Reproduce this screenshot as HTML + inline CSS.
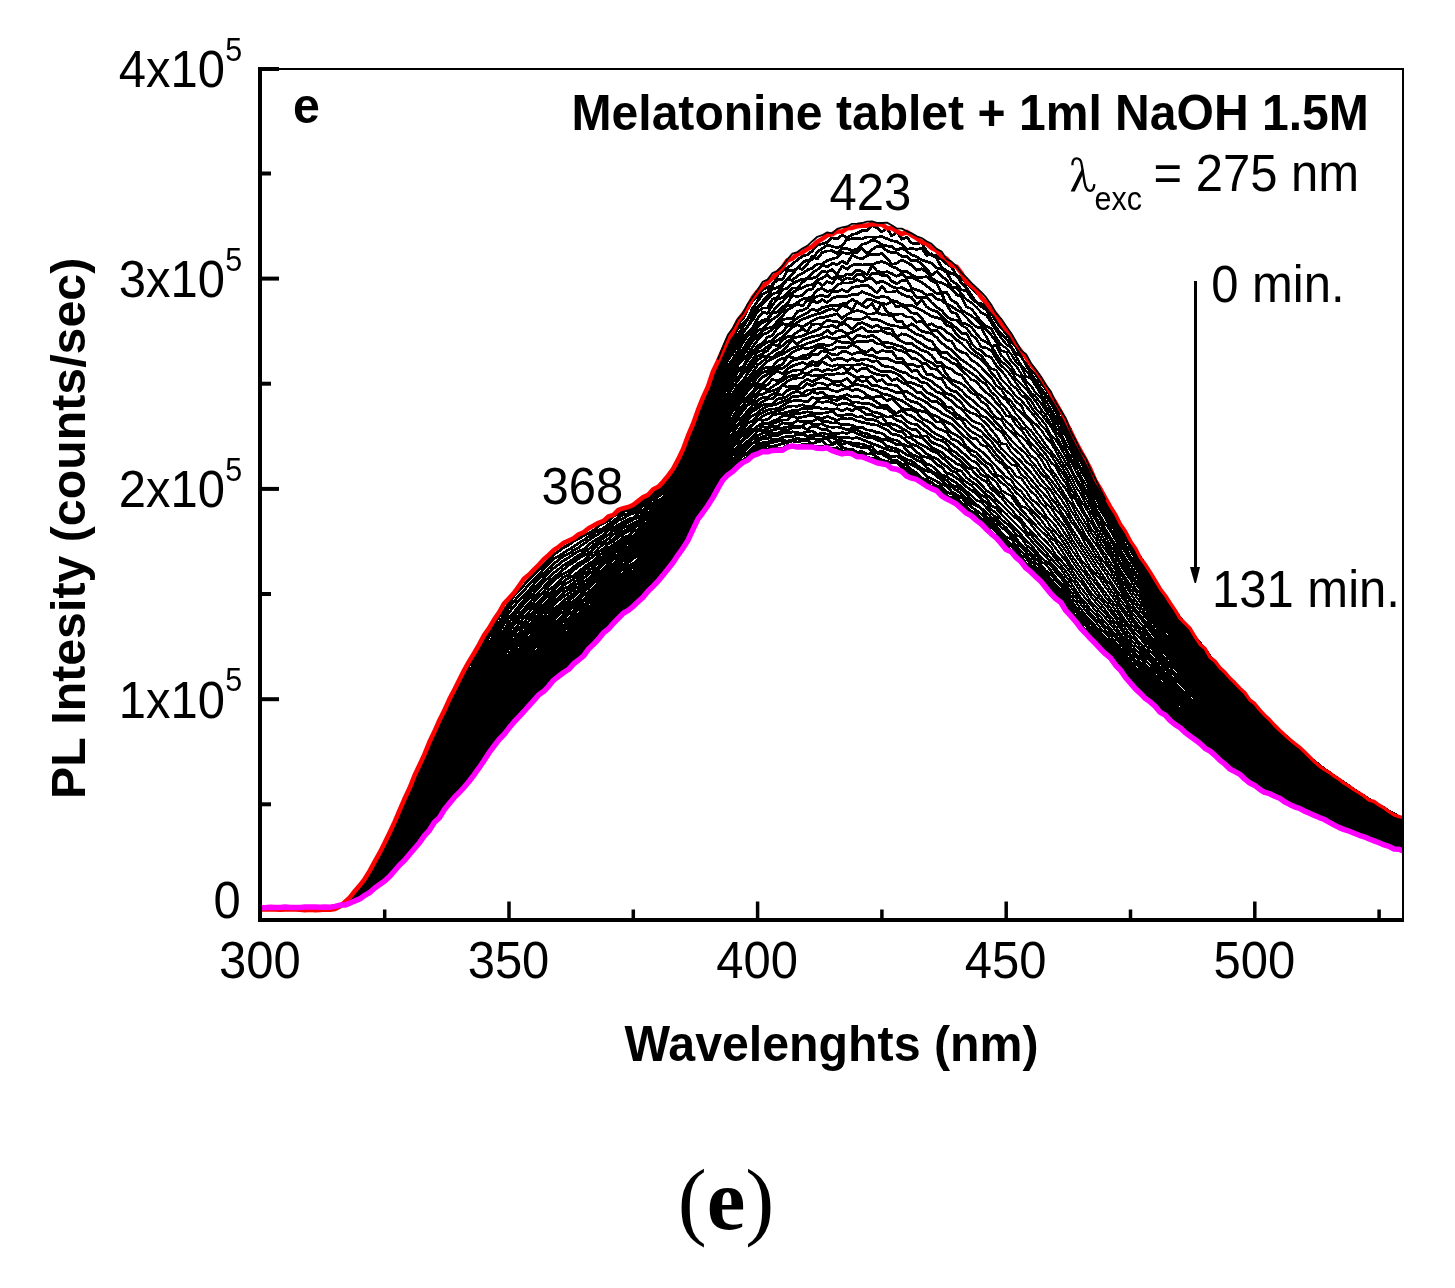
<!DOCTYPE html>
<html><head><meta charset="utf-8"><style>
html,body{margin:0;padding:0;background:#fff;}
body{width:1455px;height:1288px;overflow:hidden;font-family:"Liberation Sans",sans-serif;}
svg{display:block;will-change:transform;}
</style></head><body><svg width="1455" height="1288" viewBox="0 0 1455 1288"><rect width="1455" height="1288" fill="#fff"/><clipPath id="c"><rect x="262" y="70" width="1140" height="848"/></clipPath><g clip-path="url(#c)" fill="none" stroke-linejoin="round"><g stroke="#000" shape-rendering="crispEdges" stroke-linecap="round"><path stroke-width="2.2" d="M1070.8 429.5L1075.8 440.6L1080.8 450.1L1085.8 459.1L1090.7 471.1L1095.7 480.1L1100.7 489.3L1105.6 497.7L1110.6 507.4L1115.6 515.7L1120.6 524.9L1125.5 533.1L1130.5 541.0L1135.5 550.0L1140.4 556.6M1070.8 434.2L1075.8 443.1L1080.8 453.3L1085.8 463.8L1090.7 471.4L1095.7 481.8L1100.7 491.6L1105.6 500.6L1110.6 509.0L1115.6 518.8L1120.6 527.1L1125.5 535.0L1130.5 543.1L1135.5 551.6L1140.4 558.9M1070.8 436.5L1075.8 447.1L1080.8 457.7L1085.8 465.7L1090.7 475.6L1095.7 485.3L1100.7 495.1L1105.6 502.9L1110.6 512.7L1115.6 520.0L1120.6 529.3L1125.5 537.9L1130.5 546.4L1135.5 554.0L1140.4 560.2M1070.8 441.1L1075.8 449.3L1080.8 460.2L1085.8 468.6L1090.7 478.7L1095.7 490.1L1100.7 497.7L1105.6 505.5L1110.6 514.6L1115.6 523.6L1120.6 532.9L1125.5 540.5L1130.5 547.7L1135.5 555.9L1140.4 563.5M1070.8 441.9L1075.8 453.5L1080.8 462.5L1085.8 472.8L1090.7 482.5L1095.7 491.0L1100.7 500.0L1105.6 509.6L1110.6 518.0L1115.6 526.0L1120.6 536.4L1125.5 545.0L1130.5 550.7L1135.5 559.1L1140.4 567.7M1070.8 447.3L1075.8 457.7L1080.8 468.3L1085.8 476.8L1090.7 486.2L1095.7 494.3L1100.7 505.0L1105.6 513.8L1110.6 521.2L1115.6 529.6L1120.6 537.5L1125.5 547.4L1130.5 556.2L1135.5 562.5L1140.4 570.1M1070.8 451.2L1075.8 462.4L1080.8 471.1L1085.8 478.6L1090.7 490.0L1095.7 498.4L1100.7 507.5L1105.6 517.3L1110.6 524.0L1115.6 532.6L1120.6 542.7L1125.5 550.3L1130.5 558.9L1135.5 565.5L1140.4 572.2M1070.8 457.7L1075.8 466.7L1080.8 476.4L1085.8 484.5L1090.7 493.5L1095.7 503.9L1100.7 511.0L1105.6 518.7L1110.6 529.1L1115.6 536.5L1120.6 545.3L1125.5 553.0L1130.5 560.8L1135.5 568.2L1140.4 575.8M1070.8 461.6L1075.8 471.6L1080.8 479.9L1085.8 489.6L1090.7 497.7L1095.7 508.3L1100.7 516.6L1105.6 524.3L1110.6 531.3L1115.6 540.2L1120.6 549.8L1125.5 558.4L1130.5 565.3L1135.5 573.0L1140.4 579.2M1070.8 467.7L1075.8 477.5L1080.8 485.2L1085.8 493.5L1090.7 502.7L1095.7 512.5L1100.7 519.5L1105.6 529.2L1110.6 537.3L1115.6 544.8L1120.6 553.5L1125.5 561.7L1130.5 569.7L1135.5 575.6L1140.4 583.7M1070.8 470.1L1075.8 480.1L1080.8 489.3L1085.8 498.8L1090.7 507.2L1095.7 516.9L1100.7 524.4L1105.6 532.6L1110.6 540.6L1115.6 549.2L1120.6 556.8L1125.5 565.8L1130.5 573.0L1135.5 580.0L1140.4 586.9M1070.8 476.4L1075.8 486.6L1080.8 493.9L1085.8 503.8L1090.7 512.0L1095.7 520.3L1100.7 529.3L1105.6 536.3L1110.6 546.0L1115.6 552.6L1120.6 562.2L1125.5 568.6L1130.5 577.0L1135.5 583.2L1140.4 590.1M1070.8 482.1L1075.8 492.2L1080.8 500.5L1085.8 507.9L1090.7 516.7L1095.7 526.4L1100.7 533.7L1105.6 541.2L1110.6 549.9L1115.6 557.0L1120.6 565.1L1125.5 573.0L1130.5 579.7L1135.5 588.2L1140.4 594.0M1070.8 487.9L1075.8 497.1L1080.8 504.6L1085.8 514.9L1090.7 521.8L1095.7 530.2L1100.7 538.0L1105.6 545.5L1110.6 553.9L1115.6 561.5L1120.6 570.4L1125.5 577.7L1130.5 585.0L1135.5 591.7L1140.4 597.9M1070.8 493.9L1075.8 500.1L1080.8 509.4L1085.8 517.5L1090.7 528.1L1095.7 534.3L1100.7 542.9L1105.6 550.1L1110.6 557.1L1115.6 565.7L1120.6 574.1L1125.5 581.5L1130.5 589.4L1135.5 595.7L1140.4 602.5M1070.8 497.5L1075.8 507.8L1080.8 515.2L1085.8 523.6L1090.7 532.2L1095.7 539.2L1100.7 548.0L1105.6 555.1L1110.6 562.9L1115.6 569.9L1120.6 578.4L1125.5 585.5L1130.5 593.5L1135.5 600.5L1140.4 607.0M1070.8 503.5L1075.8 513.4L1080.8 521.0L1085.8 528.9L1090.7 537.3L1095.7 544.0L1100.7 551.9L1105.6 559.7L1110.6 567.5L1115.6 574.5L1120.6 582.4L1125.5 590.5L1130.5 598.0L1135.5 604.5L1140.4 611.2M1070.8 509.9L1075.8 518.1L1080.8 526.5L1085.8 535.8L1090.7 542.5L1095.7 550.0L1100.7 558.1L1105.6 563.7L1110.6 571.1L1115.6 579.0L1120.6 586.5L1125.5 594.7L1130.5 601.4L1135.5 609.1L1140.4 615.4M1070.8 516.3L1075.8 524.3L1080.8 531.8L1085.8 539.5L1090.7 546.5L1095.7 555.0L1100.7 562.0L1105.6 569.2L1110.6 576.0L1115.6 583.6L1120.6 591.1L1125.5 598.8L1130.5 606.4L1135.5 612.6L1140.4 618.1M1070.8 521.1L1075.8 527.6L1080.8 535.4L1085.8 544.9L1090.7 552.2L1095.7 559.7L1100.7 566.4L1105.6 573.6L1110.6 581.2L1115.6 589.0L1120.6 595.4L1125.5 602.2L1130.5 610.6L1135.5 616.9L1140.4 623.2M1070.8 527.0L1075.8 534.6L1080.8 542.7L1085.8 549.8L1090.7 556.8L1095.7 564.9L1100.7 572.0L1105.6 579.6L1110.6 584.4L1115.6 592.5L1120.6 600.4L1125.5 606.7L1130.5 614.1L1135.5 621.7L1140.4 627.6M1070.8 531.2L1075.8 539.5L1080.8 547.2L1085.8 554.8L1090.7 561.9L1095.7 569.9L1100.7 576.5L1105.6 582.3L1110.6 590.0L1115.6 596.5L1120.6 605.1L1125.5 611.3L1130.5 618.3L1135.5 625.1L1140.4 631.1M1070.8 537.7L1075.8 545.1L1080.8 552.3L1085.8 559.7L1090.7 569.2L1095.7 574.2L1100.7 580.2L1105.6 587.3L1110.6 594.3L1115.6 601.3L1120.6 608.6L1125.5 615.3L1130.5 622.9L1135.5 629.0L1140.4 634.7M1070.8 542.6L1075.8 550.2L1080.8 559.2L1085.8 565.2L1090.7 571.8L1095.7 579.7L1100.7 586.3L1105.6 593.0L1110.6 599.8L1115.6 605.4L1120.6 613.4L1125.5 620.5L1130.5 626.8L1135.5 633.4L1140.4 638.1M1070.8 548.5L1075.8 555.8L1080.8 562.4L1085.8 570.8L1090.7 577.3L1095.7 583.5L1100.7 590.1L1105.6 597.4L1110.6 603.3L1115.6 610.2L1120.6 617.4L1125.5 624.2L1130.5 630.3L1135.5 637.6L1140.4 643.5M1070.8 554.1L1075.8 561.4L1080.8 568.3L1085.8 574.4L1090.7 581.9L1095.7 588.8L1100.7 596.0L1105.6 601.6L1110.6 607.8L1115.6 615.0L1120.6 621.3L1125.5 628.3L1130.5 635.1L1135.5 640.8L1140.4 647.5M1070.8 558.7L1075.8 566.2L1080.8 573.2L1085.8 579.8L1090.7 586.6L1095.7 593.6L1100.7 599.6L1105.6 605.3L1110.6 611.8L1115.6 618.4L1120.6 625.5L1125.5 632.4L1130.5 639.0L1135.5 645.1L1140.4 651.0M1070.8 564.7L1075.8 571.0L1080.8 577.9L1085.8 585.2L1090.7 592.1L1095.7 598.1L1100.7 603.7L1105.6 610.3L1110.6 616.7L1115.6 622.5L1120.6 629.0L1125.5 636.4L1130.5 643.0L1135.5 649.5L1140.4 654.8M1070.8 568.4L1075.8 576.3L1080.8 581.9L1085.8 588.7L1090.7 596.0L1095.7 602.5L1100.7 608.2L1105.6 613.4L1110.6 620.5L1115.6 626.3L1120.6 633.7L1125.5 640.1L1130.5 646.8L1135.5 653.1L1140.4 658.3M1070.8 573.1L1075.8 580.5L1080.8 587.7L1085.8 593.8L1090.7 601.4L1095.7 606.7L1100.7 612.8L1105.6 618.1L1110.6 624.1L1115.6 630.5L1120.6 637.4L1125.5 643.8L1130.5 650.3L1135.5 656.7L1140.4 662.1M1070.8 578.3L1075.8 584.6L1080.8 592.5L1085.8 598.9L1090.7 604.3L1095.7 610.9L1100.7 617.0L1105.6 622.5L1110.6 628.7L1115.6 634.9L1120.6 640.5L1125.5 647.5L1130.5 654.2L1135.5 660.5L1140.4 666.0M1070.8 582.5L1075.8 590.1L1080.8 597.8L1085.8 603.0L1090.7 609.8L1095.7 614.8L1100.7 620.9L1105.6 626.4L1110.6 632.3L1115.6 637.9L1120.6 644.3L1125.5 651.2L1130.5 657.0L1135.5 663.3L1140.4 669.1M1070.8 587.0L1075.8 594.3L1080.8 600.5L1085.8 606.8L1090.7 614.0L1095.7 619.3L1100.7 623.8L1105.6 630.3L1110.6 635.6L1115.6 642.3L1120.6 648.2L1125.5 654.5L1130.5 661.0L1135.5 667.1L1140.4 672.2M1070.8 591.8L1075.8 597.9L1080.8 604.3L1085.8 611.0L1090.7 616.9L1095.7 621.6L1100.7 628.6L1105.6 633.7L1110.6 639.3L1115.6 645.4L1120.6 651.1L1125.5 657.8L1130.5 664.5L1135.5 670.5L1140.4 675.5M1070.8 595.7L1075.8 602.0L1080.8 608.8L1085.8 615.6L1090.7 620.5L1095.7 626.3L1100.7 632.2L1105.6 637.9L1110.6 642.4L1115.6 648.6L1120.6 654.5L1125.5 660.7L1130.5 667.1L1135.5 673.0L1140.4 677.8M1070.8 599.7L1075.8 606.4L1080.8 612.8L1085.8 618.6L1090.7 623.9L1095.7 629.7L1100.7 635.4L1105.6 640.2L1110.6 645.7L1115.6 651.1L1120.6 658.0L1125.5 663.7L1130.5 669.9L1135.5 675.9L1140.4 680.9M1070.8 603.1L1075.8 610.1L1080.8 615.8L1085.8 621.6L1090.7 627.5L1095.7 633.0L1100.7 638.1L1105.6 643.1L1110.6 648.3L1115.6 654.2L1120.6 660.2L1125.5 666.6L1130.5 672.8L1135.5 678.6L1140.4 683.7M1070.8 606.7L1075.8 611.9L1080.8 618.8L1085.8 624.1L1090.7 630.1L1095.7 635.9L1100.7 641.2L1105.6 646.4L1110.6 651.2L1115.6 657.0L1120.6 663.0L1125.5 669.2L1130.5 675.1L1135.5 681.4L1140.4 686.1M1070.8 608.3L1075.8 616.0L1080.8 622.1L1085.8 625.9L1090.7 632.3L1095.7 638.2L1100.7 643.3L1105.6 648.4L1110.6 653.8L1115.6 659.5L1120.6 665.5L1125.5 671.8L1130.5 677.4L1135.5 683.5L1140.4 687.7M1070.8 611.1L1075.8 618.1L1080.8 623.9L1085.8 629.9L1090.7 635.2L1095.7 640.1L1100.7 645.3L1105.6 650.9L1110.6 655.5L1115.6 660.9L1120.6 667.4L1125.5 673.5L1130.5 679.3L1135.5 685.2L1140.4 689.8M1070.8 614.2L1075.8 620.9L1080.8 625.7L1085.8 632.2L1090.7 637.5L1095.7 641.7L1100.7 646.7L1105.6 652.0L1110.6 657.5L1115.6 663.1L1120.6 668.8L1125.5 674.9L1130.5 680.9L1135.5 686.8L1140.4 691.8M1070.8 615.2L1075.8 621.1L1080.8 627.0L1085.8 633.2L1090.7 638.5L1095.7 643.8L1100.7 648.2L1105.6 654.3L1110.6 659.1L1115.6 664.5L1120.6 669.9L1125.5 676.6L1130.5 682.1L1135.5 688.4L1140.4 693.1"/><path stroke-width="2.4" d="M1001.2 324.8L1006.2 330.5L1011.2 338.0L1016.1 344.5L1021.1 352.2L1026.1 358.5L1031.1 365.5L1036.0 371.1L1041.0 378.8L1046.0 389.0L1050.9 394.4L1055.9 402.5L1060.9 412.5L1065.9 422.6L1070.8 429.5M1140.4 556.6L1145.4 564.8L1150.4 572.7L1155.4 580.5L1160.3 588.4L1165.3 596.4L1170.3 603.4L1175.2 610.6L1180.2 617.3L1185.2 624.2L1190.2 630.4L1195.1 636.7L1200.1 642.8M1001.2 328.3L1006.2 333.6L1011.2 342.2L1016.1 347.1L1021.1 357.0L1026.1 363.6L1031.1 370.4L1036.0 375.2L1041.0 383.3L1046.0 389.7L1050.9 397.4L1055.9 405.9L1060.9 413.4L1065.9 422.3L1070.8 434.2M1140.4 558.9L1145.4 565.5L1150.4 575.1L1155.4 582.8L1160.3 590.9L1165.3 597.6L1170.3 605.1L1175.2 611.8L1180.2 619.9L1185.2 625.2L1190.2 632.3L1195.1 637.9L1200.1 644.6M1001.2 333.6L1006.2 338.7L1011.2 346.2L1016.1 353.8L1021.1 355.7L1026.1 365.9L1031.1 373.4L1036.0 380.3L1041.0 388.2L1046.0 394.6L1050.9 401.5L1055.9 409.8L1060.9 418.8L1065.9 426.4L1070.8 436.5M1140.4 560.2L1145.4 568.2L1150.4 576.8L1155.4 584.3L1160.3 591.7L1165.3 600.3L1170.3 607.4L1175.2 614.5L1180.2 620.6L1185.2 627.6L1190.2 633.4L1195.1 640.4L1200.1 646.0M1001.2 338.1L1006.2 344.0L1011.2 348.2L1016.1 356.6L1021.1 364.8L1026.1 371.0L1031.1 376.7L1036.0 382.4L1041.0 390.9L1046.0 396.4L1050.9 403.6L1055.9 412.3L1060.9 423.0L1065.9 430.7L1070.8 441.1M1140.4 563.5L1145.4 571.3L1150.4 579.7L1155.4 587.2L1160.3 595.1L1165.3 601.7L1170.3 609.9L1175.2 617.3L1180.2 623.3L1185.2 629.4L1190.2 635.7L1195.1 642.7L1200.1 648.0M1001.2 344.7L1006.2 348.2L1011.2 354.3L1016.1 361.9L1021.1 366.3L1026.1 376.8L1031.1 378.3L1036.0 386.5L1041.0 394.1L1046.0 401.1L1050.9 409.2L1055.9 417.5L1060.9 425.3L1065.9 435.5L1070.8 441.9M1140.4 567.7L1145.4 574.4L1150.4 581.9L1155.4 589.5L1160.3 597.1L1165.3 604.6L1170.3 611.7L1175.2 619.2L1180.2 625.1L1185.2 631.4L1190.2 637.5L1195.1 644.2L1200.1 650.2M1001.2 350.7L1006.2 352.2L1011.2 361.2L1016.1 365.9L1021.1 373.7L1026.1 380.8L1031.1 386.0L1036.0 393.5L1041.0 397.2L1046.0 407.1L1050.9 412.7L1055.9 422.2L1060.9 430.0L1065.9 436.1L1070.8 447.3M1140.4 570.1L1145.4 577.2L1150.4 584.2L1155.4 593.1L1160.3 599.6L1165.3 607.4L1170.3 614.7L1175.2 621.8L1180.2 628.0L1185.2 634.2L1190.2 640.0L1195.1 646.1L1200.1 652.9M1001.2 355.4L1006.2 360.6L1011.2 366.0L1016.1 374.2L1021.1 377.1L1026.1 385.1L1031.1 393.0L1036.0 397.2L1041.0 403.4L1046.0 410.7L1050.9 417.6L1055.9 427.8L1060.9 433.4L1065.9 443.9L1070.8 451.2M1140.4 572.2L1145.4 580.0L1150.4 588.3L1155.4 595.9L1160.3 603.0L1165.3 610.4L1170.3 617.4L1175.2 624.0L1180.2 631.3L1185.2 636.7L1190.2 642.5L1195.1 648.9L1200.1 655.6M1001.2 361.7L1006.2 365.0L1011.2 370.7L1016.1 379.2L1021.1 384.2L1026.1 388.8L1031.1 395.9L1036.0 401.7L1041.0 409.3L1046.0 415.7L1050.9 424.2L1055.9 431.7L1060.9 437.5L1065.9 448.1L1070.8 457.7M1140.4 575.8L1145.4 583.6L1150.4 589.9L1155.4 598.9L1160.3 605.6L1165.3 612.9L1170.3 620.6L1175.2 627.0L1180.2 632.7L1185.2 640.1L1190.2 645.2L1195.1 651.8L1200.1 658.0M1001.2 365.8L1006.2 369.8L1011.2 376.3L1016.1 383.0L1021.1 390.0L1026.1 395.5L1031.1 400.7L1036.0 408.9L1041.0 413.6L1046.0 420.2L1050.9 426.6L1055.9 435.2L1060.9 444.6L1065.9 451.0L1070.8 461.6M1140.4 579.2L1145.4 586.7L1150.4 594.3L1155.4 602.0L1160.3 608.7L1165.3 616.9L1170.3 623.9L1175.2 629.6L1180.2 635.7L1185.2 642.4L1190.2 648.1L1195.1 653.6L1200.1 660.8M1001.2 370.5L1006.2 376.7L1011.2 384.6L1016.1 388.2L1021.1 395.1L1026.1 399.0L1031.1 407.1L1036.0 413.5L1041.0 418.9L1046.0 425.4L1050.9 435.2L1055.9 439.9L1060.9 448.1L1065.9 456.8L1070.8 467.7M1140.4 583.7L1145.4 590.2L1150.4 597.4L1155.4 605.3L1160.3 612.5L1165.3 619.3L1170.3 625.9L1175.2 632.7L1180.2 639.7L1185.2 645.8L1190.2 651.4L1195.1 657.6L1200.1 663.1M1001.2 379.1L1006.2 384.1L1011.2 389.8L1016.1 396.3L1021.1 400.2L1026.1 406.3L1031.1 412.1L1036.0 418.2L1041.0 425.1L1046.0 430.1L1050.9 437.7L1055.9 447.0L1060.9 454.2L1065.9 463.0L1070.8 470.1M1140.4 586.9L1145.4 594.2L1150.4 601.7L1155.4 609.1L1160.3 616.1L1165.3 623.4L1170.3 629.8L1175.2 636.7L1180.2 642.2L1185.2 647.4L1190.2 654.6L1195.1 660.1L1200.1 665.7M1001.2 385.3L1006.2 391.0L1011.2 394.9L1016.1 401.9L1021.1 405.3L1026.1 415.5L1031.1 420.2L1036.0 424.6L1041.0 429.7L1046.0 437.6L1050.9 442.4L1055.9 451.2L1060.9 460.3L1065.9 468.0L1070.8 476.4M1140.4 590.1L1145.4 597.8L1150.4 605.2L1155.4 611.7L1160.3 619.9L1165.3 626.1L1170.3 633.1L1175.2 639.5L1180.2 645.5L1185.2 650.5L1190.2 657.6L1195.1 663.2L1200.1 668.8M1001.2 389.3L1006.2 397.1L1011.2 401.4L1016.1 408.2L1021.1 412.4L1026.1 418.3L1031.1 423.4L1036.0 431.3L1041.0 437.6L1046.0 445.1L1050.9 451.2L1055.9 457.7L1060.9 464.9L1065.9 473.6L1070.8 482.1M1140.4 594.0L1145.4 601.2L1150.4 608.2L1155.4 616.1L1160.3 622.9L1165.3 629.9L1170.3 635.8L1175.2 642.6L1180.2 648.0L1185.2 654.4L1190.2 660.2L1195.1 665.9L1200.1 672.4M1001.2 396.1L1006.2 400.3L1011.2 406.4L1016.1 414.2L1021.1 419.6L1026.1 426.6L1031.1 430.7L1036.0 437.5L1041.0 443.9L1046.0 449.8L1050.9 455.1L1055.9 462.9L1060.9 470.7L1065.9 477.9L1070.8 487.9M1140.4 597.9L1145.4 605.3L1150.4 612.0L1155.4 619.9L1160.3 626.5L1165.3 634.0L1170.3 640.1L1175.2 646.3L1180.2 651.8L1185.2 657.5L1190.2 663.4L1195.1 669.2L1200.1 674.5M1001.2 403.5L1006.2 408.5L1011.2 415.1L1016.1 419.4L1021.1 426.3L1026.1 429.9L1031.1 437.3L1036.0 442.3L1041.0 448.7L1046.0 454.7L1050.9 462.3L1055.9 467.0L1060.9 476.5L1065.9 483.0L1070.8 493.9M1140.4 602.5L1145.4 609.1L1150.4 616.3L1155.4 624.0L1160.3 630.3L1165.3 637.0L1170.3 643.1L1175.2 649.0L1180.2 655.4L1185.2 660.2L1190.2 666.0L1195.1 671.9L1200.1 677.5M1001.2 408.1L1006.2 415.7L1011.2 417.1L1016.1 425.3L1021.1 429.5L1026.1 436.6L1031.1 443.7L1036.0 447.9L1041.0 454.6L1046.0 459.8L1050.9 469.1L1055.9 475.4L1060.9 482.9L1065.9 488.8L1070.8 497.5M1140.4 607.0L1145.4 613.4L1150.4 620.2L1155.4 625.9L1160.3 634.2L1165.3 640.4L1170.3 646.8L1175.2 652.6L1180.2 657.8L1185.2 663.6L1190.2 669.6L1195.1 675.5L1200.1 680.4M1001.2 415.4L1006.2 421.7L1011.2 425.4L1016.1 432.9L1021.1 436.4L1026.1 441.3L1031.1 447.8L1036.0 452.9L1041.0 459.1L1046.0 467.7L1050.9 473.0L1055.9 480.6L1060.9 488.6L1065.9 496.5L1070.8 503.5M1140.4 611.2L1145.4 617.0L1150.4 623.7L1155.4 630.8L1160.3 637.4L1165.3 643.9L1170.3 650.8L1175.2 656.0L1180.2 661.2L1185.2 667.1L1190.2 673.1L1195.1 678.1L1200.1 684.0M1001.2 419.5L1006.2 427.6L1011.2 431.8L1016.1 436.5L1021.1 443.1L1026.1 449.1L1031.1 456.0L1036.0 459.2L1041.0 467.5L1046.0 474.5L1050.9 479.7L1055.9 486.7L1060.9 493.3L1065.9 500.2L1070.8 509.9M1140.4 615.4L1145.4 621.5L1150.4 627.6L1155.4 634.7L1160.3 641.5L1165.3 647.3L1170.3 653.9L1175.2 659.7L1180.2 664.9L1185.2 670.7L1190.2 676.0L1195.1 680.9L1200.1 686.7M1001.2 427.8L1006.2 434.0L1011.2 440.0L1016.1 445.2L1021.1 449.5L1026.1 454.1L1031.1 461.0L1036.0 466.6L1041.0 473.6L1046.0 478.2L1050.9 484.9L1055.9 492.6L1060.9 498.7L1065.9 506.6L1070.8 516.3M1140.4 618.1L1145.4 624.8L1150.4 631.0L1155.4 638.0L1160.3 645.1L1165.3 651.4L1170.3 657.1L1175.2 662.9L1180.2 667.9L1185.2 673.0L1190.2 678.4L1195.1 684.0L1200.1 690.0M1001.2 431.6L1006.2 438.9L1011.2 446.1L1016.1 450.7L1021.1 455.2L1026.1 461.9L1031.1 465.2L1036.0 472.5L1041.0 479.1L1046.0 485.2L1050.9 490.4L1055.9 498.6L1060.9 506.3L1065.9 512.1L1070.8 521.1M1140.4 623.2L1145.4 629.2L1150.4 636.4L1155.4 642.1L1160.3 648.8L1165.3 654.3L1170.3 660.6L1175.2 666.0L1180.2 671.4L1185.2 676.8L1190.2 681.8L1195.1 687.8L1200.1 692.3M1001.2 443.5L1006.2 444.1L1011.2 452.4L1016.1 457.1L1021.1 461.5L1026.1 467.6L1031.1 472.8L1036.0 478.9L1041.0 485.5L1046.0 489.3L1050.9 498.1L1055.9 503.4L1060.9 511.7L1065.9 518.4L1070.8 527.0M1140.4 627.6L1145.4 632.8L1150.4 639.9L1155.4 646.3L1160.3 652.6L1165.3 658.7L1170.3 664.4L1175.2 669.4L1180.2 674.6L1185.2 680.1L1190.2 685.2L1195.1 690.9L1200.1 695.5M1001.2 448.4L1006.2 453.0L1011.2 457.9L1016.1 462.6L1021.1 467.9L1026.1 473.6L1031.1 479.4L1036.0 485.4L1041.0 491.1L1046.0 496.4L1050.9 503.0L1055.9 509.9L1060.9 515.1L1065.9 523.2L1070.8 531.2M1140.4 631.1L1145.4 637.1L1150.4 643.9L1155.4 649.8L1160.3 656.3L1165.3 662.5L1170.3 667.5L1175.2 673.6L1180.2 678.3L1185.2 683.4L1190.2 688.0L1195.1 693.7L1200.1 698.7M1001.2 453.4L1006.2 459.1L1011.2 464.4L1016.1 465.8L1021.1 474.7L1026.1 478.2L1031.1 485.5L1036.0 490.2L1041.0 496.7L1046.0 503.7L1050.9 507.5L1055.9 515.5L1060.9 522.0L1065.9 528.0L1070.8 537.7M1140.4 634.7L1145.4 640.8L1150.4 647.0L1155.4 653.7L1160.3 659.8L1165.3 665.6L1170.3 671.3L1175.2 676.5L1180.2 681.9L1185.2 686.1L1190.2 691.5L1195.1 696.6L1200.1 701.3M1001.2 459.4L1006.2 465.4L1011.2 469.2L1016.1 476.4L1021.1 478.2L1026.1 485.0L1031.1 491.8L1036.0 495.6L1041.0 503.2L1046.0 507.5L1050.9 514.8L1055.9 520.4L1060.9 527.3L1065.9 535.0L1070.8 542.6M1140.4 638.1L1145.4 644.8L1150.4 651.6L1155.4 656.5L1160.3 663.1L1165.3 669.4L1170.3 674.9L1175.2 680.2L1180.2 684.0L1185.2 689.4L1190.2 694.7L1195.1 699.1L1200.1 704.4M1001.2 463.2L1006.2 468.7L1011.2 475.8L1016.1 481.0L1021.1 486.3L1026.1 491.1L1031.1 499.1L1036.0 502.6L1041.0 507.7L1046.0 515.7L1050.9 520.9L1055.9 526.5L1060.9 534.1L1065.9 540.5L1070.8 548.5M1140.4 643.5L1145.4 649.2L1150.4 655.3L1155.4 660.9L1160.3 667.2L1165.3 673.3L1170.3 678.0L1175.2 683.5L1180.2 688.2L1185.2 692.8L1190.2 698.0L1195.1 702.6L1200.1 707.1M1001.2 471.6L1006.2 477.1L1011.2 479.9L1016.1 488.0L1021.1 491.1L1026.1 498.4L1031.1 503.1L1036.0 509.5L1041.0 514.3L1046.0 519.4L1050.9 527.0L1055.9 532.5L1060.9 538.8L1065.9 545.9L1070.8 554.1M1140.4 647.5L1145.4 652.9L1150.4 658.4L1155.4 664.1L1160.3 670.5L1165.3 676.7L1170.3 681.3L1175.2 686.0L1180.2 691.0L1185.2 695.2L1190.2 699.9L1195.1 705.2L1200.1 710.0M1001.2 476.5L1006.2 482.2L1011.2 486.3L1016.1 492.7L1021.1 496.8L1026.1 503.4L1031.1 509.7L1036.0 514.4L1041.0 519.7L1046.0 526.9L1050.9 531.1L1055.9 538.6L1060.9 544.0L1065.9 551.3L1070.8 558.7M1140.4 651.0L1145.4 656.0L1150.4 661.2L1155.4 668.0L1160.3 673.4L1165.3 679.3L1170.3 684.4L1175.2 689.6L1180.2 693.7L1185.2 698.7L1190.2 703.3L1195.1 707.9L1200.1 712.6M1001.2 482.5L1006.2 486.2L1011.2 492.0L1016.1 498.8L1021.1 506.2L1026.1 507.9L1031.1 513.5L1036.0 520.0L1041.0 525.8L1046.0 530.7L1050.9 537.3L1055.9 542.1L1060.9 549.2L1065.9 556.9L1070.8 564.7M1140.4 654.8L1145.4 660.0L1150.4 665.6L1155.4 671.2L1160.3 677.0L1165.3 682.8L1170.3 687.8L1175.2 692.9L1180.2 696.7L1185.2 701.6L1190.2 706.1L1195.1 711.4L1200.1 715.8M1001.2 490.1L1006.2 493.4L1011.2 495.9L1016.1 503.6L1021.1 509.7L1026.1 514.8L1031.1 520.8L1036.0 525.7L1041.0 531.0L1046.0 535.2L1050.9 541.8L1055.9 548.7L1060.9 555.1L1065.9 560.8L1070.8 568.4M1140.4 658.3L1145.4 664.1L1150.4 669.6L1155.4 675.1L1160.3 681.1L1165.3 686.0L1170.3 691.4L1175.2 695.7L1180.2 699.7L1185.2 704.5L1190.2 709.0L1195.1 713.6L1200.1 718.4M1001.2 493.0L1006.2 499.5L1011.2 503.8L1016.1 508.9L1021.1 514.5L1026.1 519.0L1031.1 524.4L1036.0 531.1L1041.0 536.8L1046.0 541.5L1050.9 546.8L1055.9 555.2L1060.9 560.4L1065.9 566.6L1070.8 573.1M1140.4 662.1L1145.4 667.8L1150.4 672.6L1155.4 678.0L1160.3 683.9L1165.3 689.8L1170.3 694.1L1175.2 698.6L1180.2 702.8L1185.2 707.4L1190.2 711.9L1195.1 716.2L1200.1 720.9M1001.2 497.4L1006.2 503.9L1011.2 509.1L1016.1 515.2L1021.1 519.4L1026.1 526.2L1031.1 531.5L1036.0 536.6L1041.0 542.3L1046.0 547.3L1050.9 552.5L1055.9 559.1L1060.9 565.2L1065.9 571.4L1070.8 578.3M1140.4 666.0L1145.4 670.1L1150.4 676.0L1155.4 681.7L1160.3 687.4L1165.3 692.9L1170.3 697.0L1175.2 701.4L1180.2 705.4L1185.2 710.2L1190.2 714.2L1195.1 719.3L1200.1 723.7M1001.2 504.3L1006.2 509.0L1011.2 514.3L1016.1 518.3L1021.1 523.1L1026.1 531.1L1031.1 535.3L1036.0 541.5L1041.0 546.4L1046.0 552.1L1050.9 558.2L1055.9 563.9L1060.9 568.6L1065.9 576.6L1070.8 582.5M1140.4 669.1L1145.4 673.8L1150.4 678.9L1155.4 684.3L1160.3 690.2L1165.3 695.3L1170.3 700.1L1175.2 704.2L1180.2 708.8L1185.2 712.6L1190.2 716.7L1195.1 721.6L1200.1 726.0M1001.2 510.0L1006.2 513.8L1011.2 519.5L1016.1 524.4L1021.1 529.2L1026.1 534.4L1031.1 540.5L1036.0 546.2L1041.0 551.4L1046.0 556.3L1050.9 563.0L1055.9 568.3L1060.9 574.3L1065.9 581.1L1070.8 587.0M1140.4 672.2L1145.4 677.2L1150.4 682.3L1155.4 687.8L1160.3 692.8L1165.3 698.3L1170.3 702.9L1175.2 706.9L1180.2 711.2L1185.2 715.0L1190.2 719.5L1195.1 723.8L1200.1 728.5M1001.2 513.9L1006.2 519.2L1011.2 524.7L1016.1 529.6L1021.1 534.4L1026.1 540.7L1031.1 545.2L1036.0 551.2L1041.0 557.6L1046.0 561.6L1050.9 565.5L1055.9 572.4L1060.9 577.7L1065.9 584.8L1070.8 591.8M1140.4 675.5L1145.4 680.2L1150.4 685.1L1155.4 690.9L1160.3 696.0L1165.3 701.0L1170.3 705.0L1175.2 709.4L1180.2 713.1L1185.2 718.0L1190.2 722.0L1195.1 726.1L1200.1 730.5M1001.2 519.3L1006.2 523.4L1011.2 527.6L1016.1 535.0L1021.1 537.4L1026.1 545.2L1031.1 548.4L1036.0 554.7L1041.0 561.6L1046.0 564.4L1050.9 570.6L1055.9 577.7L1060.9 582.6L1065.9 588.6L1070.8 595.7M1140.4 677.8L1145.4 682.6L1150.4 687.9L1155.4 693.3L1160.3 698.9L1165.3 703.5L1170.3 708.0L1175.2 712.2L1180.2 716.1L1185.2 720.0L1190.2 724.2L1195.1 728.9L1200.1 732.7M1001.2 523.6L1006.2 527.8L1011.2 533.3L1016.1 538.6L1021.1 544.2L1026.1 548.7L1031.1 553.1L1036.0 558.9L1041.0 564.6L1046.0 570.8L1050.9 574.2L1055.9 581.1L1060.9 585.4L1065.9 593.1L1070.8 599.7M1140.4 680.9L1145.4 685.8L1150.4 691.1L1155.4 696.1L1160.3 701.4L1165.3 706.5L1170.3 710.3L1175.2 714.4L1180.2 718.5L1185.2 722.7L1190.2 726.1L1195.1 730.3L1200.1 734.9M1001.2 527.2L1006.2 531.0L1011.2 536.7L1016.1 540.9L1021.1 547.2L1026.1 552.2L1031.1 556.1L1036.0 563.1L1041.0 568.5L1046.0 572.8L1050.9 579.3L1055.9 584.9L1060.9 589.8L1065.9 596.7L1070.8 603.1M1140.4 683.7L1145.4 688.4L1150.4 693.6L1155.4 698.6L1160.3 703.3L1165.3 708.5L1170.3 712.6L1175.2 716.5L1180.2 720.2L1185.2 724.1L1190.2 728.1L1195.1 732.0L1200.1 736.7M1001.2 532.3L1006.2 536.9L1011.2 539.0L1016.1 545.4L1021.1 551.5L1026.1 555.4L1031.1 560.8L1036.0 566.8L1041.0 571.4L1046.0 576.4L1050.9 582.2L1055.9 587.2L1060.9 593.6L1065.9 598.6L1070.8 606.7M1140.4 686.1L1145.4 691.0L1150.4 695.6L1155.4 700.6L1160.3 705.4L1165.3 710.4L1170.3 714.4L1175.2 718.4L1180.2 722.1L1185.2 726.2L1190.2 729.9L1195.1 734.9L1200.1 738.3M1001.2 535.3L1006.2 539.8L1011.2 543.9L1016.1 548.6L1021.1 555.5L1026.1 557.9L1031.1 565.0L1036.0 569.6L1041.0 574.8L1046.0 580.0L1050.9 585.6L1055.9 590.3L1060.9 595.6L1065.9 602.4L1070.8 608.3M1140.4 687.7L1145.4 692.8L1150.4 697.2L1155.4 702.8L1160.3 708.1L1165.3 712.5L1170.3 716.2L1175.2 720.2L1180.2 723.9L1185.2 727.8L1190.2 732.0L1195.1 736.0L1200.1 739.4M1001.2 538.8L1006.2 542.7L1011.2 546.3L1016.1 550.9L1021.1 556.3L1026.1 563.0L1031.1 567.0L1036.0 572.0L1041.0 577.8L1046.0 583.1L1050.9 588.6L1055.9 594.0L1060.9 599.1L1065.9 605.5L1070.8 611.1M1140.4 689.8L1145.4 694.6L1150.4 699.5L1155.4 704.3L1160.3 709.2L1165.3 714.0L1170.3 717.8L1175.2 721.8L1180.2 725.5L1185.2 729.4L1190.2 733.6L1195.1 737.3L1200.1 741.5M1001.2 540.4L1006.2 545.7L1011.2 550.0L1016.1 553.6L1021.1 560.6L1026.1 564.3L1031.1 568.4L1036.0 575.5L1041.0 580.8L1046.0 586.1L1050.9 591.0L1055.9 595.4L1060.9 601.6L1065.9 608.2L1070.8 614.2M1140.4 691.8L1145.4 696.3L1150.4 700.7L1155.4 705.7L1160.3 710.5L1165.3 715.6L1170.3 719.4L1175.2 723.4L1180.2 726.6L1185.2 730.5L1190.2 734.3L1195.1 738.4L1200.1 742.5M1001.2 542.4L1006.2 548.7L1011.2 551.6L1016.1 555.6L1021.1 561.0L1026.1 565.3L1031.1 571.4L1036.0 577.1L1041.0 580.9L1046.0 587.8L1050.9 593.6L1055.9 597.7L1060.9 602.1L1065.9 608.4L1070.8 615.2M1140.4 693.1L1145.4 697.0L1150.4 701.7L1155.4 707.1L1160.3 711.9L1165.3 716.4L1170.3 720.5L1175.2 724.1L1180.2 727.4L1185.2 731.3L1190.2 735.2L1195.1 739.2L1200.1 743.4"/><path stroke-width="2.6" d="M961.5 277.7L966.4 283.8L971.4 287.6L976.4 292.8L981.3 296.6L986.3 306.7L991.3 310.9L996.3 319.5L1001.2 324.8M1200.1 642.8L1205.1 648.9L1210.1 655.9L1215.0 661.8L1220.0 667.3L1225.0 673.2L1229.9 678.7L1234.9 684.1L1239.9 689.4L1244.9 694.1M961.5 283.0L966.4 287.5L971.4 294.8L976.4 302.3L981.3 303.6L986.3 307.5L991.3 313.4L996.3 321.8L1001.2 328.3M1200.1 644.6L1205.1 650.3L1210.1 656.8L1215.0 663.3L1220.0 668.4L1225.0 674.7L1229.9 680.0L1234.9 684.9L1239.9 690.3L1244.9 695.5M961.5 289.6L966.4 291.0L971.4 298.2L976.4 302.4L981.3 306.7L986.3 309.9L991.3 319.4L996.3 327.9L1001.2 333.6M1200.1 646.0L1205.1 652.4L1210.1 658.8L1215.0 664.4L1220.0 670.7L1225.0 676.2L1229.9 681.2L1234.9 686.9L1239.9 692.0L1244.9 697.5M961.5 293.9L966.4 299.5L971.4 302.6L976.4 307.2L981.3 312.6L986.3 315.3L991.3 322.7L996.3 330.8L1001.2 338.1M1200.1 648.0L1205.1 654.6L1210.1 660.8L1215.0 666.8L1220.0 672.2L1225.0 678.0L1229.9 683.3L1234.9 688.8L1239.9 693.9L1244.9 698.7M961.5 296.6L966.4 306.7L971.4 308.9L976.4 315.3L981.3 322.0L986.3 326.1L991.3 328.5L996.3 338.0L1001.2 344.7M1200.1 650.2L1205.1 656.7L1210.1 663.1L1215.0 668.8L1220.0 674.6L1225.0 680.1L1229.9 685.4L1234.9 690.7L1239.9 695.8L1244.9 701.2M961.5 309.7L966.4 313.1L971.4 315.8L976.4 319.9L981.3 324.8L986.3 330.1L991.3 335.1L996.3 342.1L1001.2 350.7M1200.1 652.9L1205.1 658.8L1210.1 664.6L1215.0 670.4L1220.0 676.5L1225.0 681.5L1229.9 687.1L1234.9 692.3L1239.9 698.0L1244.9 703.1M961.5 312.3L966.4 317.4L971.4 322.9L976.4 327.0L981.3 327.9L986.3 336.9L991.3 346.2L996.3 345.0L1001.2 355.4M1200.1 655.6L1205.1 661.7L1210.1 667.3L1215.0 672.9L1220.0 678.9L1225.0 683.8L1229.9 689.3L1234.9 695.2L1239.9 700.0L1244.9 705.2M961.5 323.1L966.4 323.9L971.4 327.1L976.4 333.7L981.3 339.5L986.3 342.4L991.3 345.7L996.3 354.2L1001.2 361.7M1200.1 658.0L1205.1 664.5L1210.1 669.7L1215.0 675.9L1220.0 681.0L1225.0 687.1L1229.9 691.8L1234.9 697.1L1239.9 702.9L1244.9 707.4M961.5 325.4L966.4 328.0L971.4 334.8L976.4 338.9L981.3 347.1L986.3 347.9L991.3 350.5L996.3 358.6L1001.2 365.8M1200.1 660.8L1205.1 666.6L1210.1 672.2L1215.0 678.7L1220.0 683.8L1225.0 688.9L1229.9 694.4L1234.9 699.3L1239.9 704.4L1244.9 709.7M961.5 333.2L966.4 333.2L971.4 343.2L976.4 348.5L981.3 350.6L986.3 355.5L991.3 357.7L996.3 365.5L1001.2 370.5M1200.1 663.1L1205.1 669.2L1210.1 675.1L1215.0 680.3L1220.0 685.9L1225.0 691.6L1229.9 696.7L1234.9 701.7L1239.9 707.1L1244.9 711.8M961.5 338.5L966.4 340.2L971.4 348.3L976.4 352.6L981.3 355.6L986.3 362.7L991.3 368.7L996.3 370.2L1001.2 379.1M1200.1 665.7L1205.1 671.9L1210.1 677.4L1215.0 683.9L1220.0 689.0L1225.0 693.7L1229.9 699.5L1234.9 704.3L1239.9 710.0L1244.9 714.0M961.5 343.3L966.4 348.4L971.4 353.3L976.4 356.2L981.3 359.7L986.3 364.6L991.3 372.9L996.3 378.2L1001.2 385.3M1200.1 668.8L1205.1 674.4L1210.1 679.8L1215.0 685.5L1220.0 691.6L1225.0 696.6L1229.9 701.5L1234.9 706.8L1239.9 712.3L1244.9 716.6M961.5 352.1L966.4 353.6L971.4 360.1L976.4 363.0L981.3 367.3L986.3 373.1L991.3 377.6L996.3 385.7L1001.2 389.3M1200.1 672.4L1205.1 677.7L1210.1 683.3L1215.0 688.7L1220.0 694.0L1225.0 699.6L1229.9 704.7L1234.9 709.1L1239.9 714.6L1244.9 719.3M961.5 359.6L966.4 362.9L971.4 366.7L976.4 370.3L981.3 375.5L986.3 380.7L991.3 385.1L996.3 391.4L1001.2 396.1M1200.1 674.5L1205.1 680.6L1210.1 686.7L1215.0 691.3L1220.0 696.7L1225.0 701.8L1229.9 706.6L1234.9 712.4L1239.9 716.9L1244.9 721.7M961.5 366.6L966.4 369.6L971.4 373.3L976.4 376.9L981.3 381.4L986.3 384.5L991.3 392.3L996.3 396.2L1001.2 403.5M1200.1 677.5L1205.1 683.9L1210.1 688.0L1215.0 694.2L1220.0 699.7L1225.0 704.3L1229.9 709.5L1234.9 714.7L1239.9 719.8L1244.9 723.8M961.5 370.3L966.4 374.4L971.4 379.6L976.4 381.6L981.3 387.8L986.3 392.5L991.3 396.3L996.3 402.8L1001.2 408.1M1200.1 680.4L1205.1 685.9L1210.1 692.0L1215.0 696.7L1220.0 702.8L1225.0 707.3L1229.9 712.1L1234.9 717.5L1239.9 722.4L1244.9 726.2M961.5 375.1L966.4 382.0L971.4 387.9L976.4 393.1L981.3 395.8L986.3 399.7L991.3 404.3L996.3 409.2L1001.2 415.4M1200.1 684.0L1205.1 689.0L1210.1 694.3L1215.0 699.5L1220.0 704.9L1225.0 710.5L1229.9 714.7L1234.9 720.3L1239.9 724.3L1244.9 729.0M961.5 383.7L966.4 387.3L971.4 393.0L976.4 395.3L981.3 401.6L986.3 404.5L991.3 411.9L996.3 418.1L1001.2 419.5M1200.1 686.7L1205.1 691.8L1210.1 697.4L1215.0 702.3L1220.0 708.0L1225.0 712.8L1229.9 717.9L1234.9 722.4L1239.9 726.7L1244.9 732.0M961.5 390.3L966.4 396.0L971.4 399.3L976.4 403.8L981.3 408.1L986.3 411.5L991.3 416.7L996.3 423.1L1001.2 427.8M1200.1 690.0L1205.1 694.6L1210.1 700.5L1215.0 705.7L1220.0 710.4L1225.0 715.4L1229.9 720.1L1234.9 725.0L1239.9 729.8L1244.9 734.1M961.5 397.1L966.4 401.8L971.4 406.7L976.4 409.6L981.3 415.7L986.3 417.7L991.3 422.6L996.3 428.5L1001.2 431.6M1200.1 692.3L1205.1 697.7L1210.1 703.1L1215.0 707.8L1220.0 713.3L1225.0 718.3L1229.9 722.8L1234.9 728.1L1239.9 732.2L1244.9 736.6M961.5 403.0L966.4 410.2L971.4 413.1L976.4 414.6L981.3 419.4L986.3 423.5L991.3 429.8L996.3 435.6L1001.2 443.5M1200.1 695.5L1205.1 700.1L1210.1 705.8L1215.0 711.0L1220.0 716.0L1225.0 720.8L1229.9 725.3L1234.9 730.6L1239.9 734.5L1244.9 739.2M961.5 408.7L966.4 414.6L971.4 420.2L976.4 422.6L981.3 424.2L986.3 430.9L991.3 437.3L996.3 441.4L1001.2 448.4M1200.1 698.7L1205.1 703.6L1210.1 709.3L1215.0 713.8L1220.0 718.6L1225.0 723.5L1229.9 728.4L1234.9 733.1L1239.9 737.4L1244.9 741.8M961.5 417.5L966.4 420.3L971.4 425.5L976.4 428.3L981.3 431.4L986.3 436.6L991.3 441.3L996.3 448.5L1001.2 453.4M1200.1 701.3L1205.1 706.6L1210.1 711.5L1215.0 716.3L1220.0 721.5L1225.0 726.4L1229.9 731.0L1234.9 735.3L1239.9 739.8L1244.9 744.5M961.5 419.5L966.4 427.3L971.4 431.5L976.4 434.4L981.3 437.0L986.3 443.1L991.3 447.9L996.3 454.7L1001.2 459.4M1200.1 704.4L1205.1 709.9L1210.1 714.6L1215.0 719.3L1220.0 723.4L1225.0 728.7L1229.9 733.4L1234.9 737.8L1239.9 742.2L1244.9 747.1M961.5 427.5L966.4 432.5L971.4 438.1L976.4 438.7L981.3 444.9L986.3 446.7L991.3 453.4L996.3 459.6L1001.2 463.2M1200.1 707.1L1205.1 712.5L1210.1 717.1L1215.0 721.9L1220.0 726.7L1225.0 731.6L1229.9 736.0L1234.9 740.2L1239.9 744.7L1244.9 748.9M961.5 434.2L966.4 438.2L971.4 442.8L976.4 447.6L981.3 451.3L986.3 455.6L991.3 461.3L996.3 466.4L1001.2 471.6M1200.1 710.0L1205.1 714.9L1210.1 719.6L1215.0 724.6L1220.0 729.2L1225.0 733.7L1229.9 738.3L1234.9 743.0L1239.9 747.3L1244.9 751.3M961.5 438.7L966.4 446.5L971.4 450.3L976.4 452.4L981.3 458.2L986.3 462.6L991.3 465.3L996.3 474.9L1001.2 476.5M1200.1 712.6L1205.1 717.8L1210.1 722.5L1215.0 727.3L1220.0 732.2L1225.0 736.4L1229.9 740.9L1234.9 745.2L1239.9 749.4L1244.9 753.4M961.5 444.5L966.4 448.5L971.4 454.6L976.4 457.4L981.3 463.1L986.3 466.5L991.3 473.3L996.3 477.4L1001.2 482.5M1200.1 715.8L1205.1 720.3L1210.1 725.2L1215.0 729.6L1220.0 734.2L1225.0 739.1L1229.9 743.4L1234.9 747.9L1239.9 751.9L1244.9 755.9M961.5 452.0L966.4 455.7L971.4 460.5L976.4 462.6L981.3 468.9L986.3 474.4L991.3 478.0L996.3 482.1L1001.2 490.1M1200.1 718.4L1205.1 723.2L1210.1 727.5L1215.0 732.1L1220.0 736.4L1225.0 741.2L1229.9 745.8L1234.9 750.1L1239.9 754.1L1244.9 757.8M961.5 457.4L966.4 461.6L971.4 467.2L976.4 468.3L981.3 474.8L986.3 477.2L991.3 484.1L996.3 490.3L1001.2 493.0M1200.1 720.9L1205.1 725.7L1210.1 730.2L1215.0 734.7L1220.0 739.3L1225.0 743.5L1229.9 747.8L1234.9 752.3L1239.9 755.9L1244.9 760.1M961.5 461.5L966.4 467.3L971.4 469.4L976.4 475.0L981.3 479.0L986.3 481.6L991.3 489.0L996.3 493.1L1001.2 497.4M1200.1 723.7L1205.1 728.1L1210.1 732.0L1215.0 736.8L1220.0 741.6L1225.0 745.5L1229.9 750.0L1234.9 754.3L1239.9 758.5L1244.9 762.2M961.5 465.7L966.4 470.8L971.4 476.8L976.4 479.9L981.3 484.5L986.3 490.5L991.3 493.6L996.3 499.7L1001.2 504.3M1200.1 726.0L1205.1 730.4L1210.1 734.4L1215.0 739.4L1220.0 743.6L1225.0 748.0L1229.9 751.9L1234.9 756.5L1239.9 760.3L1244.9 764.4M961.5 471.2L966.4 477.8L971.4 481.5L976.4 484.9L981.3 489.8L986.3 494.5L991.3 498.5L996.3 504.4L1001.2 510.0M1200.1 728.5L1205.1 732.6L1210.1 737.0L1215.0 741.4L1220.0 745.5L1225.0 750.2L1229.9 754.2L1234.9 758.4L1239.9 762.3L1244.9 766.3M961.5 478.4L966.4 482.3L971.4 485.1L976.4 491.2L981.3 495.1L986.3 497.4L991.3 505.6L996.3 508.4L1001.2 513.9M1200.1 730.5L1205.1 735.4L1210.1 739.4L1215.0 743.2L1220.0 747.8L1225.0 751.9L1229.9 756.0L1234.9 760.4L1239.9 764.7L1244.9 768.3M961.5 481.6L966.4 486.8L971.4 490.3L976.4 494.0L981.3 498.9L986.3 502.6L991.3 509.7L996.3 513.1L1001.2 519.3M1200.1 732.7L1205.1 736.9L1210.1 740.9L1215.0 745.6L1220.0 749.8L1225.0 754.4L1229.9 758.1L1234.9 762.4L1239.9 766.2L1244.9 770.0M961.5 487.0L966.4 491.3L971.4 495.4L976.4 500.4L981.3 501.9L986.3 507.5L991.3 513.5L996.3 517.8L1001.2 523.6M1200.1 734.9L1205.1 738.9L1210.1 742.9L1215.0 747.4L1220.0 751.5L1225.0 755.4L1229.9 760.0L1234.9 764.0L1239.9 767.9L1244.9 771.6M961.5 489.6L966.4 494.3L971.4 500.2L976.4 504.5L981.3 508.2L986.3 512.6L991.3 517.2L996.3 521.3L1001.2 527.2M1200.1 736.7L1205.1 741.0L1210.1 744.7L1215.0 749.2L1220.0 753.3L1225.0 757.6L1229.9 761.5L1234.9 765.6L1239.9 769.3L1244.9 772.6M961.5 493.8L966.4 498.7L971.4 503.7L976.4 505.5L981.3 508.8L986.3 516.3L991.3 520.9L996.3 525.9L1001.2 532.3M1200.1 738.3L1205.1 742.7L1210.1 746.7L1215.0 750.2L1220.0 754.9L1225.0 759.3L1229.9 762.7L1234.9 767.2L1239.9 770.7L1244.9 774.3M961.5 497.5L966.4 503.0L971.4 506.9L976.4 510.6L981.3 514.1L986.3 518.7L991.3 523.6L996.3 530.3L1001.2 535.3M1200.1 739.4L1205.1 744.2L1210.1 747.9L1215.0 752.0L1220.0 756.6L1225.0 760.4L1229.9 764.3L1234.9 768.2L1239.9 772.1L1244.9 775.9M961.5 502.9L966.4 506.3L971.4 511.5L976.4 513.0L981.3 518.5L986.3 522.0L991.3 527.3L996.3 531.5L1001.2 538.8M1200.1 741.5L1205.1 745.1L1210.1 749.5L1215.0 753.6L1220.0 757.9L1225.0 761.8L1229.9 765.8L1234.9 769.9L1239.9 773.2L1244.9 776.9M961.5 505.4L966.4 510.0L971.4 514.0L976.4 515.4L981.3 521.3L986.3 523.5L991.3 531.9L996.3 535.8L1001.2 540.4M1200.1 742.5L1205.1 746.4L1210.1 750.3L1215.0 754.3L1220.0 758.7L1225.0 762.7L1229.9 766.8L1234.9 770.8L1239.9 774.2L1244.9 777.5M961.5 505.7L966.4 509.9L971.4 515.6L976.4 520.4L981.3 524.2L986.3 527.6L991.3 533.0L996.3 538.1L1001.2 542.4M1200.1 743.4L1205.1 747.1L1210.1 751.3L1215.0 755.3L1220.0 759.6L1225.0 763.6L1229.9 767.7L1234.9 771.5L1239.9 775.1L1244.9 778.5"/><path stroke-width="2.8" d="M260.4 909.4L265.4 909.5L270.3 909.4L275.3 909.3L280.3 909.4L285.3 909.3L290.2 909.6L295.2 909.9L300.2 909.5L305.1 909.4L310.1 909.7L315.1 909.7L320.1 909.7L325.0 909.4L330.0 909.6L335.0 909.1L340.0 906.3L344.9 902.1L349.9 896.6L354.9 891.4L359.8 885.6L364.8 879.0L369.8 871.0L374.8 863.1L379.7 854.1L384.7 844.5L389.7 833.6L394.6 823.4L399.6 812.7L404.6 801.3L409.6 789.7L414.5 779.3L419.5 768.2L424.5 757.0L429.4 746.6L434.4 735.5L439.4 725.0L444.4 714.7L449.3 703.9L454.3 693.8L459.3 683.9L464.3 674.8L469.2 665.9L474.2 658.0L479.2 650.1L484.1 640.5L489.1 633.0L494.1 624.7L499.1 616.8L504.0 610.5L509.0 603.1L514.0 596.0L518.9 590.6L523.9 585.2L528.9 579.6L533.9 574.9L538.8 569.4L543.8 564.5L548.8 560.0L553.7 554.7L558.7 551.2L563.7 547.5L568.7 544.9L573.6 541.3L578.6 538.6L583.6 535.8L588.6 533.4L593.5 530.5L598.5 525.9L603.5 523.1L608.4 520.9L613.4 516.2L618.4 514.1L623.4 511.6L628.3 510.3L633.3 507.8L638.3 504.5L643.2 500.8L648.2 496.9L653.2 494.2L658.2 488.9L663.1 484.8L668.1 478.7L673.1 469.8L678.0 461.2L683.0 450.6L688.0 439.8L693.0 426.4L697.9 414.6L702.9 401.8L707.9 389.1L712.9 377.6L717.8 364.5L722.8 355.2L727.8 343.6L732.7 335.5L737.7 324.4L742.7 319.3L747.7 308.9L752.6 300.9L757.6 296.6L762.6 290.0L767.5 287.0L772.5 286.0L777.5 275.4L782.5 270.9L787.4 267.8L792.4 264.5L797.4 259.7L802.3 256.3L807.3 254.8L812.3 251.1L817.3 244.5L822.2 243.9L827.2 242.2L832.2 237.9L837.2 239.1L842.1 235.1L847.1 237.8L852.1 234.7L857.0 233.3L862.0 230.8L867.0 230.9L872.0 225.8L876.9 227.6L881.9 232.0L886.9 227.8L891.8 236.0L896.8 231.9L901.8 239.2L906.8 237.4L911.7 243.1L916.7 243.8L921.7 242.6L926.6 251.6L931.6 255.3L936.6 255.7L941.6 259.3L946.5 263.9L951.5 266.7L956.5 275.6L961.5 277.7M1244.9 694.1L1249.8 699.9L1254.8 704.3L1259.8 710.2L1264.7 715.4L1269.7 720.7L1274.7 726.0L1279.7 731.0L1284.6 734.9L1289.6 738.9L1294.6 743.7L1299.5 747.5L1304.5 752.5L1309.5 757.5L1314.5 761.2L1319.4 764.8L1324.4 768.9L1329.4 772.4L1334.4 775.8L1339.3 779.4L1344.3 782.6L1349.3 785.9L1354.2 789.6L1359.2 792.8L1364.2 795.7L1369.2 799.2L1374.1 802.1L1379.1 805.2L1384.1 807.8L1389.0 810.9L1394.0 813.7L1399.0 816.5L1404.0 818.9M260.4 909.2L265.4 909.4L270.3 909.5L275.3 909.9L280.3 909.1L285.3 909.6L290.2 909.4L295.2 909.5L300.2 909.1L305.1 909.4L310.1 909.7L315.1 909.5L320.1 909.6L325.0 909.5L330.0 909.7L335.0 908.9L340.0 906.1L344.9 902.2L349.9 896.9L354.9 891.4L359.8 886.5L364.8 880.1L369.8 872.2L374.8 863.8L379.7 855.1L384.7 846.3L389.7 836.0L394.6 825.6L399.6 814.9L404.6 803.8L409.6 793.0L414.5 782.5L419.5 771.7L424.5 760.3L429.4 750.0L434.4 739.2L439.4 729.3L444.4 718.2L449.3 708.3L454.3 698.3L459.3 688.1L464.3 680.2L469.2 671.8L474.2 662.9L479.2 655.0L484.1 646.4L489.1 636.9L494.1 630.0L499.1 622.2L504.0 614.8L509.0 607.4L514.0 601.5L518.9 595.5L523.9 590.4L528.9 584.7L533.9 579.4L538.8 575.0L543.8 568.6L548.8 563.7L553.7 558.6L558.7 556.4L563.7 552.7L568.7 549.7L573.6 546.6L578.6 543.2L583.6 540.2L588.6 536.7L593.5 533.6L598.5 530.5L603.5 528.2L608.4 524.4L613.4 520.9L618.4 517.5L623.4 514.6L628.3 513.8L633.3 510.9L638.3 507.9L643.2 503.9L648.2 499.4L653.2 496.0L658.2 492.8L663.1 487.5L668.1 481.1L673.1 472.6L678.0 464.4L683.0 453.2L688.0 442.7L693.0 429.2L697.9 417.6L702.9 403.6L707.9 393.3L712.9 382.3L717.8 368.2L722.8 356.8L727.8 347.8L732.7 338.6L737.7 329.0L742.7 323.7L747.7 319.2L752.6 308.2L757.6 301.3L762.6 294.3L767.5 291.9L772.5 284.3L777.5 279.8L782.5 279.6L787.4 270.8L792.4 270.9L797.4 268.5L802.3 262.7L807.3 260.0L812.3 259.7L817.3 252.0L822.2 248.6L827.2 245.1L832.2 246.3L837.2 247.8L842.1 245.3L847.1 239.7L852.1 238.6L857.0 238.3L862.0 239.0L867.0 236.9L872.0 237.1L876.9 237.1L881.9 236.7L886.9 238.6L891.8 240.7L896.8 241.6L901.8 244.6L906.8 249.3L911.7 248.5L916.7 249.5L921.7 248.1L926.6 255.5L931.6 253.9L936.6 258.5L941.6 267.1L946.5 271.0L951.5 273.6L956.5 275.3L961.5 283.0M1244.9 695.5L1249.8 700.8L1254.8 705.9L1259.8 711.0L1264.7 716.4L1269.7 721.4L1274.7 726.3L1279.7 731.7L1284.6 736.6L1289.6 740.1L1294.6 744.6L1299.5 748.7L1304.5 753.3L1309.5 758.6L1314.5 762.5L1319.4 766.7L1324.4 769.6L1329.4 773.4L1334.4 776.7L1339.3 780.1L1344.3 783.9L1349.3 787.1L1354.2 790.7L1359.2 793.8L1364.2 796.7L1369.2 799.9L1374.1 802.9L1379.1 806.1L1384.1 808.6L1389.0 811.8L1394.0 814.3L1399.0 817.6L1404.0 819.3M260.4 908.8L265.4 909.3L270.3 909.6L275.3 909.0L280.3 909.1L285.3 909.2L290.2 909.1L295.2 909.5L300.2 909.2L305.1 909.2L310.1 909.5L315.1 909.2L320.1 909.5L325.0 909.2L330.0 909.1L335.0 908.3L340.0 907.0L344.9 902.4L349.9 897.6L354.9 892.5L359.8 887.2L364.8 880.5L369.8 873.5L374.8 864.9L379.7 856.3L384.7 847.3L389.7 837.4L394.6 827.7L399.6 817.3L404.6 806.0L409.6 795.1L414.5 785.1L419.5 775.1L424.5 763.2L429.4 753.5L434.4 742.8L439.4 733.1L444.4 722.3L449.3 712.5L454.3 702.3L459.3 692.8L464.3 684.8L469.2 676.4L474.2 667.8L479.2 659.4L484.1 650.6L489.1 642.8L494.1 634.9L499.1 627.3L504.0 619.8L509.0 612.4L514.0 606.5L518.9 600.5L523.9 595.3L528.9 590.3L533.9 584.1L538.8 578.5L543.8 573.5L548.8 568.2L553.7 563.7L558.7 559.9L563.7 556.0L568.7 553.8L573.6 550.4L578.6 547.5L583.6 544.0L588.6 540.4L593.5 537.0L598.5 534.1L603.5 530.6L608.4 527.8L613.4 524.4L618.4 520.4L623.4 518.4L628.3 515.1L633.3 513.3L638.3 510.8L643.2 505.8L648.2 503.2L653.2 499.1L658.2 494.9L663.1 490.3L668.1 483.8L673.1 474.9L678.0 467.0L683.0 457.1L688.0 446.0L693.0 432.0L697.9 420.2L702.9 408.0L707.9 396.0L712.9 383.6L717.8 373.0L722.8 359.2L727.8 352.1L732.7 343.0L737.7 335.0L742.7 327.8L747.7 319.2L752.6 312.6L757.6 307.1L762.6 301.4L767.5 296.4L772.5 288.7L777.5 287.7L782.5 284.3L787.4 279.6L792.4 274.4L797.4 267.6L802.3 269.4L807.3 264.1L812.3 256.0L817.3 259.0L822.2 252.6L827.2 251.1L832.2 250.8L837.2 253.4L842.1 248.5L847.1 248.6L852.1 250.6L857.0 249.2L862.0 244.4L867.0 243.2L872.0 240.2L876.9 241.2L881.9 244.6L886.9 245.9L891.8 246.7L896.8 250.2L901.8 248.0L906.8 251.3L911.7 254.9L916.7 256.7L921.7 260.0L926.6 261.5L931.6 263.3L936.6 268.1L941.6 269.2L946.5 272.1L951.5 280.7L956.5 284.0L961.5 289.6M1244.9 697.5L1249.8 702.2L1254.8 707.4L1259.8 713.1L1264.7 718.6L1269.7 723.7L1274.7 728.1L1279.7 733.2L1284.6 738.1L1289.6 741.8L1294.6 745.6L1299.5 750.2L1304.5 754.9L1309.5 759.3L1314.5 763.4L1319.4 767.1L1324.4 771.1L1329.4 774.2L1334.4 777.8L1339.3 781.4L1344.3 784.9L1349.3 788.1L1354.2 791.6L1359.2 794.6L1364.2 797.8L1369.2 800.6L1374.1 804.1L1379.1 806.7L1384.1 809.5L1389.0 812.6L1394.0 815.4L1399.0 818.4L1404.0 819.9M260.4 909.0L265.4 909.1L270.3 909.8L275.3 909.5L280.3 909.2L285.3 909.4L290.2 909.7L295.2 909.2L300.2 909.2L305.1 909.6L310.1 909.4L315.1 909.5L320.1 909.2L325.0 909.8L330.0 909.6L335.0 908.8L340.0 906.7L344.9 902.1L349.9 898.0L354.9 892.9L359.8 887.8L364.8 881.3L369.8 873.8L374.8 865.8L379.7 858.0L384.7 848.8L389.7 839.3L394.6 829.3L399.6 819.2L404.6 808.0L409.6 798.4L414.5 788.1L419.5 778.0L424.5 767.6L429.4 756.8L434.4 746.2L439.4 736.4L444.4 726.2L449.3 716.6L454.3 707.1L459.3 697.0L464.3 689.1L469.2 680.5L474.2 672.9L479.2 664.6L484.1 656.2L489.1 647.9L494.1 639.7L499.1 632.1L504.0 624.1L509.0 617.7L514.0 612.2L518.9 606.2L523.9 600.1L528.9 594.5L533.9 588.6L538.8 584.2L543.8 578.1L548.8 572.9L553.7 568.3L558.7 564.4L563.7 560.6L568.7 557.7L573.6 554.0L578.6 551.2L583.6 549.4L588.6 544.7L593.5 541.3L598.5 538.3L603.5 534.9L608.4 530.4L613.4 527.7L618.4 525.1L623.4 521.8L628.3 519.3L633.3 517.8L638.3 513.6L643.2 510.3L648.2 505.8L653.2 502.9L658.2 496.5L663.1 492.9L668.1 486.4L673.1 479.0L678.0 470.6L683.0 461.7L688.0 447.6L693.0 437.0L697.9 422.9L702.9 410.5L707.9 400.3L712.9 386.6L717.8 373.5L722.8 364.6L727.8 353.2L732.7 345.6L737.7 339.2L742.7 331.8L747.7 327.0L752.6 317.1L757.6 308.0L762.6 303.9L767.5 299.0L772.5 294.0L777.5 292.4L782.5 285.9L787.4 279.0L792.4 280.4L797.4 275.8L802.3 273.6L807.3 270.0L812.3 268.1L817.3 263.9L822.2 264.0L827.2 260.6L832.2 259.0L837.2 257.5L842.1 252.3L847.1 253.8L852.1 252.4L857.0 252.3L862.0 248.0L867.0 253.6L872.0 249.6L876.9 246.5L881.9 246.3L886.9 250.8L891.8 252.6L896.8 252.8L901.8 256.2L906.8 256.3L911.7 260.8L916.7 260.2L921.7 263.9L926.6 268.9L931.6 275.3L936.6 271.5L941.6 276.4L946.5 279.7L951.5 286.9L956.5 287.8L961.5 293.9M1244.9 698.7L1249.8 704.1L1254.8 709.5L1259.8 714.2L1264.7 719.6L1269.7 724.9L1274.7 729.4L1279.7 734.6L1284.6 738.9L1289.6 743.6L1294.6 747.9L1299.5 752.1L1304.5 756.1L1309.5 761.0L1314.5 765.1L1319.4 768.7L1324.4 772.5L1329.4 775.2L1334.4 779.2L1339.3 782.4L1344.3 786.2L1349.3 789.3L1354.2 792.4L1359.2 795.9L1364.2 799.0L1369.2 801.8L1374.1 804.8L1379.1 807.5L1384.1 810.1L1389.0 813.8L1394.0 816.5L1399.0 819.1L1404.0 821.1M260.4 909.4L265.4 909.0L270.3 909.0L275.3 909.1L280.3 909.4L285.3 908.9L290.2 909.4L295.2 909.0L300.2 909.0L305.1 909.5L310.1 909.2L315.1 908.9L320.1 909.2L325.0 909.5L330.0 909.4L335.0 908.4L340.0 906.6L344.9 902.8L349.9 897.9L354.9 893.4L359.8 888.2L364.8 881.7L369.8 874.7L374.8 867.3L379.7 859.1L384.7 850.3L389.7 841.0L394.6 831.6L399.6 821.4L404.6 811.1L409.6 800.9L414.5 790.9L419.5 781.2L424.5 770.1L429.4 760.4L434.4 750.1L439.4 740.8L444.4 730.9L449.3 720.2L454.3 711.0L459.3 702.2L464.3 693.8L469.2 685.9L474.2 677.6L479.2 669.6L484.1 661.3L489.1 652.8L494.1 645.2L499.1 636.3L504.0 629.9L509.0 622.2L514.0 616.6L518.9 610.0L523.9 603.9L528.9 599.0L533.9 593.1L538.8 587.6L543.8 581.8L548.8 577.4L553.7 573.1L558.7 569.2L563.7 565.0L568.7 562.4L573.6 558.7L578.6 555.4L583.6 552.4L588.6 549.3L593.5 545.0L598.5 541.5L603.5 538.0L608.4 534.6L613.4 530.7L618.4 528.5L623.4 524.6L628.3 522.6L633.3 519.4L638.3 517.3L643.2 513.5L648.2 508.8L653.2 506.2L658.2 500.9L663.1 497.4L668.1 490.3L673.1 480.8L678.0 472.7L683.0 463.9L688.0 452.1L693.0 439.4L697.9 426.1L702.9 412.7L707.9 402.9L712.9 388.7L717.8 380.1L722.8 367.9L727.8 358.1L732.7 350.2L737.7 343.1L742.7 333.4L747.7 326.0L752.6 320.0L757.6 311.6L762.6 308.1L767.5 308.0L772.5 299.0L777.5 297.6L782.5 289.5L787.4 288.3L792.4 283.6L797.4 281.1L802.3 279.3L807.3 278.7L812.3 272.7L817.3 269.7L822.2 265.2L827.2 266.8L832.2 263.5L837.2 264.4L842.1 261.3L847.1 263.9L852.1 254.9L857.0 257.5L862.0 259.1L867.0 255.6L872.0 254.0L876.9 255.0L881.9 253.5L886.9 258.1L891.8 264.4L896.8 263.2L901.8 260.0L906.8 262.3L911.7 265.2L916.7 270.2L921.7 268.7L926.6 271.9L931.6 278.2L936.6 281.5L941.6 282.8L946.5 285.4L951.5 288.7L956.5 294.6L961.5 296.6M1244.9 701.2L1249.8 705.7L1254.8 711.5L1259.8 716.3L1264.7 721.2L1269.7 726.3L1274.7 731.1L1279.7 736.2L1284.6 740.5L1289.6 745.1L1294.6 748.6L1299.5 752.4L1304.5 757.3L1309.5 761.6L1314.5 766.4L1319.4 770.2L1324.4 773.5L1329.4 776.4L1334.4 780.0L1339.3 784.1L1344.3 787.1L1349.3 790.3L1354.2 793.9L1359.2 797.5L1364.2 800.2L1369.2 802.8L1374.1 805.8L1379.1 808.8L1384.1 811.4L1389.0 814.2L1394.0 817.3L1399.0 819.7L1404.0 822.0M260.4 909.1L265.4 909.6L270.3 908.9L275.3 909.0L280.3 909.0L285.3 909.2L290.2 909.3L295.2 909.0L300.2 908.9L305.1 908.8L310.1 908.9L315.1 909.3L320.1 909.2L325.0 908.9L330.0 908.9L335.0 908.4L340.0 906.6L344.9 902.6L349.9 898.2L354.9 893.3L359.8 888.4L364.8 882.9L369.8 875.1L374.8 868.2L379.7 860.4L384.7 851.8L389.7 842.5L394.6 833.2L399.6 823.4L404.6 813.2L409.6 802.7L414.5 793.4L419.5 783.4L424.5 773.3L429.4 763.5L434.4 753.8L439.4 744.2L444.4 734.1L449.3 725.0L454.3 715.7L459.3 706.6L464.3 698.4L469.2 690.1L474.2 682.2L479.2 674.5L484.1 665.4L489.1 657.6L494.1 649.4L499.1 641.8L504.0 633.8L509.0 627.0L514.0 620.9L518.9 615.1L523.9 609.3L528.9 603.4L533.9 597.9L538.8 592.2L543.8 587.2L548.8 581.7L553.7 577.5L558.7 573.8L563.7 569.2L568.7 565.2L573.6 562.3L578.6 558.7L583.6 555.4L588.6 553.2L593.5 549.1L598.5 544.4L603.5 542.0L608.4 538.7L613.4 534.3L618.4 530.8L623.4 527.9L628.3 525.7L633.3 523.4L638.3 520.8L643.2 517.0L648.2 512.7L653.2 508.6L658.2 503.9L663.1 497.8L668.1 492.2L673.1 484.3L678.0 475.6L683.0 467.2L688.0 454.7L693.0 441.6L697.9 431.0L702.9 418.5L707.9 406.8L712.9 395.8L717.8 384.6L722.8 372.9L727.8 359.7L732.7 353.5L737.7 346.1L742.7 338.2L747.7 333.2L752.6 327.9L757.6 318.5L762.6 312.3L767.5 313.3L772.5 304.8L777.5 299.1L782.5 297.4L787.4 293.6L792.4 288.0L797.4 287.9L802.3 282.6L807.3 278.9L812.3 278.2L817.3 276.6L822.2 271.7L827.2 272.0L832.2 269.7L837.2 274.4L842.1 266.0L847.1 269.2L852.1 265.2L857.0 264.1L862.0 265.0L867.0 264.6L872.0 264.8L876.9 262.7L881.9 261.6L886.9 263.1L891.8 266.7L896.8 268.4L901.8 271.7L906.8 271.4L911.7 274.7L916.7 277.7L921.7 277.2L926.6 276.8L931.6 280.6L936.6 283.4L941.6 292.9L946.5 292.2L951.5 300.1L956.5 303.1L961.5 309.7M1244.9 703.1L1249.8 708.6L1254.8 712.7L1259.8 718.0L1264.7 723.5L1269.7 728.1L1274.7 733.0L1279.7 738.3L1284.6 742.3L1289.6 746.1L1294.6 750.0L1299.5 754.6L1304.5 759.1L1309.5 763.2L1314.5 767.5L1319.4 771.4L1324.4 774.8L1329.4 777.9L1334.4 781.6L1339.3 785.0L1344.3 787.8L1349.3 791.4L1354.2 794.9L1359.2 797.8L1364.2 800.4L1369.2 803.8L1374.1 806.9L1379.1 810.0L1384.1 812.0L1389.0 816.0L1394.0 817.9L1399.0 821.0L1404.0 823.1M260.4 909.2L265.4 909.0L270.3 908.7L275.3 909.1L280.3 908.8L285.3 908.5L290.2 909.6L295.2 909.2L300.2 909.4L305.1 908.8L310.1 909.4L315.1 909.4L320.1 909.4L325.0 909.0L330.0 908.7L335.0 908.3L340.0 905.9L344.9 902.5L349.9 898.5L354.9 893.8L359.8 889.1L364.8 883.1L369.8 876.8L374.8 869.6L379.7 861.5L384.7 853.5L389.7 844.1L394.6 834.9L399.6 825.6L404.6 815.2L409.6 805.6L414.5 795.8L419.5 786.4L424.5 776.8L429.4 766.5L434.4 757.1L439.4 747.2L444.4 737.6L449.3 728.2L454.3 719.8L459.3 711.2L464.3 702.5L469.2 694.4L474.2 687.0L479.2 678.7L484.1 670.8L489.1 662.3L494.1 654.3L499.1 646.8L504.0 638.9L509.0 631.8L514.0 624.8L518.9 619.1L523.9 612.9L528.9 607.9L533.9 602.1L538.8 597.0L543.8 591.6L548.8 585.4L553.7 581.0L558.7 576.6L563.7 573.7L568.7 570.9L573.6 567.2L578.6 563.2L583.6 560.6L588.6 555.5L593.5 553.5L598.5 548.5L603.5 543.6L608.4 542.9L613.4 538.8L618.4 533.8L623.4 531.4L628.3 528.5L633.3 526.1L638.3 522.1L643.2 518.7L648.2 515.2L653.2 510.6L658.2 507.0L663.1 501.6L668.1 496.7L673.1 486.4L678.0 478.9L683.0 467.8L688.0 456.9L693.0 446.7L697.9 431.8L702.9 421.7L707.9 409.9L712.9 397.1L717.8 386.5L722.8 375.6L727.8 366.0L732.7 359.3L737.7 351.6L742.7 342.9L747.7 335.7L752.6 330.7L757.6 323.5L762.6 320.3L767.5 318.8L772.5 311.7L777.5 306.0L782.5 301.6L787.4 296.3L792.4 292.8L797.4 289.7L802.3 288.1L807.3 285.2L812.3 284.8L817.3 279.9L822.2 278.2L827.2 274.7L832.2 279.1L837.2 275.6L842.1 277.1L847.1 274.0L852.1 274.5L857.0 270.0L862.0 271.2L867.0 274.7L872.0 265.9L876.9 270.9L881.9 272.9L886.9 271.6L891.8 273.7L896.8 276.3L901.8 273.9L906.8 277.9L911.7 277.3L916.7 279.8L921.7 282.2L926.6 286.0L931.6 289.7L936.6 293.5L941.6 293.6L946.5 304.0L951.5 306.3L956.5 309.6L961.5 312.3M1244.9 705.2L1249.8 710.5L1254.8 715.3L1259.8 720.2L1264.7 725.8L1269.7 730.3L1274.7 734.8L1279.7 739.8L1284.6 744.2L1289.6 747.8L1294.6 752.0L1299.5 756.1L1304.5 760.0L1309.5 765.0L1314.5 769.1L1319.4 772.6L1324.4 775.6L1329.4 779.3L1334.4 782.7L1339.3 786.1L1344.3 789.2L1349.3 792.9L1354.2 795.6L1359.2 799.0L1364.2 802.4L1369.2 804.8L1374.1 807.7L1379.1 810.9L1384.1 813.5L1389.0 816.3L1394.0 819.2L1399.0 822.0L1404.0 823.2M260.4 908.7L265.4 908.7L270.3 908.7L275.3 908.7L280.3 908.7L285.3 909.0L290.2 908.7L295.2 909.0L300.2 909.0L305.1 908.8L310.1 909.0L315.1 909.3L320.1 909.0L325.0 908.8L330.0 908.8L335.0 908.0L340.0 906.4L344.9 903.1L349.9 898.6L354.9 894.3L359.8 889.9L364.8 883.7L369.8 877.2L374.8 870.0L379.7 862.5L384.7 854.5L389.7 846.3L394.6 836.7L399.6 827.3L404.6 817.5L409.6 808.0L414.5 798.8L419.5 789.2L424.5 779.9L429.4 769.8L434.4 760.7L439.4 751.0L444.4 741.7L449.3 732.0L454.3 723.3L459.3 714.6L464.3 706.5L469.2 698.4L474.2 691.5L479.2 683.2L484.1 674.9L489.1 666.7L494.1 658.7L499.1 651.3L504.0 643.2L509.0 636.2L514.0 630.1L518.9 623.9L523.9 617.8L528.9 612.2L533.9 606.5L538.8 601.3L543.8 596.2L548.8 589.9L553.7 586.4L558.7 581.6L563.7 577.2L568.7 574.5L573.6 570.0L578.6 566.4L583.6 563.0L588.6 559.8L593.5 556.1L598.5 552.2L603.5 548.6L608.4 543.6L613.4 541.4L618.4 536.8L623.4 534.0L628.3 531.4L633.3 528.4L638.3 525.2L643.2 521.5L648.2 517.7L653.2 513.7L658.2 509.3L663.1 503.6L668.1 497.2L673.1 489.0L678.0 481.8L683.0 470.6L688.0 462.0L693.0 448.1L697.9 435.1L702.9 424.7L707.9 414.4L712.9 402.2L717.8 391.7L722.8 380.0L727.8 372.0L732.7 363.8L737.7 354.6L742.7 349.8L747.7 341.5L752.6 334.6L757.6 326.5L762.6 322.6L767.5 320.2L772.5 312.7L777.5 312.0L782.5 307.3L787.4 303.3L792.4 295.5L797.4 296.6L802.3 295.3L807.3 290.0L812.3 289.0L817.3 281.7L822.2 285.6L827.2 281.6L832.2 283.3L837.2 276.8L842.1 280.8L847.1 277.9L852.1 279.1L857.0 274.8L862.0 274.7L867.0 280.0L872.0 273.2L876.9 273.4L881.9 275.2L886.9 275.1L891.8 281.1L896.8 283.7L901.8 280.4L906.8 280.1L911.7 287.9L916.7 289.9L921.7 291.6L926.6 295.1L931.6 294.3L936.6 298.9L941.6 300.3L946.5 304.2L951.5 312.4L956.5 313.5L961.5 323.1M1244.9 707.4L1249.8 712.3L1254.8 717.9L1259.8 722.3L1264.7 726.9L1269.7 732.2L1274.7 736.4L1279.7 741.7L1284.6 746.1L1289.6 749.6L1294.6 753.5L1299.5 757.8L1304.5 762.1L1309.5 766.3L1314.5 770.8L1319.4 773.6L1324.4 777.3L1329.4 780.6L1334.4 784.0L1339.3 787.5L1344.3 790.5L1349.3 794.1L1354.2 797.1L1359.2 800.1L1364.2 802.9L1369.2 805.7L1374.1 808.9L1379.1 811.5L1384.1 814.6L1389.0 817.6L1394.0 820.3L1399.0 823.0L1404.0 824.6M260.4 908.6L265.4 909.1L270.3 908.9L275.3 909.1L280.3 908.9L285.3 909.1L290.2 909.0L295.2 909.0L300.2 909.0L305.1 908.9L310.1 908.9L315.1 908.9L320.1 909.1L325.0 908.8L330.0 909.1L335.0 908.1L340.0 906.5L344.9 903.0L349.9 898.9L354.9 895.1L359.8 890.1L364.8 884.1L369.8 877.8L374.8 871.1L379.7 864.2L384.7 855.9L389.7 847.6L394.6 838.3L399.6 829.4L404.6 820.0L409.6 810.8L414.5 801.1L419.5 792.0L424.5 782.4L429.4 772.6L434.4 763.6L439.4 754.3L444.4 744.5L449.3 736.2L454.3 727.3L459.3 718.5L464.3 710.4L469.2 703.7L474.2 695.6L479.2 688.0L484.1 679.9L489.1 671.0L494.1 663.6L499.1 655.6L504.0 648.1L509.0 641.0L514.0 634.4L518.9 628.7L523.9 622.4L528.9 616.7L533.9 611.1L538.8 605.7L543.8 599.5L548.8 594.3L553.7 589.7L558.7 585.0L563.7 581.4L568.7 577.8L573.6 575.7L578.6 571.8L583.6 567.7L588.6 563.7L593.5 561.1L598.5 556.1L603.5 551.9L608.4 548.2L613.4 544.6L618.4 541.6L623.4 537.5L628.3 535.9L633.3 531.5L638.3 529.3L643.2 524.4L648.2 521.7L653.2 515.9L658.2 511.6L663.1 507.5L668.1 501.2L673.1 491.6L678.0 484.0L683.0 474.0L688.0 464.0L693.0 451.4L697.9 438.7L702.9 427.0L707.9 416.3L712.9 404.5L717.8 394.6L722.8 385.3L727.8 371.7L732.7 365.8L737.7 358.1L742.7 352.5L747.7 344.0L752.6 338.5L757.6 330.7L762.6 328.6L767.5 323.6L772.5 319.3L777.5 316.2L782.5 311.2L787.4 305.0L792.4 305.6L797.4 302.4L802.3 299.0L807.3 298.5L812.3 296.5L817.3 289.7L822.2 288.4L827.2 291.6L832.2 290.2L837.2 284.9L842.1 283.0L847.1 283.1L852.1 282.5L857.0 279.6L862.0 282.2L867.0 279.0L872.0 278.8L876.9 283.2L881.9 280.9L886.9 283.5L891.8 286.4L896.8 288.3L901.8 287.7L906.8 290.2L911.7 290.6L916.7 297.7L921.7 297.9L926.6 297.4L931.6 302.6L936.6 307.1L941.6 310.3L946.5 316.5L951.5 319.5L956.5 320.2L961.5 325.4M1244.9 709.7L1249.8 714.3L1254.8 719.3L1259.8 724.8L1264.7 729.5L1269.7 734.2L1274.7 738.8L1279.7 743.4L1284.6 748.0L1289.6 751.5L1294.6 755.9L1299.5 759.2L1304.5 763.7L1309.5 767.8L1314.5 772.1L1319.4 775.7L1324.4 779.2L1329.4 781.9L1334.4 785.4L1339.3 788.7L1344.3 791.9L1349.3 794.9L1354.2 798.4L1359.2 801.0L1364.2 804.3L1369.2 807.1L1374.1 809.8L1379.1 812.5L1384.1 815.3L1389.0 818.8L1394.0 820.8L1399.0 823.9L1404.0 825.7M260.4 908.7L265.4 908.5L270.3 909.0L275.3 909.1L280.3 908.6L285.3 908.7L290.2 909.0L295.2 908.8L300.2 909.2L305.1 908.7L310.1 908.9L315.1 908.5L320.1 909.2L325.0 908.6L330.0 908.2L335.0 908.0L340.0 906.3L344.9 903.5L349.9 899.1L354.9 895.0L359.8 890.7L364.8 885.3L369.8 878.7L374.8 872.3L379.7 865.0L384.7 857.1L389.7 848.9L394.6 840.2L399.6 831.0L404.6 822.2L409.6 812.4L414.5 803.9L419.5 794.7L424.5 785.1L429.4 775.7L434.4 766.7L439.4 757.7L444.4 748.7L449.3 739.7L454.3 731.2L459.3 722.4L464.3 714.9L469.2 707.0L474.2 700.0L479.2 692.0L484.1 683.6L489.1 675.9L494.1 667.9L499.1 659.1L504.0 652.6L509.0 644.9L514.0 639.2L518.9 633.5L523.9 626.4L528.9 621.1L533.9 615.3L538.8 609.9L543.8 604.3L548.8 599.2L553.7 593.4L558.7 590.0L563.7 585.0L568.7 582.1L573.6 579.1L578.6 575.3L583.6 570.7L588.6 567.0L593.5 563.2L598.5 559.4L603.5 555.9L608.4 550.6L613.4 547.8L618.4 544.3L623.4 540.9L628.3 538.0L633.3 535.8L638.3 532.1L643.2 528.3L648.2 523.7L653.2 519.9L658.2 513.1L663.1 510.4L668.1 502.8L673.1 494.8L678.0 486.3L683.0 476.5L688.0 466.5L693.0 453.9L697.9 442.5L702.9 429.4L707.9 421.4L712.9 409.0L717.8 397.3L722.8 386.2L727.8 376.8L732.7 368.3L737.7 361.8L742.7 355.8L747.7 349.2L752.6 340.8L757.6 336.2L762.6 330.4L767.5 328.2L772.5 327.2L777.5 321.3L782.5 315.9L787.4 309.8L792.4 307.1L797.4 304.0L802.3 305.8L807.3 300.6L812.3 299.7L817.3 296.1L822.2 295.6L827.2 296.9L832.2 291.8L837.2 291.5L842.1 289.7L847.1 292.1L852.1 287.5L857.0 286.6L862.0 285.6L867.0 285.1L872.0 288.5L876.9 292.8L881.9 286.7L886.9 292.0L891.8 292.1L896.8 291.0L901.8 294.3L906.8 296.3L911.7 297.4L916.7 304.6L921.7 299.7L926.6 306.8L931.6 309.8L936.6 311.4L941.6 316.3L946.5 321.4L951.5 323.9L956.5 328.3L961.5 333.2M1244.9 711.8L1249.8 717.1L1254.8 721.6L1259.8 726.4L1264.7 731.4L1269.7 736.0L1274.7 740.5L1279.7 745.1L1284.6 749.7L1289.6 753.5L1294.6 757.5L1299.5 760.7L1304.5 765.3L1309.5 769.6L1314.5 773.7L1319.4 777.0L1324.4 780.2L1329.4 783.7L1334.4 786.9L1339.3 789.9L1344.3 793.7L1349.3 796.7L1354.2 799.5L1359.2 802.8L1364.2 805.3L1369.2 808.5L1374.1 811.0L1379.1 813.7L1384.1 816.6L1389.0 819.3L1394.0 822.1L1399.0 824.6L1404.0 826.5M260.4 908.6L265.4 908.0L270.3 908.7L275.3 908.3L280.3 908.8L285.3 908.9L290.2 908.8L295.2 908.6L300.2 908.7L305.1 908.7L310.1 908.6L315.1 908.6L320.1 908.5L325.0 908.9L330.0 908.5L335.0 908.2L340.0 906.2L344.9 903.2L349.9 899.4L354.9 895.4L359.8 891.2L364.8 885.6L369.8 879.3L374.8 872.9L379.7 866.3L384.7 858.4L389.7 850.3L394.6 842.1L399.6 833.3L404.6 824.1L409.6 814.8L414.5 806.6L419.5 797.2L424.5 788.0L429.4 778.7L434.4 769.5L439.4 760.5L444.4 752.0L449.3 743.2L454.3 734.5L459.3 726.0L464.3 718.4L469.2 711.4L474.2 703.5L479.2 696.4L484.1 688.3L489.1 680.7L494.1 672.2L499.1 664.1L504.0 656.5L509.0 648.4L514.0 642.8L518.9 636.7L523.9 631.2L528.9 625.5L533.9 619.9L538.8 614.0L543.8 608.4L548.8 603.3L553.7 597.3L558.7 593.0L563.7 588.7L568.7 586.6L573.6 582.9L578.6 579.1L583.6 574.3L588.6 571.1L593.5 566.9L598.5 562.9L603.5 558.6L608.4 554.8L613.4 550.5L618.4 547.5L623.4 543.8L628.3 540.5L633.3 537.8L638.3 534.4L643.2 531.1L648.2 526.0L653.2 521.7L658.2 516.7L663.1 511.2L668.1 506.2L673.1 497.0L678.0 490.2L683.0 481.0L688.0 468.3L693.0 456.6L697.9 444.6L702.9 433.2L707.9 422.1L712.9 412.9L717.8 400.8L722.8 391.0L727.8 380.9L732.7 373.9L737.7 365.4L742.7 359.8L747.7 354.3L752.6 347.1L757.6 340.2L762.6 334.5L767.5 332.7L772.5 329.3L777.5 324.6L782.5 319.9L787.4 318.4L792.4 318.8L797.4 311.5L802.3 310.2L807.3 307.9L812.3 300.3L817.3 303.0L822.2 299.7L827.2 302.5L832.2 298.4L837.2 296.5L842.1 296.7L847.1 296.6L852.1 294.4L857.0 294.8L862.0 291.8L867.0 293.7L872.0 295.4L876.9 298.0L881.9 296.5L886.9 297.1L891.8 300.4L896.8 301.6L901.8 304.6L906.8 305.3L911.7 305.1L916.7 308.0L921.7 310.3L926.6 313.3L931.6 316.2L936.6 317.7L941.6 319.0L946.5 325.3L951.5 326.8L956.5 334.2L961.5 338.5M1244.9 714.0L1249.8 718.5L1254.8 723.9L1259.8 728.6L1264.7 733.4L1269.7 737.6L1274.7 742.8L1279.7 747.6L1284.6 750.9L1289.6 755.5L1294.6 758.8L1299.5 763.4L1304.5 767.2L1309.5 771.3L1314.5 775.5L1319.4 778.7L1324.4 781.6L1329.4 785.1L1334.4 788.1L1339.3 791.1L1344.3 795.2L1349.3 797.7L1354.2 800.7L1359.2 803.9L1364.2 806.3L1369.2 809.1L1374.1 812.1L1379.1 814.8L1384.1 817.7L1389.0 820.7L1394.0 823.0L1399.0 825.6L1404.0 827.6M260.4 908.4L265.4 908.7L270.3 908.5L275.3 908.8L280.3 908.7L285.3 908.6L290.2 908.4L295.2 908.6L300.2 908.5L305.1 908.8L310.1 908.6L315.1 908.5L320.1 908.8L325.0 908.7L330.0 908.3L335.0 908.1L340.0 906.2L344.9 903.2L349.9 899.6L354.9 895.5L359.8 891.4L364.8 886.1L369.8 880.5L374.8 874.2L379.7 867.0L384.7 860.0L389.7 851.7L394.6 843.5L399.6 835.1L404.6 826.0L409.6 817.6L414.5 808.5L419.5 799.4L424.5 790.9L429.4 781.5L434.4 772.7L439.4 763.3L444.4 755.4L449.3 746.8L454.3 738.3L459.3 730.3L464.3 723.0L469.2 715.4L474.2 708.2L479.2 700.0L484.1 692.0L489.1 684.3L494.1 676.2L499.1 668.1L504.0 661.1L509.0 653.8L514.0 646.9L518.9 641.1L523.9 634.8L528.9 628.7L533.9 623.3L538.8 618.7L543.8 611.5L548.8 606.8L553.7 602.0L558.7 597.4L563.7 592.6L568.7 589.4L573.6 586.1L578.6 582.8L583.6 578.2L588.6 574.0L593.5 571.0L598.5 566.8L603.5 562.1L608.4 557.4L613.4 554.1L618.4 550.2L623.4 547.1L628.3 543.0L633.3 540.8L638.3 537.4L643.2 532.8L648.2 529.0L653.2 524.3L658.2 519.4L663.1 515.0L668.1 507.3L673.1 500.3L678.0 492.7L683.0 483.7L688.0 473.3L693.0 459.3L697.9 446.8L702.9 437.4L707.9 427.0L712.9 417.7L717.8 405.2L722.8 393.1L727.8 386.1L732.7 376.3L737.7 368.4L742.7 367.2L747.7 358.0L752.6 352.2L757.6 345.9L762.6 343.2L767.5 337.3L772.5 335.2L777.5 328.0L782.5 323.7L787.4 324.8L792.4 322.0L797.4 317.9L802.3 315.2L807.3 312.8L812.3 309.0L817.3 311.0L822.2 307.7L827.2 306.4L832.2 305.2L837.2 305.7L842.1 303.9L847.1 303.6L852.1 299.2L857.0 302.0L862.0 304.8L867.0 299.3L872.0 299.9L876.9 302.1L881.9 303.4L886.9 304.2L891.8 301.4L896.8 307.1L901.8 305.6L906.8 308.3L911.7 313.0L916.7 313.6L921.7 318.1L926.6 325.2L931.6 323.9L936.6 327.0L941.6 327.8L946.5 332.0L951.5 335.0L956.5 339.8L961.5 343.3M1244.9 716.6L1249.8 721.3L1254.8 726.6L1259.8 731.1L1264.7 735.7L1269.7 740.1L1274.7 744.3L1279.7 748.8L1284.6 753.1L1289.6 757.0L1294.6 760.8L1299.5 764.7L1304.5 768.8L1309.5 773.0L1314.5 776.6L1319.4 779.6L1324.4 783.1L1329.4 786.2L1334.4 789.5L1339.3 792.8L1344.3 795.8L1349.3 798.9L1354.2 802.1L1359.2 805.1L1364.2 807.7L1369.2 810.7L1374.1 813.3L1379.1 815.8L1384.1 818.8L1389.0 821.9L1394.0 823.9L1399.0 826.7L1404.0 828.7M260.4 908.9L265.4 908.4L270.3 909.0L275.3 908.6L280.3 908.5L285.3 908.5L290.2 908.7L295.2 908.6L300.2 908.5L305.1 908.8L310.1 908.4L315.1 908.3L320.1 908.7L325.0 908.6L330.0 908.6L335.0 907.6L340.0 906.4L344.9 903.4L349.9 900.1L354.9 895.7L359.8 891.9L364.8 886.7L369.8 880.6L374.8 874.6L379.7 868.2L384.7 860.7L389.7 853.0L394.6 845.2L399.6 836.8L404.6 828.1L409.6 819.1L414.5 810.7L419.5 802.3L424.5 793.1L429.4 784.2L434.4 775.9L439.4 767.4L444.4 758.1L449.3 749.3L454.3 741.2L459.3 733.4L464.3 726.3L469.2 719.4L474.2 711.8L479.2 704.0L484.1 696.1L489.1 687.7L494.1 680.1L499.1 672.4L504.0 666.0L509.0 658.2L514.0 651.0L518.9 644.6L523.9 638.9L528.9 632.8L533.9 627.4L538.8 621.6L543.8 616.4L548.8 610.4L553.7 605.3L558.7 600.3L563.7 596.4L568.7 593.3L573.6 589.7L578.6 586.5L583.6 581.8L588.6 578.5L593.5 574.0L598.5 569.6L603.5 564.2L608.4 560.3L613.4 557.4L618.4 553.9L623.4 549.8L628.3 547.0L633.3 543.4L638.3 540.1L643.2 535.8L648.2 532.2L653.2 527.1L658.2 522.1L663.1 517.1L668.1 511.1L673.1 503.2L678.0 494.5L683.0 487.4L688.0 475.5L693.0 463.2L697.9 452.4L702.9 441.2L707.9 429.7L712.9 419.4L717.8 406.8L722.8 396.9L727.8 386.0L732.7 382.5L737.7 371.7L742.7 368.6L747.7 360.4L752.6 353.9L757.6 349.0L762.6 345.2L767.5 342.2L772.5 340.5L777.5 334.8L782.5 332.1L787.4 326.2L792.4 325.6L797.4 322.3L802.3 319.1L807.3 317.5L812.3 315.5L817.3 313.9L822.2 312.7L827.2 310.1L832.2 308.8L837.2 310.8L842.1 305.6L847.1 306.8L852.1 310.3L857.0 301.8L862.0 305.4L867.0 307.8L872.0 303.3L876.9 311.7L881.9 302.9L886.9 312.1L891.8 313.9L896.8 314.3L901.8 313.9L906.8 317.0L911.7 316.9L916.7 322.2L921.7 321.2L926.6 325.6L931.6 331.0L936.6 330.5L941.6 335.3L946.5 340.0L951.5 341.2L956.5 349.1L961.5 352.1M1244.9 719.3L1249.8 724.1L1254.8 728.7L1259.8 732.9L1264.7 737.6L1269.7 742.8L1274.7 746.8L1279.7 750.7L1284.6 755.2L1289.6 758.8L1294.6 762.1L1299.5 765.8L1304.5 770.1L1309.5 774.7L1314.5 778.4L1319.4 781.6L1324.4 784.8L1329.4 788.0L1334.4 790.6L1339.3 794.2L1344.3 797.3L1349.3 800.2L1354.2 803.3L1359.2 806.2L1364.2 809.0L1369.2 811.4L1374.1 814.3L1379.1 817.6L1384.1 819.6L1389.0 822.2L1394.0 825.1L1399.0 827.6L1404.0 829.4M260.4 908.3L265.4 908.7L270.3 908.4L275.3 908.3L280.3 908.4L285.3 908.5L290.2 908.6L295.2 908.6L300.2 908.5L305.1 908.6L310.1 908.5L315.1 908.6L320.1 908.2L325.0 908.1L330.0 908.4L335.0 907.4L340.0 906.1L344.9 903.4L349.9 899.9L354.9 896.2L359.8 892.6L364.8 886.8L369.8 881.8L374.8 876.0L379.7 869.0L384.7 862.0L389.7 854.6L394.6 846.9L399.6 838.1L404.6 829.8L409.6 821.3L414.5 813.1L419.5 804.5L424.5 795.9L429.4 787.0L434.4 778.6L439.4 769.9L444.4 761.4L449.3 753.1L454.3 744.9L459.3 736.9L464.3 730.4L469.2 722.9L474.2 715.2L479.2 708.3L484.1 699.7L489.1 692.0L494.1 684.1L499.1 676.6L504.0 669.1L509.0 661.7L514.0 655.2L518.9 649.7L523.9 642.2L528.9 637.4L533.9 631.8L538.8 625.4L543.8 619.4L548.8 615.3L553.7 609.3L558.7 605.6L563.7 600.9L568.7 597.0L573.6 593.6L578.6 589.9L583.6 586.1L588.6 581.7L593.5 577.3L598.5 572.9L603.5 569.0L608.4 564.4L613.4 559.5L618.4 555.8L623.4 552.8L628.3 549.1L633.3 546.2L638.3 542.5L643.2 538.8L648.2 534.5L653.2 530.1L658.2 524.8L663.1 521.0L668.1 513.3L673.1 507.6L678.0 498.4L683.0 489.3L688.0 477.7L693.0 463.8L697.9 453.9L702.9 443.5L707.9 434.8L712.9 420.8L717.8 413.3L722.8 400.8L727.8 393.1L732.7 381.6L737.7 378.1L742.7 371.1L747.7 366.5L752.6 359.5L757.6 351.8L762.6 350.4L767.5 346.7L772.5 343.2L777.5 340.4L782.5 337.1L787.4 331.9L792.4 327.0L797.4 324.7L802.3 327.2L807.3 324.0L812.3 321.0L817.3 318.1L822.2 317.5L827.2 316.6L832.2 315.2L837.2 313.8L842.1 318.4L847.1 314.2L852.1 312.1L857.0 310.5L862.0 311.4L867.0 313.9L872.0 314.1L876.9 312.6L881.9 314.3L886.9 315.1L891.8 315.2L896.8 321.4L901.8 321.5L906.8 327.4L911.7 323.7L916.7 327.1L921.7 331.4L926.6 332.3L931.6 333.5L936.6 337.5L941.6 342.8L946.5 346.9L951.5 349.8L956.5 355.4L961.5 359.6M1244.9 721.7L1249.8 726.7L1254.8 731.5L1259.8 735.3L1264.7 740.3L1269.7 744.7L1274.7 748.9L1279.7 753.2L1284.6 757.1L1289.6 761.2L1294.6 764.5L1299.5 768.3L1304.5 772.5L1309.5 776.5L1314.5 780.1L1319.4 783.3L1324.4 786.6L1329.4 789.4L1334.4 792.5L1339.3 795.5L1344.3 798.7L1349.3 801.5L1354.2 804.7L1359.2 807.5L1364.2 809.8L1369.2 812.9L1374.1 815.7L1379.1 818.3L1384.1 820.7L1389.0 823.9L1394.0 825.9L1399.0 828.2L1404.0 830.0M260.4 908.5L265.4 908.6L270.3 908.7L275.3 908.5L280.3 908.2L285.3 908.3L290.2 908.3L295.2 908.4L300.2 908.1L305.1 908.4L310.1 908.5L315.1 908.3L320.1 908.5L325.0 908.2L330.0 907.9L335.0 907.5L340.0 906.3L344.9 903.7L349.9 900.1L354.9 896.8L359.8 892.6L364.8 888.1L369.8 882.3L374.8 876.3L379.7 870.1L384.7 863.0L389.7 855.6L394.6 847.8L399.6 840.0L404.6 831.6L409.6 823.3L414.5 815.0L419.5 807.1L424.5 798.2L429.4 789.6L434.4 781.6L439.4 773.2L444.4 764.6L449.3 755.9L454.3 748.1L459.3 740.8L464.3 733.5L469.2 727.0L474.2 718.9L479.2 711.9L484.1 703.5L489.1 696.1L494.1 687.9L499.1 680.7L504.0 672.8L509.0 665.3L514.0 658.7L518.9 652.6L523.9 646.5L528.9 641.6L533.9 636.0L538.8 629.7L543.8 623.3L548.8 618.1L553.7 612.9L558.7 609.0L563.7 604.4L568.7 600.8L573.6 596.8L578.6 592.2L583.6 588.7L588.6 584.3L593.5 580.8L598.5 576.1L603.5 571.1L608.4 566.9L613.4 563.8L618.4 558.6L623.4 555.0L628.3 552.1L633.3 548.8L638.3 545.5L643.2 541.9L648.2 537.9L653.2 531.1L658.2 527.3L663.1 522.3L668.1 515.8L673.1 508.0L678.0 500.1L683.0 492.3L688.0 480.5L693.0 468.7L697.9 457.0L702.9 446.5L707.9 436.0L712.9 426.4L717.8 414.7L722.8 404.7L727.8 395.8L732.7 387.2L737.7 380.7L742.7 374.1L747.7 369.7L752.6 362.5L757.6 356.1L762.6 353.6L767.5 350.7L772.5 344.1L777.5 346.0L782.5 340.1L787.4 336.6L792.4 335.8L797.4 332.1L802.3 328.9L807.3 331.6L812.3 324.2L817.3 324.0L822.2 324.3L827.2 320.1L832.2 321.2L837.2 321.4L842.1 324.5L847.1 318.0L852.1 319.0L857.0 320.0L862.0 318.9L867.0 316.5L872.0 319.6L876.9 319.5L881.9 321.3L886.9 324.1L891.8 325.5L896.8 326.1L901.8 327.8L906.8 327.4L911.7 331.3L916.7 334.3L921.7 335.7L926.6 339.5L931.6 341.1L936.6 348.3L941.6 352.8L946.5 352.3L951.5 357.2L956.5 360.0L961.5 366.6M1244.9 723.8L1249.8 728.3L1254.8 733.5L1259.8 738.2L1264.7 742.2L1269.7 746.1L1274.7 751.2L1279.7 755.0L1284.6 759.3L1289.6 762.7L1294.6 766.2L1299.5 769.9L1304.5 774.3L1309.5 778.2L1314.5 781.1L1319.4 784.5L1324.4 788.1L1329.4 790.7L1334.4 793.6L1339.3 797.1L1344.3 800.2L1349.3 803.1L1354.2 805.8L1359.2 808.7L1364.2 811.3L1369.2 814.1L1374.1 816.5L1379.1 819.3L1384.1 822.0L1389.0 824.9L1394.0 827.2L1399.0 829.4L1404.0 831.3M260.4 908.5L265.4 908.6L270.3 908.5L275.3 908.7L280.3 908.6L285.3 908.4L290.2 908.3L295.2 908.5L300.2 908.4L305.1 908.3L310.1 908.0L315.1 908.0L320.1 908.4L325.0 908.4L330.0 908.3L335.0 907.3L340.0 906.3L344.9 903.5L349.9 900.4L354.9 896.9L359.8 892.9L364.8 888.2L369.8 882.5L374.8 877.0L379.7 870.6L384.7 864.3L389.7 857.0L394.6 849.7L399.6 841.7L404.6 833.3L409.6 825.3L414.5 817.2L419.5 809.1L424.5 800.7L429.4 792.1L434.4 784.0L439.4 775.7L444.4 767.4L449.3 759.5L454.3 751.8L459.3 743.8L464.3 736.9L469.2 729.6L474.2 722.8L479.2 715.3L484.1 706.8L489.1 699.5L494.1 691.9L499.1 684.0L504.0 676.6L509.0 669.3L514.0 663.1L518.9 656.1L523.9 650.6L528.9 645.7L533.9 639.2L538.8 633.5L543.8 627.4L548.8 621.4L553.7 616.8L558.7 612.2L563.7 607.4L568.7 604.3L573.6 601.0L578.6 597.1L583.6 591.7L588.6 587.8L593.5 583.1L598.5 579.8L603.5 574.9L608.4 570.4L613.4 565.5L618.4 561.5L623.4 558.4L628.3 555.1L633.3 551.5L638.3 548.5L643.2 544.7L648.2 539.7L653.2 534.1L658.2 528.6L663.1 524.6L668.1 518.4L673.1 510.5L678.0 502.7L683.0 493.8L688.0 484.0L693.0 471.6L697.9 460.0L702.9 448.6L707.9 438.7L712.9 428.8L717.8 417.0L722.8 406.6L727.8 399.0L732.7 393.4L737.7 385.7L742.7 381.1L747.7 373.2L752.6 367.1L757.6 359.8L762.6 356.7L767.5 356.4L772.5 351.6L777.5 349.0L782.5 345.7L787.4 341.4L792.4 338.6L797.4 337.0L802.3 336.0L807.3 333.8L812.3 332.0L817.3 329.8L822.2 326.9L827.2 327.0L832.2 325.2L837.2 328.1L842.1 322.1L847.1 324.9L852.1 329.2L857.0 324.1L862.0 322.6L867.0 324.7L872.0 327.3L876.9 325.2L881.9 327.9L886.9 328.5L891.8 329.3L896.8 337.4L901.8 333.8L906.8 334.8L911.7 337.2L916.7 341.1L921.7 343.7L926.6 347.3L931.6 349.3L936.6 350.0L941.6 356.7L946.5 359.0L951.5 362.7L956.5 364.6L961.5 370.3M1244.9 726.2L1249.8 731.5L1254.8 735.6L1259.8 740.5L1264.7 744.5L1269.7 748.5L1274.7 753.1L1279.7 757.3L1284.6 761.5L1289.6 765.0L1294.6 768.3L1299.5 771.7L1304.5 775.5L1309.5 779.5L1314.5 783.0L1319.4 786.2L1324.4 788.7L1329.4 792.3L1334.4 795.4L1339.3 799.0L1344.3 801.7L1349.3 804.3L1354.2 807.3L1359.2 809.7L1364.2 812.5L1369.2 814.9L1374.1 818.1L1379.1 820.6L1384.1 822.9L1389.0 825.7L1394.0 828.3L1399.0 830.5L1404.0 832.2M260.4 908.2L265.4 908.2L270.3 908.4L275.3 908.5L280.3 908.2L285.3 908.1L290.2 908.5L295.2 908.1L300.2 908.5L305.1 908.3L310.1 908.4L315.1 908.5L320.1 908.3L325.0 908.3L330.0 907.9L335.0 907.3L340.0 906.2L344.9 903.9L349.9 900.8L354.9 897.5L359.8 893.5L364.8 888.8L369.8 883.7L374.8 878.0L379.7 871.8L384.7 865.1L389.7 858.4L394.6 850.7L399.6 843.3L404.6 834.9L409.6 827.4L414.5 819.1L419.5 811.4L424.5 802.7L429.4 794.7L434.4 786.8L439.4 778.3L444.4 770.3L449.3 762.2L454.3 754.0L459.3 747.2L464.3 740.4L469.2 733.3L474.2 726.5L479.2 718.7L484.1 710.6L489.1 703.0L494.1 695.1L499.1 688.5L504.0 680.0L509.0 673.5L514.0 666.9L518.9 659.6L523.9 653.8L528.9 648.9L533.9 642.7L538.8 637.1L543.8 631.5L548.8 625.3L553.7 620.0L558.7 614.5L563.7 611.5L568.7 607.2L573.6 604.0L578.6 600.1L583.6 595.2L588.6 592.3L593.5 587.6L598.5 582.8L603.5 577.1L608.4 572.9L613.4 568.6L618.4 564.7L623.4 560.6L628.3 558.0L633.3 554.7L638.3 551.3L643.2 546.7L648.2 542.9L653.2 537.4L658.2 530.8L663.1 526.8L668.1 520.7L673.1 513.7L678.0 505.3L683.0 496.7L688.0 485.7L693.0 474.9L697.9 462.4L702.9 451.9L707.9 441.8L712.9 432.4L717.8 420.8L722.8 409.5L727.8 403.5L732.7 394.8L737.7 389.5L742.7 383.5L747.7 378.8L752.6 372.8L757.6 365.0L762.6 361.4L767.5 356.7L772.5 358.0L777.5 353.1L782.5 351.3L787.4 345.7L792.4 340.4L797.4 344.2L802.3 340.0L807.3 338.3L812.3 336.4L817.3 335.8L822.2 334.4L827.2 330.2L832.2 334.2L837.2 331.0L842.1 330.6L847.1 334.0L852.1 332.2L857.0 329.9L862.0 327.3L867.0 331.0L872.0 332.0L876.9 331.5L881.9 330.7L886.9 333.2L891.8 334.1L896.8 338.5L901.8 341.5L906.8 344.0L911.7 343.3L916.7 347.3L921.7 350.5L926.6 351.7L931.6 355.4L936.6 362.3L941.6 362.7L946.5 367.5L951.5 369.0L956.5 373.5L961.5 375.1M1244.9 729.0L1249.8 733.8L1254.8 738.2L1259.8 742.5L1264.7 746.4L1269.7 751.1L1274.7 754.9L1279.7 759.7L1284.6 762.9L1289.6 766.5L1294.6 769.7L1299.5 773.5L1304.5 777.1L1309.5 781.5L1314.5 784.7L1319.4 788.0L1324.4 790.6L1329.4 793.6L1334.4 797.1L1339.3 799.7L1344.3 802.6L1349.3 805.8L1354.2 808.2L1359.2 811.1L1364.2 814.0L1369.2 816.2L1374.1 819.2L1379.1 821.4L1384.1 824.5L1389.0 827.0L1394.0 829.0L1399.0 831.3L1404.0 832.9M260.4 908.3L265.4 908.5L270.3 908.0L275.3 908.4L280.3 908.0L285.3 908.1L290.2 907.9L295.2 908.6L300.2 908.2L305.1 908.2L310.1 908.1L315.1 908.3L320.1 907.8L325.0 908.1L330.0 908.3L335.0 907.3L340.0 906.0L344.9 903.8L349.9 900.5L354.9 897.4L359.8 894.0L364.8 889.3L369.8 884.2L374.8 878.6L379.7 872.8L384.7 866.3L389.7 859.7L394.6 852.4L399.6 844.6L404.6 836.4L409.6 829.1L414.5 821.4L419.5 813.2L424.5 804.9L429.4 796.9L434.4 789.3L439.4 780.9L444.4 773.0L449.3 765.2L454.3 757.8L459.3 750.3L464.3 743.5L469.2 736.7L474.2 730.1L479.2 722.5L484.1 714.3L489.1 706.1L494.1 698.6L499.1 691.6L504.0 683.8L509.0 677.2L514.0 670.3L518.9 664.0L523.9 658.2L528.9 652.4L533.9 646.2L538.8 640.4L543.8 635.5L548.8 628.5L553.7 623.7L558.7 619.5L563.7 614.8L568.7 610.7L573.6 606.7L578.6 603.6L583.6 599.5L588.6 595.3L593.5 590.3L598.5 586.0L603.5 580.2L608.4 576.1L613.4 571.4L618.4 567.8L623.4 564.3L628.3 561.1L633.3 556.8L638.3 554.4L643.2 549.3L648.2 544.2L653.2 539.7L658.2 534.0L663.1 529.6L668.1 523.3L673.1 515.5L678.0 508.3L683.0 499.3L688.0 488.9L693.0 476.0L697.9 465.6L702.9 454.7L707.9 445.1L712.9 435.0L717.8 424.8L722.8 412.9L727.8 404.6L732.7 398.8L737.7 393.3L742.7 387.3L747.7 382.3L752.6 377.1L757.6 370.5L762.6 365.8L767.5 361.4L772.5 358.5L777.5 356.2L782.5 354.2L787.4 351.1L792.4 348.4L797.4 346.3L802.3 345.8L807.3 343.4L812.3 341.9L817.3 340.4L822.2 337.9L827.2 336.5L832.2 338.6L837.2 338.1L842.1 336.7L847.1 335.9L852.1 340.3L857.0 335.0L862.0 336.1L867.0 337.2L872.0 335.1L876.9 338.0L881.9 342.3L886.9 342.4L891.8 343.6L896.8 345.4L901.8 346.5L906.8 350.2L911.7 350.7L916.7 352.7L921.7 356.2L926.6 360.5L931.6 362.7L936.6 366.5L941.6 365.8L946.5 374.4L951.5 379.7L956.5 381.9L961.5 383.7M1244.9 732.0L1249.8 736.0L1254.8 740.8L1259.8 744.9L1264.7 749.2L1269.7 753.6L1274.7 757.3L1279.7 761.4L1284.6 764.6L1289.6 768.6L1294.6 771.8L1299.5 775.3L1304.5 779.1L1309.5 783.0L1314.5 786.7L1319.4 789.0L1324.4 792.3L1329.4 795.0L1334.4 798.5L1339.3 801.2L1344.3 804.4L1349.3 807.0L1354.2 809.9L1359.2 812.6L1364.2 814.9L1369.2 817.6L1374.1 819.8L1379.1 822.7L1384.1 825.4L1389.0 827.7L1394.0 830.3L1399.0 831.9L1404.0 833.7M260.4 908.0L265.4 908.2L270.3 908.2L275.3 908.2L280.3 908.2L285.3 908.3L290.2 908.1L295.2 907.9L300.2 907.9L305.1 908.5L310.1 907.7L315.1 908.1L320.1 908.3L325.0 908.1L330.0 907.8L335.0 907.3L340.0 906.1L344.9 904.0L349.9 900.7L354.9 897.8L359.8 894.2L364.8 889.9L369.8 885.0L374.8 879.4L379.7 873.3L384.7 867.4L389.7 860.9L394.6 853.7L399.6 846.2L404.6 838.9L409.6 830.6L414.5 823.3L419.5 815.3L424.5 807.5L429.4 799.5L434.4 791.9L439.4 783.5L444.4 775.7L449.3 767.6L454.3 760.5L459.3 753.2L464.3 746.7L469.2 739.8L474.2 732.8L479.2 725.8L484.1 717.6L489.1 710.0L494.1 702.4L499.1 694.7L504.0 687.0L509.0 680.7L514.0 673.7L518.9 667.7L523.9 660.8L528.9 655.2L533.9 649.2L538.8 643.7L543.8 638.5L548.8 632.7L553.7 627.4L558.7 622.5L563.7 618.6L568.7 614.3L573.6 610.8L578.6 606.7L583.6 601.4L588.6 597.7L593.5 593.9L598.5 588.3L603.5 583.5L608.4 578.6L613.4 574.4L618.4 571.1L623.4 566.5L628.3 562.7L633.3 558.4L638.3 556.1L643.2 551.1L648.2 546.3L653.2 542.7L658.2 537.6L663.1 530.9L668.1 526.0L673.1 518.3L678.0 510.0L683.0 502.5L688.0 490.4L693.0 478.9L697.9 467.3L702.9 457.4L707.9 449.3L712.9 437.0L717.8 426.7L722.8 417.0L727.8 409.9L732.7 402.3L737.7 397.4L742.7 389.7L747.7 383.4L752.6 378.7L757.6 373.9L762.6 368.7L767.5 367.4L772.5 366.8L777.5 360.5L782.5 358.4L787.4 357.4L792.4 352.1L797.4 350.0L802.3 347.9L807.3 348.6L812.3 347.3L817.3 344.8L822.2 344.1L827.2 345.7L832.2 344.6L837.2 340.5L842.1 342.5L847.1 342.4L852.1 343.2L857.0 341.7L862.0 341.2L867.0 341.8L872.0 340.0L876.9 343.8L881.9 344.2L886.9 347.7L891.8 346.9L896.8 349.8L901.8 350.9L906.8 353.1L911.7 358.4L916.7 359.0L921.7 363.2L926.6 363.7L931.6 368.8L936.6 369.2L941.6 374.6L946.5 378.3L951.5 383.5L956.5 386.6L961.5 390.3M1244.9 734.1L1249.8 738.7L1254.8 743.1L1259.8 747.1L1264.7 751.4L1269.7 755.3L1274.7 759.3L1279.7 762.9L1284.6 766.9L1289.6 770.3L1294.6 773.5L1299.5 777.6L1304.5 780.6L1309.5 784.4L1314.5 788.0L1319.4 790.5L1324.4 793.6L1329.4 796.3L1334.4 799.5L1339.3 802.7L1344.3 805.7L1349.3 808.6L1354.2 811.2L1359.2 813.8L1364.2 816.3L1369.2 818.6L1374.1 821.4L1379.1 823.7L1384.1 826.2L1389.0 829.1L1394.0 831.3L1399.0 833.3L1404.0 835.1M260.4 908.3L265.4 908.0L270.3 908.2L275.3 908.0L280.3 908.2L285.3 908.0L290.2 908.3L295.2 908.2L300.2 907.9L305.1 908.0L310.1 907.8L315.1 908.0L320.1 908.1L325.0 908.0L330.0 907.5L335.0 907.2L340.0 906.0L344.9 903.9L349.9 901.2L354.9 897.7L359.8 894.6L364.8 890.1L369.8 885.3L374.8 880.2L379.7 874.5L384.7 868.2L389.7 861.8L394.6 854.6L399.6 847.3L404.6 840.2L409.6 832.5L414.5 824.7L419.5 817.2L424.5 809.6L429.4 802.0L434.4 794.1L439.4 786.3L444.4 778.0L449.3 770.6L454.3 763.3L459.3 756.3L464.3 749.7L469.2 743.0L474.2 736.5L479.2 729.1L484.1 720.8L489.1 712.8L494.1 706.1L499.1 698.0L504.0 691.2L509.0 684.3L514.0 676.7L518.9 670.8L523.9 664.8L528.9 659.3L533.9 653.5L538.8 648.1L543.8 641.7L548.8 635.8L553.7 631.2L558.7 625.7L563.7 621.4L568.7 618.6L573.6 613.5L578.6 609.6L583.6 605.4L588.6 600.5L593.5 595.5L598.5 591.9L603.5 586.1L608.4 581.4L613.4 577.2L618.4 572.8L623.4 568.8L628.3 565.9L633.3 563.6L638.3 559.2L643.2 555.0L648.2 548.9L653.2 544.6L658.2 538.9L663.1 534.7L668.1 527.7L673.1 520.4L678.0 512.9L683.0 504.1L688.0 493.0L693.0 482.8L697.9 470.1L702.9 460.2L707.9 451.2L712.9 440.7L717.8 431.2L722.8 422.2L727.8 413.2L732.7 406.3L737.7 400.0L742.7 395.2L747.7 386.5L752.6 383.6L757.6 376.6L762.6 372.3L767.5 371.1L772.5 367.9L777.5 366.4L782.5 364.3L787.4 356.5L792.4 357.6L797.4 358.9L802.3 355.7L807.3 355.1L812.3 351.6L817.3 347.8L822.2 347.4L827.2 349.9L832.2 350.1L837.2 347.0L842.1 347.5L847.1 348.1L852.1 344.5L857.0 347.1L862.0 350.8L867.0 352.1L872.0 348.8L876.9 352.9L881.9 350.4L886.9 351.6L891.8 351.0L896.8 358.3L901.8 358.1L906.8 364.9L911.7 364.1L916.7 366.4L921.7 365.9L926.6 374.2L931.6 374.5L936.6 378.1L941.6 378.5L946.5 386.8L951.5 390.5L956.5 391.9L961.5 397.1M1244.9 736.6L1249.8 740.7L1254.8 744.8L1259.8 749.2L1264.7 753.4L1269.7 757.4L1274.7 761.5L1279.7 764.6L1284.6 768.5L1289.6 771.8L1294.6 775.8L1299.5 778.8L1304.5 782.4L1309.5 786.0L1314.5 789.8L1319.4 792.4L1324.4 795.3L1329.4 797.7L1334.4 801.3L1339.3 804.2L1344.3 807.1L1349.3 809.9L1354.2 812.2L1359.2 814.8L1364.2 817.5L1369.2 819.9L1374.1 822.3L1379.1 824.8L1384.1 827.2L1389.0 829.9L1394.0 832.3L1399.0 834.2L1404.0 836.2M260.4 907.9L265.4 908.1L270.3 908.4L275.3 908.0L280.3 907.8L285.3 908.3L290.2 908.1L295.2 907.8L300.2 908.1L305.1 907.8L310.1 907.8L315.1 907.9L320.1 907.9L325.0 907.7L330.0 907.7L335.0 907.0L340.0 905.9L344.9 903.9L349.9 901.3L354.9 898.1L359.8 894.6L364.8 890.4L369.8 885.8L374.8 881.0L379.7 875.3L384.7 869.1L389.7 863.0L394.6 855.9L399.6 849.1L404.6 841.5L409.6 834.3L414.5 826.9L419.5 819.3L424.5 811.7L429.4 803.7L434.4 796.2L439.4 788.7L444.4 781.6L449.3 773.4L454.3 765.9L459.3 758.8L464.3 752.7L469.2 745.7L474.2 738.9L479.2 731.9L484.1 723.7L489.1 716.7L494.1 709.0L499.1 701.2L504.0 693.9L509.0 686.6L514.0 679.9L518.9 674.2L523.9 668.4L528.9 662.6L533.9 656.8L538.8 650.5L543.8 644.9L548.8 638.6L553.7 634.0L558.7 629.7L563.7 625.3L568.7 620.7L573.6 616.9L578.6 613.5L583.6 609.3L588.6 603.4L593.5 599.2L598.5 594.5L603.5 589.9L608.4 584.1L613.4 580.4L618.4 575.8L623.4 573.1L628.3 568.6L633.3 564.9L638.3 561.2L643.2 557.6L648.2 552.5L653.2 546.5L658.2 542.0L663.1 535.8L668.1 529.7L673.1 522.1L678.0 514.6L683.0 506.6L688.0 496.0L693.0 485.4L697.9 474.4L702.9 463.8L707.9 453.5L712.9 445.1L717.8 432.2L722.8 422.5L727.8 417.1L732.7 410.3L737.7 404.6L742.7 397.6L747.7 391.0L752.6 386.4L757.6 382.5L762.6 377.0L767.5 374.4L772.5 370.8L777.5 368.4L782.5 368.4L787.4 365.1L792.4 360.6L797.4 359.1L802.3 358.4L807.3 358.6L812.3 354.6L817.3 354.9L822.2 350.9L827.2 352.0L832.2 354.5L837.2 355.1L842.1 351.5L847.1 351.9L852.1 354.4L857.0 352.7L862.0 352.9L867.0 355.1L872.0 355.2L876.9 357.7L881.9 358.6L886.9 358.1L891.8 360.7L896.8 362.7L901.8 362.7L906.8 365.7L911.7 371.4L916.7 369.9L921.7 376.7L926.6 378.7L931.6 381.2L936.6 385.5L941.6 388.9L946.5 393.6L951.5 394.8L956.5 398.8L961.5 403.0M1244.9 739.2L1249.8 743.3L1254.8 747.3L1259.8 752.0L1264.7 755.2L1269.7 759.5L1274.7 763.5L1279.7 767.1L1284.6 770.9L1289.6 774.0L1294.6 777.2L1299.5 781.1L1304.5 784.2L1309.5 787.8L1314.5 790.9L1319.4 793.9L1324.4 796.9L1329.4 799.6L1334.4 802.5L1339.3 805.3L1344.3 808.5L1349.3 810.7L1354.2 813.4L1359.2 816.0L1364.2 818.4L1369.2 821.0L1374.1 823.3L1379.1 825.8L1384.1 828.7L1389.0 831.0L1394.0 833.3L1399.0 835.2L1404.0 836.9M260.4 908.2L265.4 908.3L270.3 908.5L275.3 908.0L280.3 908.1L285.3 908.0L290.2 907.4L295.2 907.8L300.2 908.0L305.1 908.0L310.1 907.8L315.1 908.1L320.1 908.1L325.0 907.8L330.0 907.9L335.0 907.4L340.0 906.0L344.9 903.8L349.9 901.5L354.9 898.4L359.8 895.1L364.8 891.1L369.8 886.3L374.8 881.6L379.7 876.1L384.7 870.3L389.7 864.0L394.6 857.1L399.6 850.2L404.6 843.2L409.6 835.7L414.5 829.0L419.5 821.1L424.5 813.5L429.4 806.2L434.4 798.5L439.4 790.8L444.4 783.2L449.3 775.8L454.3 768.7L459.3 761.9L464.3 755.3L469.2 749.0L474.2 742.2L479.2 734.9L484.1 726.2L489.1 719.1L494.1 711.6L499.1 704.4L504.0 697.3L509.0 690.5L514.0 683.7L518.9 677.2L523.9 671.4L528.9 666.3L533.9 659.7L538.8 654.1L543.8 648.5L548.8 642.5L553.7 636.5L558.7 632.5L563.7 627.9L568.7 624.0L573.6 620.6L578.6 616.3L583.6 611.5L588.6 607.4L593.5 602.5L598.5 597.3L603.5 592.3L608.4 587.3L613.4 582.6L618.4 578.4L623.4 574.6L628.3 570.6L633.3 567.0L638.3 564.5L643.2 559.5L648.2 554.6L653.2 549.4L658.2 544.2L663.1 538.9L668.1 532.5L673.1 524.7L678.0 518.3L683.0 509.1L688.0 499.8L693.0 486.3L697.9 475.8L702.9 467.6L707.9 457.3L712.9 446.9L717.8 437.7L722.8 426.6L727.8 419.7L732.7 410.7L737.7 406.6L742.7 400.8L747.7 396.9L752.6 391.9L757.6 384.7L762.6 384.1L767.5 378.7L772.5 374.2L777.5 371.1L782.5 373.8L787.4 368.9L792.4 366.0L797.4 364.3L802.3 362.4L807.3 364.7L812.3 361.3L817.3 363.1L822.2 359.2L827.2 355.6L832.2 360.5L837.2 358.5L842.1 358.5L847.1 361.2L852.1 358.2L857.0 360.9L862.0 359.5L867.0 358.9L872.0 361.7L876.9 360.8L881.9 365.4L886.9 366.7L891.8 367.1L896.8 370.0L901.8 372.0L906.8 373.1L911.7 377.5L916.7 378.4L921.7 382.5L926.6 383.2L931.6 388.0L936.6 391.7L941.6 393.5L946.5 397.6L951.5 401.0L956.5 406.5L961.5 408.7M1244.9 741.8L1249.8 746.1L1254.8 749.6L1259.8 753.9L1264.7 757.8L1269.7 761.8L1274.7 765.8L1279.7 769.3L1284.6 772.4L1289.6 775.8L1294.6 779.3L1299.5 782.4L1304.5 785.9L1309.5 789.5L1314.5 792.4L1319.4 795.7L1324.4 798.3L1329.4 801.1L1334.4 803.7L1339.3 806.7L1344.3 809.6L1349.3 812.3L1354.2 814.8L1359.2 817.2L1364.2 820.0L1369.2 822.3L1374.1 824.4L1379.1 826.9L1384.1 829.7L1389.0 831.8L1394.0 834.3L1399.0 836.4L1404.0 837.6M260.4 908.0L265.4 908.1L270.3 907.9L275.3 907.9L280.3 907.9L285.3 908.1L290.2 907.9L295.2 907.9L300.2 907.8L305.1 907.7L310.1 908.1L315.1 907.5L320.1 907.7L325.0 907.9L330.0 907.4L335.0 907.1L340.0 906.1L344.9 903.9L349.9 901.5L354.9 898.4L359.8 895.6L364.8 891.5L369.8 886.9L374.8 882.3L379.7 876.8L384.7 871.2L389.7 865.0L394.6 858.2L399.6 851.6L404.6 844.6L409.6 837.1L414.5 830.4L419.5 823.0L424.5 815.6L429.4 807.9L434.4 800.5L439.4 793.1L444.4 785.5L449.3 778.2L454.3 770.6L459.3 764.6L464.3 757.8L469.2 751.2L474.2 744.6L479.2 737.4L484.1 730.0L489.1 722.0L494.1 714.9L499.1 707.3L504.0 700.9L509.0 693.4L514.0 687.1L518.9 680.1L523.9 674.8L528.9 668.6L533.9 663.3L538.8 657.3L543.8 650.6L548.8 645.1L553.7 640.0L558.7 634.9L563.7 630.8L568.7 626.8L573.6 622.7L578.6 619.1L583.6 614.8L588.6 609.4L593.5 605.0L598.5 600.1L603.5 594.8L608.4 589.6L613.4 585.8L618.4 581.6L623.4 577.5L628.3 573.4L633.3 570.9L638.3 567.1L643.2 561.8L648.2 556.9L653.2 552.4L658.2 546.1L663.1 541.3L668.1 534.7L673.1 527.1L678.0 520.0L683.0 511.0L688.0 501.3L693.0 488.9L697.9 480.9L702.9 470.8L707.9 461.3L712.9 450.7L717.8 441.3L722.8 432.0L727.8 423.9L732.7 417.3L737.7 409.6L742.7 405.6L747.7 399.3L752.6 393.3L757.6 388.2L762.6 386.6L767.5 384.9L772.5 379.3L777.5 381.0L782.5 378.0L787.4 373.0L792.4 370.8L797.4 370.0L802.3 370.2L807.3 366.9L812.3 364.7L817.3 365.8L822.2 361.4L827.2 364.6L832.2 366.2L837.2 364.8L842.1 365.5L847.1 364.9L852.1 365.3L857.0 364.8L862.0 363.8L867.0 365.5L872.0 366.5L876.9 369.7L881.9 371.9L886.9 371.8L891.8 371.8L896.8 373.8L901.8 376.9L906.8 381.8L911.7 382.7L916.7 384.8L921.7 386.6L926.6 392.2L931.6 394.5L936.6 397.3L941.6 401.0L946.5 406.8L951.5 407.8L956.5 414.0L961.5 417.5M1244.9 744.5L1249.8 747.9L1254.8 752.3L1259.8 756.4L1264.7 760.2L1269.7 764.0L1274.7 767.6L1279.7 771.2L1284.6 774.8L1289.6 777.7L1294.6 781.0L1299.5 784.2L1304.5 787.6L1309.5 791.1L1314.5 794.0L1319.4 797.2L1324.4 800.0L1329.4 802.7L1334.4 805.5L1339.3 808.0L1344.3 811.3L1349.3 813.4L1354.2 816.0L1359.2 818.7L1364.2 820.6L1369.2 823.4L1374.1 825.7L1379.1 828.0L1384.1 830.3L1389.0 832.9L1394.0 834.9L1399.0 837.2L1404.0 838.8M260.4 907.8L265.4 907.9L270.3 907.9L275.3 907.8L280.3 907.8L285.3 907.9L290.2 907.9L295.2 907.6L300.2 907.8L305.1 907.9L310.1 907.6L315.1 907.6L320.1 908.0L325.0 907.9L330.0 907.3L335.0 906.8L340.0 905.9L344.9 903.9L349.9 901.6L354.9 898.7L359.8 895.9L364.8 891.5L369.8 887.0L374.8 882.5L379.7 877.6L384.7 871.8L389.7 865.6L394.6 859.6L399.6 852.9L404.6 845.8L409.6 838.8L414.5 831.9L419.5 824.9L424.5 817.4L429.4 810.0L434.4 802.5L439.4 795.1L444.4 787.6L449.3 780.5L454.3 773.3L459.3 766.7L464.3 760.8L469.2 754.4L474.2 747.6L479.2 739.9L484.1 732.7L489.1 724.9L494.1 717.5L499.1 710.2L504.0 703.6L509.0 696.5L514.0 689.3L518.9 683.0L523.9 677.6L528.9 671.8L533.9 666.6L538.8 659.7L543.8 653.6L548.8 648.5L553.7 643.5L558.7 638.6L563.7 634.4L568.7 630.9L573.6 626.1L578.6 621.8L583.6 616.8L588.6 612.9L593.5 608.4L598.5 602.7L603.5 598.1L608.4 592.5L613.4 588.7L618.4 583.9L623.4 579.2L628.3 575.7L633.3 571.7L638.3 567.9L643.2 564.5L648.2 559.7L653.2 555.0L658.2 548.7L663.1 543.2L668.1 536.4L673.1 530.3L678.0 522.6L683.0 513.9L688.0 504.5L693.0 493.1L697.9 480.5L702.9 472.9L707.9 463.2L712.9 453.1L717.8 443.1L722.8 435.5L727.8 427.6L732.7 421.6L737.7 412.8L742.7 408.0L747.7 404.6L752.6 397.0L757.6 392.6L762.6 387.7L767.5 389.9L772.5 386.6L777.5 383.5L782.5 380.6L787.4 377.3L792.4 375.4L797.4 375.5L802.3 372.4L807.3 374.0L812.3 370.4L817.3 368.9L822.2 371.6L827.2 369.3L832.2 370.4L837.2 368.9L842.1 366.0L847.1 370.3L852.1 367.4L857.0 371.7L862.0 368.3L867.0 368.5L872.0 372.8L876.9 374.2L881.9 375.3L886.9 375.0L891.8 380.3L896.8 378.7L901.8 382.4L906.8 384.5L911.7 387.7L916.7 392.3L921.7 392.9L926.6 397.8L931.6 401.3L936.6 401.1L941.6 405.4L946.5 410.1L951.5 413.4L956.5 418.2L961.5 419.5M1244.9 747.1L1249.8 750.5L1254.8 754.3L1259.8 758.5L1264.7 762.2L1269.7 765.9L1274.7 769.5L1279.7 773.2L1284.6 776.4L1289.6 779.3L1294.6 782.7L1299.5 786.0L1304.5 789.2L1309.5 792.9L1314.5 795.9L1319.4 798.3L1324.4 801.1L1329.4 804.1L1334.4 806.9L1339.3 809.5L1344.3 812.4L1349.3 814.7L1354.2 816.9L1359.2 819.6L1364.2 822.0L1369.2 824.4L1374.1 826.7L1379.1 829.1L1384.1 831.4L1389.0 833.9L1394.0 836.1L1399.0 837.9L1404.0 839.6M260.4 907.7L265.4 907.9L270.3 908.2L275.3 908.2L280.3 907.9L285.3 907.9L290.2 907.7L295.2 907.9L300.2 907.9L305.1 907.6L310.1 907.8L315.1 907.8L320.1 907.8L325.0 907.5L330.0 907.6L335.0 906.7L340.0 906.1L344.9 904.1L349.9 901.6L354.9 899.2L359.8 896.2L364.8 892.1L369.8 888.2L374.8 883.1L379.7 878.2L384.7 872.8L389.7 866.4L394.6 860.7L399.6 853.9L404.6 847.1L409.6 840.1L414.5 833.4L419.5 826.1L424.5 819.0L429.4 811.7L434.4 804.3L439.4 797.5L444.4 789.7L449.3 782.5L454.3 775.6L459.3 769.2L464.3 763.2L469.2 757.0L474.2 749.9L479.2 742.7L484.1 735.2L489.1 727.9L494.1 720.6L499.1 713.1L504.0 705.5L509.0 699.7L514.0 692.6L518.9 686.3L523.9 680.6L528.9 674.7L533.9 668.7L538.8 663.0L543.8 657.1L548.8 651.3L553.7 645.9L558.7 641.4L563.7 637.3L568.7 632.9L573.6 629.1L578.6 624.1L583.6 620.3L588.6 615.6L593.5 610.3L598.5 604.8L603.5 600.4L608.4 594.8L613.4 590.7L618.4 586.0L623.4 582.4L628.3 578.2L633.3 574.1L638.3 571.0L643.2 566.5L648.2 561.9L653.2 556.1L658.2 550.8L663.1 545.9L668.1 539.7L673.1 532.4L678.0 525.3L683.0 516.9L688.0 507.0L693.0 495.8L697.9 484.7L702.9 475.1L707.9 466.1L712.9 458.3L717.8 446.4L722.8 436.8L727.8 429.0L732.7 423.0L737.7 417.7L742.7 411.0L747.7 404.9L752.6 402.4L757.6 395.3L762.6 394.2L767.5 391.7L772.5 390.8L777.5 389.2L782.5 385.1L787.4 381.5L792.4 378.8L797.4 378.0L802.3 378.0L807.3 374.0L812.3 376.1L817.3 375.1L822.2 375.5L827.2 374.0L832.2 374.8L837.2 373.6L842.1 374.1L847.1 372.0L852.1 375.1L857.0 377.9L862.0 376.5L867.0 377.6L872.0 376.5L876.9 381.5L881.9 379.7L886.9 384.0L891.8 384.9L896.8 385.3L901.8 390.6L906.8 391.6L911.7 394.5L916.7 397.7L921.7 399.9L926.6 402.5L931.6 407.0L936.6 409.1L941.6 413.2L946.5 415.8L951.5 418.2L956.5 423.0L961.5 427.5M1244.9 748.9L1249.8 752.7L1254.8 756.7L1259.8 760.6L1264.7 764.3L1269.7 768.1L1274.7 771.7L1279.7 775.3L1284.6 778.5L1289.6 781.5L1294.6 784.7L1299.5 787.9L1304.5 790.8L1309.5 794.4L1314.5 797.3L1319.4 799.9L1324.4 802.4L1329.4 805.0L1334.4 807.9L1339.3 810.6L1344.3 813.6L1349.3 816.0L1354.2 818.4L1359.2 820.7L1364.2 823.2L1369.2 825.3L1374.1 827.7L1379.1 829.8L1384.1 832.1L1389.0 834.4L1394.0 837.1L1399.0 838.5L1404.0 840.4M260.4 908.2L265.4 907.9L270.3 908.1L275.3 908.2L280.3 908.0L285.3 908.2L290.2 907.9L295.2 907.7L300.2 907.8L305.1 907.7L310.1 907.5L315.1 907.5L320.1 908.0L325.0 907.5L330.0 907.4L335.0 906.8L340.0 905.8L344.9 904.1L349.9 901.8L354.9 899.0L359.8 896.1L364.8 892.5L369.8 888.3L374.8 884.1L379.7 878.9L384.7 873.6L389.7 867.7L394.6 861.5L399.6 854.9L404.6 848.4L409.6 841.3L414.5 834.8L419.5 828.1L424.5 820.9L429.4 813.8L434.4 806.3L439.4 798.9L444.4 791.8L449.3 784.7L454.3 778.1L459.3 771.8L464.3 765.2L469.2 759.2L474.2 752.4L479.2 745.2L484.1 737.5L489.1 730.3L494.1 723.1L499.1 715.9L504.0 708.4L509.0 701.8L514.0 694.7L518.9 689.3L523.9 683.0L528.9 677.6L533.9 671.8L538.8 665.8L543.8 659.7L548.8 653.8L553.7 649.9L558.7 644.5L563.7 640.1L568.7 636.7L573.6 631.9L578.6 627.9L583.6 623.1L588.6 618.8L593.5 613.7L598.5 608.3L603.5 602.7L608.4 597.7L613.4 593.5L618.4 587.8L623.4 584.5L628.3 580.6L633.3 577.0L638.3 572.5L643.2 569.3L648.2 563.5L653.2 558.4L658.2 552.9L663.1 546.8L668.1 541.0L673.1 533.2L678.0 526.4L683.0 518.8L688.0 508.9L693.0 497.7L697.9 486.9L702.9 479.3L707.9 469.1L712.9 458.2L717.8 448.9L722.8 439.4L727.8 432.3L732.7 425.7L737.7 420.0L742.7 417.4L747.7 410.8L752.6 405.4L757.6 400.7L762.6 397.5L767.5 397.2L772.5 394.0L777.5 392.6L782.5 384.8L787.4 387.0L792.4 386.3L797.4 386.4L802.3 382.6L807.3 379.2L812.3 381.6L817.3 379.1L822.2 376.9L827.2 378.6L832.2 381.3L837.2 381.7L842.1 381.1L847.1 378.4L852.1 384.0L857.0 379.1L862.0 381.6L867.0 380.4L872.0 385.7L876.9 385.6L881.9 388.0L886.9 388.7L891.8 390.5L896.8 392.9L901.8 392.1L906.8 399.0L911.7 401.6L916.7 402.5L921.7 406.0L926.6 409.6L931.6 414.6L936.6 416.3L941.6 419.2L946.5 422.1L951.5 424.3L956.5 429.2L961.5 434.2M1244.9 751.3L1249.8 755.3L1254.8 758.4L1259.8 762.6L1264.7 766.5L1269.7 770.1L1274.7 773.2L1279.7 777.1L1284.6 780.1L1289.6 783.0L1294.6 786.2L1299.5 789.2L1304.5 792.4L1309.5 795.9L1314.5 798.7L1319.4 801.1L1324.4 803.8L1329.4 806.5L1334.4 809.1L1339.3 812.3L1344.3 814.6L1349.3 817.5L1354.2 819.7L1359.2 821.7L1364.2 824.1L1369.2 826.6L1374.1 828.7L1379.1 830.9L1384.1 833.4L1389.0 836.0L1394.0 837.5L1399.0 839.8L1404.0 841.1M260.4 907.9L265.4 907.8L270.3 907.8L275.3 908.0L280.3 907.9L285.3 907.7L290.2 908.0L295.2 907.6L300.2 907.8L305.1 907.7L310.1 907.8L315.1 907.7L320.1 907.8L325.0 907.6L330.0 907.5L335.0 906.9L340.0 906.1L344.9 904.1L349.9 902.2L354.9 899.5L359.8 896.6L364.8 892.9L369.8 888.8L374.8 884.1L379.7 879.2L384.7 874.2L389.7 868.3L394.6 862.7L399.6 856.1L404.6 849.6L409.6 843.0L414.5 836.3L419.5 829.3L424.5 822.4L429.4 815.3L434.4 808.3L439.4 801.2L444.4 794.1L449.3 786.9L454.3 779.9L459.3 773.3L464.3 767.8L469.2 761.7L474.2 754.7L479.2 747.8L484.1 740.4L489.1 732.8L494.1 725.8L499.1 718.5L504.0 710.9L509.0 704.3L514.0 697.7L518.9 691.9L523.9 685.8L528.9 680.3L533.9 674.4L538.8 668.7L543.8 662.8L548.8 657.6L553.7 652.4L558.7 647.2L563.7 642.9L568.7 638.8L573.6 634.8L578.6 631.0L583.6 624.9L588.6 621.0L593.5 616.2L598.5 611.2L603.5 604.9L608.4 600.2L613.4 595.8L618.4 590.9L623.4 586.1L628.3 582.9L633.3 578.9L638.3 575.9L643.2 570.8L648.2 566.9L653.2 560.8L658.2 554.9L663.1 549.4L668.1 542.8L673.1 536.5L678.0 530.0L683.0 521.1L688.0 511.8L693.0 499.5L697.9 489.7L702.9 482.0L707.9 470.4L712.9 463.1L717.8 453.3L722.8 441.4L727.8 434.3L732.7 428.6L737.7 425.2L742.7 418.7L747.7 414.1L752.6 410.2L757.6 404.9L762.6 401.8L767.5 399.1L772.5 398.8L777.5 394.4L782.5 395.2L787.4 390.5L792.4 388.2L797.4 389.0L802.3 387.8L807.3 383.5L812.3 385.8L817.3 382.9L822.2 383.2L827.2 385.7L832.2 383.5L837.2 385.6L842.1 384.6L847.1 388.1L852.1 385.4L857.0 384.5L862.0 385.5L867.0 386.8L872.0 389.4L876.9 390.6L881.9 393.8L886.9 394.5L891.8 396.5L896.8 398.9L901.8 400.6L906.8 403.8L911.7 407.2L916.7 410.0L921.7 411.1L926.6 412.6L931.6 417.2L936.6 422.0L941.6 421.8L946.5 428.0L951.5 432.7L956.5 435.1L961.5 438.7M1244.9 753.4L1249.8 757.3L1254.8 761.6L1259.8 764.6L1264.7 768.7L1269.7 772.2L1274.7 775.4L1279.7 778.5L1284.6 781.8L1289.6 784.8L1294.6 787.7L1299.5 790.9L1304.5 794.0L1309.5 797.2L1314.5 800.3L1319.4 802.6L1324.4 805.3L1329.4 807.7L1334.4 810.6L1339.3 813.4L1344.3 816.1L1349.3 818.2L1354.2 820.5L1359.2 822.8L1364.2 825.2L1369.2 827.6L1374.1 829.9L1379.1 832.0L1384.1 834.4L1389.0 836.3L1394.0 838.3L1399.0 840.4L1404.0 841.8M260.4 907.7L265.4 907.6L270.3 907.9L275.3 907.7L280.3 907.5L285.3 908.1L290.2 907.7L295.2 907.6L300.2 907.8L305.1 907.5L310.1 907.8L315.1 907.4L320.1 907.4L325.0 907.5L330.0 907.2L335.0 907.0L340.0 905.5L344.9 904.2L349.9 902.1L354.9 899.7L359.8 897.0L364.8 893.3L369.8 889.5L374.8 884.8L379.7 880.0L384.7 874.9L389.7 869.3L394.6 863.4L399.6 857.1L404.6 850.6L409.6 844.0L414.5 837.4L419.5 830.6L424.5 824.0L429.4 816.6L434.4 810.1L439.4 803.0L444.4 795.9L449.3 788.6L454.3 781.8L459.3 775.9L464.3 769.8L469.2 763.8L474.2 756.8L479.2 750.1L484.1 742.2L489.1 735.1L494.1 727.5L499.1 720.6L504.0 713.9L509.0 706.8L514.0 700.2L518.9 694.4L523.9 688.6L528.9 683.4L533.9 676.6L538.8 671.5L543.8 665.6L548.8 659.4L553.7 654.4L558.7 650.2L563.7 645.1L568.7 641.2L573.6 637.6L578.6 633.0L583.6 628.6L588.6 623.3L593.5 618.7L598.5 613.6L603.5 607.8L608.4 601.6L613.4 598.0L618.4 593.4L623.4 588.8L628.3 585.9L633.3 580.9L638.3 578.6L643.2 573.1L648.2 568.9L653.2 562.7L658.2 556.7L663.1 551.7L668.1 545.5L673.1 538.6L678.0 531.8L683.0 522.9L688.0 513.7L693.0 502.8L697.9 491.6L702.9 482.2L707.9 473.3L712.9 465.3L717.8 455.8L722.8 445.2L727.8 437.3L732.7 433.7L737.7 425.8L742.7 422.5L747.7 416.7L752.6 410.9L757.6 408.4L762.6 404.9L767.5 404.8L772.5 404.0L777.5 399.0L782.5 398.4L787.4 396.3L792.4 392.7L797.4 391.2L802.3 393.6L807.3 390.1L812.3 389.9L817.3 388.9L822.2 388.8L827.2 388.3L832.2 390.6L837.2 391.6L842.1 389.5L847.1 388.1L852.1 390.5L857.0 389.1L862.0 391.3L867.0 395.1L872.0 397.9L876.9 396.5L881.9 396.1L886.9 400.8L891.8 398.5L896.8 402.9L901.8 408.4L906.8 409.9L911.7 409.7L916.7 412.2L921.7 418.7L926.6 420.6L931.6 423.2L936.6 427.9L941.6 430.0L946.5 431.9L951.5 438.8L956.5 440.7L961.5 444.5M1244.9 755.9L1249.8 759.7L1254.8 763.2L1259.8 767.2L1264.7 770.6L1269.7 774.1L1274.7 777.2L1279.7 780.3L1284.6 783.4L1289.6 786.7L1294.6 789.7L1299.5 792.5L1304.5 795.7L1309.5 799.0L1314.5 801.5L1319.4 804.1L1324.4 806.4L1329.4 809.3L1334.4 811.9L1339.3 814.5L1344.3 817.0L1349.3 819.5L1354.2 821.9L1359.2 823.9L1364.2 826.1L1369.2 828.6L1374.1 830.5L1379.1 833.0L1384.1 835.4L1389.0 837.4L1394.0 839.4L1399.0 841.4L1404.0 842.7M260.4 907.8L265.4 907.8L270.3 907.8L275.3 907.6L280.3 907.6L285.3 907.8L290.2 907.8L295.2 907.8L300.2 907.5L305.1 907.7L310.1 907.7L315.1 907.5L320.1 907.6L325.0 907.6L330.0 907.5L335.0 906.6L340.0 905.8L344.9 904.3L349.9 902.2L354.9 899.9L359.8 897.2L364.8 893.4L369.8 889.5L374.8 885.3L379.7 880.4L384.7 875.5L389.7 870.0L394.6 864.3L399.6 858.2L404.6 852.0L409.6 845.3L414.5 838.7L419.5 832.4L424.5 825.3L429.4 818.3L434.4 811.2L439.4 804.6L444.4 797.5L449.3 790.6L454.3 783.8L459.3 777.6L464.3 771.6L469.2 765.6L474.2 759.1L479.2 752.0L484.1 744.9L489.1 737.1L494.1 730.0L499.1 722.9L504.0 716.5L509.0 709.0L514.0 702.9L518.9 697.1L523.9 691.0L528.9 685.7L533.9 679.2L538.8 673.8L543.8 667.5L548.8 662.5L553.7 657.4L558.7 652.2L563.7 648.4L568.7 644.1L573.6 639.8L578.6 635.5L583.6 630.4L588.6 626.0L593.5 621.8L598.5 615.4L603.5 610.2L608.4 604.5L613.4 600.4L618.4 595.8L623.4 591.3L628.3 586.8L633.3 583.6L638.3 580.4L643.2 575.4L648.2 570.6L653.2 564.6L658.2 558.5L663.1 553.8L668.1 547.5L673.1 540.1L678.0 533.2L683.0 525.7L688.0 515.4L693.0 504.8L697.9 494.1L702.9 483.7L707.9 476.6L712.9 467.0L717.8 457.3L722.8 449.1L727.8 441.1L732.7 436.2L737.7 431.6L742.7 425.8L747.7 419.4L752.6 415.6L757.6 413.0L762.6 408.6L767.5 406.1L772.5 405.1L777.5 403.9L782.5 401.5L787.4 400.0L792.4 396.6L797.4 396.3L802.3 395.5L807.3 395.1L812.3 391.7L817.3 393.7L822.2 391.9L827.2 396.0L832.2 396.6L837.2 397.2L842.1 396.2L847.1 394.5L852.1 397.0L857.0 396.2L862.0 398.4L867.0 397.4L872.0 399.1L876.9 402.1L881.9 405.7L886.9 405.2L891.8 410.5L896.8 413.3L901.8 410.0L906.8 414.5L911.7 416.0L916.7 420.0L921.7 422.5L926.6 426.4L931.6 431.0L936.6 434.3L941.6 436.8L946.5 440.0L951.5 443.6L956.5 447.3L961.5 452.0M1244.9 757.8L1249.8 761.6L1254.8 765.5L1259.8 768.8L1264.7 772.4L1269.7 776.1L1274.7 778.9L1279.7 782.5L1284.6 785.0L1289.6 788.3L1294.6 790.9L1299.5 794.1L1304.5 797.0L1309.5 800.2L1314.5 803.0L1319.4 805.4L1324.4 808.0L1329.4 810.6L1334.4 813.0L1339.3 815.9L1344.3 818.4L1349.3 820.7L1354.2 823.2L1359.2 824.7L1364.2 827.1L1369.2 829.2L1374.1 831.7L1379.1 833.9L1384.1 836.8L1389.0 838.4L1394.0 840.7L1399.0 842.4L1404.0 843.5M260.4 907.9L265.4 908.0L270.3 907.8L275.3 907.8L280.3 907.8L285.3 907.5L290.2 907.5L295.2 907.7L300.2 907.7L305.1 907.4L310.1 907.5L315.1 907.5L320.1 907.4L325.0 907.5L330.0 907.3L335.0 906.7L340.0 905.5L344.9 904.2L349.9 902.3L354.9 899.7L359.8 897.3L364.8 893.8L369.8 889.8L374.8 885.8L379.7 881.0L384.7 875.9L389.7 870.7L394.6 865.1L399.6 859.4L404.6 852.5L409.6 846.4L414.5 839.9L419.5 833.6L424.5 826.7L429.4 819.4L434.4 813.1L439.4 805.8L444.4 799.1L449.3 792.0L454.3 785.4L459.3 779.4L464.3 773.8L469.2 767.9L474.2 760.9L479.2 754.1L484.1 746.5L489.1 739.4L494.1 732.3L499.1 725.4L504.0 718.2L509.0 711.5L514.0 705.1L518.9 699.0L523.9 693.2L528.9 688.4L533.9 682.1L538.8 676.6L543.8 670.6L548.8 665.4L553.7 659.3L558.7 655.7L563.7 650.5L568.7 646.1L573.6 642.5L578.6 638.9L583.6 633.6L588.6 628.1L593.5 623.3L598.5 618.5L603.5 611.8L608.4 606.9L613.4 602.2L618.4 598.7L623.4 593.4L628.3 590.2L633.3 585.6L638.3 581.7L643.2 578.0L648.2 572.6L653.2 566.1L658.2 561.6L663.1 555.9L668.1 549.0L673.1 542.5L678.0 535.6L683.0 527.4L688.0 517.6L693.0 506.5L697.9 496.4L702.9 486.9L707.9 479.2L712.9 469.0L717.8 460.7L722.8 451.5L727.8 443.5L732.7 439.5L737.7 435.5L742.7 430.2L747.7 423.0L752.6 421.2L757.6 415.7L762.6 412.5L767.5 410.0L772.5 409.0L777.5 408.8L782.5 405.8L787.4 402.7L792.4 401.0L797.4 400.4L802.3 400.9L807.3 401.9L812.3 397.6L817.3 398.6L822.2 397.9L827.2 397.7L832.2 399.8L837.2 400.4L842.1 398.0L847.1 398.7L852.1 402.3L857.0 402.0L862.0 403.4L867.0 403.2L872.0 404.7L876.9 407.4L881.9 407.8L886.9 409.0L891.8 412.7L896.8 416.1L901.8 415.8L906.8 421.4L911.7 423.8L916.7 424.6L921.7 428.8L926.6 432.0L931.6 436.1L936.6 439.5L941.6 440.4L946.5 443.9L951.5 450.2L956.5 452.8L961.5 457.4M1244.9 760.1L1249.8 763.6L1254.8 767.5L1259.8 770.9L1264.7 774.3L1269.7 777.9L1274.7 780.7L1279.7 783.9L1284.6 786.9L1289.6 789.7L1294.6 792.9L1299.5 795.5L1304.5 798.6L1309.5 801.4L1314.5 804.3L1319.4 806.7L1324.4 809.1L1329.4 811.5L1334.4 814.3L1339.3 817.2L1344.3 819.5L1349.3 821.8L1354.2 823.9L1359.2 826.4L1364.2 828.5L1369.2 830.5L1374.1 832.8L1379.1 834.8L1384.1 837.1L1389.0 839.3L1394.0 841.2L1399.0 842.8L1404.0 844.2M260.4 907.8L265.4 907.8L270.3 907.4L275.3 907.7L280.3 907.8L285.3 907.5L290.2 907.6L295.2 907.4L300.2 907.7L305.1 907.4L310.1 907.3L315.1 907.4L320.1 907.7L325.0 907.3L330.0 907.0L335.0 906.7L340.0 905.8L344.9 904.6L349.9 902.2L354.9 899.9L359.8 897.5L364.8 894.2L369.8 890.3L374.8 886.3L379.7 881.4L384.7 876.5L389.7 871.4L394.6 866.0L399.6 859.9L404.6 853.7L409.6 847.3L414.5 841.2L419.5 834.8L424.5 828.4L429.4 821.1L434.4 814.6L439.4 807.3L444.4 800.5L449.3 793.7L454.3 787.1L459.3 781.0L464.3 775.3L469.2 769.5L474.2 762.8L479.2 755.9L484.1 748.5L489.1 741.3L494.1 734.6L499.1 727.4L504.0 720.5L509.0 713.7L514.0 707.2L518.9 701.4L523.9 695.5L528.9 690.5L533.9 685.0L538.8 679.0L543.8 672.7L548.8 666.9L553.7 662.2L558.7 657.5L563.7 653.3L568.7 648.9L573.6 644.8L578.6 641.1L583.6 635.6L588.6 631.3L593.5 626.1L598.5 619.8L603.5 614.7L608.4 609.0L613.4 604.1L618.4 599.3L623.4 595.1L628.3 591.9L633.3 587.8L638.3 584.2L643.2 579.2L648.2 574.2L653.2 568.7L658.2 562.6L663.1 556.8L668.1 551.4L673.1 544.5L678.0 537.0L683.0 529.7L688.0 520.4L693.0 510.1L697.9 498.3L702.9 490.6L707.9 483.2L712.9 472.8L717.8 464.5L722.8 452.3L727.8 448.5L732.7 441.7L737.7 435.1L742.7 432.9L747.7 428.7L752.6 424.5L757.6 420.3L762.6 416.1L767.5 413.6L772.5 412.3L777.5 411.0L782.5 409.6L787.4 406.7L792.4 406.0L797.4 406.2L802.3 404.8L807.3 406.7L812.3 406.2L817.3 401.6L822.2 402.3L827.2 401.7L832.2 402.4L837.2 405.2L842.1 403.5L847.1 403.7L852.1 405.2L857.0 407.6L862.0 407.3L867.0 408.5L872.0 411.7L876.9 412.6L881.9 414.4L886.9 417.1L891.8 416.6L896.8 420.5L901.8 421.8L906.8 426.7L911.7 429.3L916.7 429.8L921.7 436.0L926.6 436.0L931.6 442.2L936.6 444.3L941.6 446.4L946.5 449.6L951.5 454.0L956.5 458.0L961.5 461.5M1244.9 762.2L1249.8 766.0L1254.8 769.5L1259.8 773.0L1264.7 776.4L1269.7 779.7L1274.7 782.6L1279.7 785.8L1284.6 788.3L1289.6 791.6L1294.6 794.2L1299.5 797.3L1304.5 800.0L1309.5 803.1L1314.5 805.9L1319.4 808.0L1324.4 810.4L1329.4 812.8L1334.4 815.5L1339.3 817.9L1344.3 820.6L1349.3 822.8L1354.2 824.8L1359.2 827.0L1364.2 828.9L1369.2 831.6L1374.1 833.6L1379.1 836.0L1384.1 837.8L1389.0 839.9L1394.0 842.0L1399.0 843.5L1404.0 845.1M260.4 907.7L265.4 907.7L270.3 907.7L275.3 907.7L280.3 907.9L285.3 907.7L290.2 907.4L295.2 907.7L300.2 907.3L305.1 907.5L310.1 907.3L315.1 907.3L320.1 907.6L325.0 907.3L330.0 907.1L335.0 906.5L340.0 905.7L344.9 904.6L349.9 902.3L354.9 900.0L359.8 897.8L364.8 894.2L369.8 890.5L374.8 886.7L379.7 882.1L384.7 877.1L389.7 872.0L394.6 866.5L399.6 860.6L404.6 854.7L409.6 848.6L414.5 842.3L419.5 835.7L424.5 829.1L429.4 822.5L434.4 815.4L439.4 808.8L444.4 802.0L449.3 795.1L454.3 788.6L459.3 782.8L464.3 776.8L469.2 771.0L474.2 764.4L479.2 757.5L484.1 750.0L489.1 743.3L494.1 736.1L499.1 729.2L504.0 722.4L509.0 715.6L514.0 709.0L518.9 703.6L523.9 697.9L528.9 692.3L533.9 687.0L538.8 680.7L543.8 675.3L548.8 669.7L553.7 664.4L558.7 660.0L563.7 654.9L568.7 651.5L573.6 646.9L578.6 643.0L583.6 638.5L588.6 633.3L593.5 627.8L598.5 622.4L603.5 616.6L608.4 610.9L613.4 606.1L618.4 602.1L623.4 597.9L628.3 593.1L633.3 589.9L638.3 586.2L643.2 581.6L648.2 575.9L653.2 571.2L658.2 564.6L663.1 559.6L668.1 553.8L673.1 545.3L678.0 539.5L683.0 531.9L688.0 522.2L693.0 510.7L697.9 500.8L702.9 491.6L707.9 484.2L712.9 475.7L717.8 465.5L722.8 456.3L727.8 449.7L732.7 444.5L737.7 439.8L742.7 435.1L747.7 430.9L752.6 425.2L757.6 419.6L762.6 420.3L767.5 419.5L772.5 414.9L777.5 414.0L782.5 413.3L787.4 412.3L792.4 410.6L797.4 410.7L802.3 408.5L807.3 408.5L812.3 408.2L817.3 406.9L822.2 409.0L827.2 408.7L832.2 409.8L837.2 408.6L842.1 410.8L847.1 408.4L852.1 410.8L857.0 407.9L862.0 411.3L867.0 414.9L872.0 414.8L876.9 417.3L881.9 416.7L886.9 423.0L891.8 423.9L896.8 425.3L901.8 428.3L906.8 430.9L911.7 435.2L916.7 436.6L921.7 437.6L926.6 442.4L931.6 447.5L936.6 450.0L941.6 452.2L946.5 456.8L951.5 459.7L956.5 463.9L961.5 465.7M1244.9 764.4L1249.8 767.8L1254.8 771.2L1259.8 774.9L1264.7 778.0L1269.7 781.4L1274.7 784.1L1279.7 787.2L1284.6 790.0L1289.6 792.9L1294.6 795.6L1299.5 798.4L1304.5 801.4L1309.5 804.2L1314.5 807.0L1319.4 809.2L1324.4 811.2L1329.4 813.9L1334.4 816.7L1339.3 819.3L1344.3 821.8L1349.3 824.0L1354.2 825.9L1359.2 827.8L1364.2 830.2L1369.2 832.4L1374.1 834.5L1379.1 836.6L1384.1 838.8L1389.0 840.9L1394.0 842.8L1399.0 844.5L1404.0 845.8M260.4 907.6L265.4 907.6L270.3 907.7L275.3 907.6L280.3 907.3L285.3 907.6L290.2 907.2L295.2 907.7L300.2 907.6L305.1 907.5L310.1 907.3L315.1 907.2L320.1 907.3L325.0 907.3L330.0 907.0L335.0 906.6L340.0 905.8L344.9 904.5L349.9 902.4L354.9 900.1L359.8 897.9L364.8 894.5L369.8 890.9L374.8 887.1L379.7 882.7L384.7 877.7L389.7 872.8L394.6 867.5L399.6 861.4L404.6 855.5L409.6 849.5L414.5 843.1L419.5 836.7L424.5 830.2L429.4 823.6L434.4 816.8L439.4 810.2L444.4 803.3L449.3 796.9L454.3 790.4L459.3 784.1L464.3 778.8L469.2 772.7L474.2 766.4L479.2 759.2L484.1 751.9L489.1 744.9L494.1 737.8L499.1 731.1L504.0 724.4L509.0 717.6L514.0 711.2L518.9 705.0L523.9 700.0L528.9 694.1L533.9 689.0L538.8 683.1L543.8 677.4L548.8 671.7L553.7 667.7L558.7 661.9L563.7 657.6L568.7 653.3L573.6 649.9L578.6 644.9L583.6 640.6L588.6 635.0L593.5 630.3L598.5 624.4L603.5 619.1L608.4 613.2L613.4 608.2L618.4 604.2L623.4 599.3L628.3 595.4L633.3 592.2L638.3 587.2L643.2 583.8L648.2 578.0L653.2 572.2L658.2 567.0L663.1 561.4L668.1 554.7L673.1 548.1L678.0 541.7L683.0 534.1L688.0 524.1L693.0 512.8L697.9 502.7L702.9 494.4L707.9 487.0L712.9 478.2L717.8 468.8L722.8 460.8L727.8 452.6L732.7 447.1L737.7 442.5L742.7 440.0L747.7 432.2L752.6 430.1L757.6 426.3L762.6 423.2L767.5 424.0L772.5 421.4L777.5 419.4L782.5 415.9L787.4 415.7L792.4 413.5L797.4 413.3L802.3 413.0L807.3 411.8L812.3 412.8L817.3 413.8L822.2 413.2L827.2 412.7L832.2 410.8L837.2 415.2L842.1 415.6L847.1 414.4L852.1 414.6L857.0 417.1L862.0 416.6L867.0 420.0L872.0 419.1L876.9 421.0L881.9 424.1L886.9 424.3L891.8 428.3L896.8 431.1L901.8 431.3L906.8 436.9L911.7 438.0L916.7 442.3L921.7 445.0L926.6 447.4L931.6 450.7L936.6 452.6L941.6 457.2L946.5 460.5L951.5 466.5L956.5 469.4L961.5 471.2M1244.9 766.3L1249.8 770.0L1254.8 773.6L1259.8 776.7L1264.7 779.9L1269.7 782.9L1274.7 786.0L1279.7 789.0L1284.6 791.6L1289.6 794.3L1294.6 797.2L1299.5 799.9L1304.5 802.7L1309.5 805.4L1314.5 807.8L1319.4 810.4L1324.4 812.9L1329.4 815.1L1334.4 817.3L1339.3 820.3L1344.3 822.5L1349.3 825.2L1354.2 826.9L1359.2 828.7L1364.2 831.1L1369.2 833.0L1374.1 835.4L1379.1 837.4L1384.1 839.4L1389.0 841.8L1394.0 843.3L1399.0 845.4L1404.0 846.5M260.4 907.6L265.4 907.5L270.3 907.8L275.3 907.8L280.3 907.4L285.3 907.8L290.2 907.5L295.2 907.5L300.2 907.4L305.1 907.4L310.1 907.6L315.1 907.4L320.1 907.1L325.0 907.5L330.0 907.2L335.0 906.4L340.0 905.6L344.9 904.4L349.9 902.7L354.9 900.5L359.8 898.1L364.8 894.8L369.8 891.0L374.8 887.4L379.7 882.9L384.7 878.4L389.7 873.1L394.6 868.0L399.6 862.1L404.6 856.1L409.6 850.4L414.5 844.0L419.5 837.7L424.5 831.3L429.4 824.8L434.4 817.8L439.4 811.5L444.4 804.7L449.3 797.9L454.3 791.7L459.3 785.9L464.3 780.1L469.2 774.2L474.2 767.9L479.2 760.9L484.1 753.2L489.1 746.4L494.1 739.5L499.1 732.7L504.0 725.7L509.0 719.6L514.0 713.0L518.9 707.1L523.9 702.1L528.9 696.2L533.9 690.8L538.8 685.1L543.8 679.2L548.8 673.9L553.7 669.2L558.7 664.2L563.7 660.1L568.7 655.4L573.6 651.6L578.6 646.8L583.6 642.3L588.6 637.2L593.5 632.7L598.5 626.8L603.5 621.0L608.4 615.9L613.4 611.0L618.4 606.2L623.4 601.4L628.3 597.1L633.3 593.7L638.3 589.7L643.2 585.1L648.2 579.9L653.2 573.8L658.2 569.3L663.1 562.4L668.1 556.4L673.1 550.2L678.0 542.4L683.0 536.1L688.0 526.5L693.0 515.1L697.9 504.8L702.9 496.7L707.9 487.7L712.9 481.2L717.8 471.1L722.8 461.8L727.8 454.9L732.7 450.7L737.7 447.0L742.7 440.3L747.7 436.7L752.6 431.5L757.6 429.8L762.6 426.7L767.5 427.4L772.5 423.6L777.5 421.8L782.5 419.9L787.4 419.9L792.4 416.0L797.4 418.1L802.3 417.1L807.3 415.9L812.3 415.2L817.3 417.4L822.2 418.6L827.2 416.4L832.2 418.3L837.2 420.5L842.1 418.1L847.1 419.0L852.1 418.4L857.0 420.9L862.0 422.3L867.0 423.3L872.0 424.5L876.9 425.1L881.9 427.3L886.9 429.8L891.8 434.0L896.8 434.8L901.8 436.9L906.8 441.5L911.7 444.3L916.7 445.8L921.7 449.0L926.6 453.8L931.6 456.7L936.6 458.6L941.6 463.2L946.5 466.3L951.5 470.8L956.5 472.4L961.5 478.4M1244.9 768.3L1249.8 771.7L1254.8 775.0L1259.8 778.4L1264.7 781.8L1269.7 784.4L1274.7 787.1L1279.7 790.6L1284.6 793.1L1289.6 796.0L1294.6 798.5L1299.5 801.4L1304.5 803.9L1309.5 806.8L1314.5 809.6L1319.4 811.8L1324.4 813.7L1329.4 816.3L1334.4 818.6L1339.3 821.1L1344.3 823.8L1349.3 826.1L1354.2 827.9L1359.2 829.6L1364.2 832.0L1369.2 834.1L1374.1 836.0L1379.1 837.9L1384.1 840.5L1389.0 842.5L1394.0 844.3L1399.0 845.6L1404.0 846.9M260.4 907.8L265.4 907.8L270.3 907.7L275.3 907.6L280.3 907.6L285.3 907.5L290.2 907.5L295.2 907.3L300.2 907.5L305.1 907.3L310.1 907.5L315.1 907.4L320.1 907.2L325.0 907.5L330.0 906.9L335.0 906.5L340.0 905.8L344.9 904.7L349.9 902.4L354.9 900.7L359.8 898.4L364.8 895.2L369.8 891.1L374.8 887.5L379.7 883.3L384.7 878.5L389.7 873.9L394.6 868.3L399.6 862.9L404.6 857.0L409.6 850.8L414.5 844.7L419.5 838.6L424.5 832.3L429.4 825.8L434.4 819.0L439.4 812.5L444.4 805.5L449.3 798.6L454.3 792.7L459.3 787.0L464.3 781.3L469.2 775.3L474.2 769.0L479.2 762.3L484.1 754.8L489.1 747.7L494.1 740.9L499.1 734.7L504.0 727.6L509.0 721.2L514.0 714.9L518.9 709.1L523.9 703.2L528.9 698.4L533.9 692.8L538.8 687.0L543.8 681.5L548.8 675.7L553.7 670.9L558.7 666.0L563.7 662.0L568.7 657.4L573.6 653.7L578.6 648.8L583.6 644.3L588.6 639.3L593.5 634.1L598.5 628.6L603.5 622.6L608.4 617.1L613.4 611.6L618.4 608.2L623.4 603.2L628.3 599.3L633.3 595.2L638.3 592.0L643.2 586.8L648.2 582.0L653.2 576.6L658.2 571.1L663.1 565.0L668.1 558.6L673.1 551.2L678.0 545.5L683.0 538.1L688.0 528.4L693.0 517.7L697.9 507.4L702.9 498.8L707.9 491.8L712.9 483.5L717.8 472.8L722.8 465.5L727.8 458.4L732.7 453.8L737.7 448.8L742.7 445.3L747.7 441.2L752.6 437.1L757.6 431.1L762.6 430.8L767.5 428.6L772.5 426.1L777.5 426.6L782.5 422.8L787.4 423.8L792.4 423.6L797.4 420.6L802.3 421.9L807.3 421.0L812.3 421.2L817.3 418.7L822.2 421.3L827.2 421.4L832.2 423.0L837.2 422.8L842.1 424.8L847.1 424.2L852.1 425.4L857.0 427.4L862.0 427.3L867.0 429.9L872.0 430.5L876.9 432.6L881.9 433.1L886.9 436.9L891.8 439.6L896.8 440.2L901.8 443.8L906.8 446.1L911.7 447.2L916.7 451.9L921.7 456.2L926.6 457.3L931.6 459.0L936.6 464.6L941.6 467.0L946.5 473.2L951.5 474.4L956.5 478.0L961.5 481.6M1244.9 770.0L1249.8 773.2L1254.8 777.0L1259.8 780.0L1264.7 783.2L1269.7 786.1L1274.7 788.9L1279.7 791.6L1284.6 794.0L1289.6 797.2L1294.6 799.8L1299.5 802.3L1304.5 805.2L1309.5 808.3L1314.5 810.5L1319.4 812.6L1324.4 815.1L1329.4 817.0L1334.4 819.7L1339.3 822.2L1344.3 824.7L1349.3 826.9L1354.2 828.8L1359.2 830.5L1364.2 832.7L1369.2 834.8L1374.1 836.8L1379.1 839.0L1384.1 841.0L1389.0 843.0L1394.0 844.9L1399.0 846.4L1404.0 847.8M260.4 907.6L265.4 907.5L270.3 907.5L275.3 907.5L280.3 907.5L285.3 907.5L290.2 907.4L295.2 907.3L300.2 907.6L305.1 907.5L310.1 907.4L315.1 907.4L320.1 907.3L325.0 907.2L330.0 907.1L335.0 906.8L340.0 905.8L344.9 904.7L349.9 902.7L354.9 900.8L359.8 898.6L364.8 895.3L369.8 891.8L374.8 888.0L379.7 883.7L384.7 879.2L389.7 874.2L394.6 869.0L399.6 863.2L404.6 857.9L409.6 851.7L414.5 845.6L419.5 839.6L424.5 833.1L429.4 826.6L434.4 819.9L439.4 813.4L444.4 806.7L449.3 800.2L454.3 793.8L459.3 787.9L464.3 782.4L469.2 776.7L474.2 770.0L479.2 763.3L484.1 756.2L489.1 749.2L494.1 742.1L499.1 735.8L504.0 728.8L509.0 722.5L514.0 716.1L518.9 710.3L523.9 704.9L528.9 699.6L533.9 694.8L538.8 688.6L543.8 682.9L548.8 677.9L553.7 672.9L558.7 668.3L563.7 663.3L568.7 659.2L573.6 656.5L578.6 651.1L583.6 646.2L588.6 641.3L593.5 636.4L598.5 630.0L603.5 624.6L608.4 619.0L613.4 614.3L618.4 609.6L623.4 605.0L628.3 600.8L633.3 596.4L638.3 593.7L643.2 588.3L648.2 583.3L653.2 578.4L658.2 571.9L663.1 566.4L668.1 559.9L673.1 553.7L678.0 546.7L683.0 539.0L688.0 530.5L693.0 519.0L697.9 508.6L702.9 501.0L707.9 493.6L712.9 484.1L717.8 476.4L722.8 467.8L727.8 462.4L732.7 455.1L737.7 451.9L742.7 445.8L747.7 442.8L752.6 439.4L757.6 436.0L762.6 433.1L767.5 431.8L772.5 430.1L777.5 428.9L782.5 428.2L787.4 427.0L792.4 426.1L797.4 426.0L802.3 426.0L807.3 422.4L812.3 423.8L817.3 424.3L822.2 424.0L827.2 426.7L832.2 427.2L837.2 427.0L842.1 427.9L847.1 429.8L852.1 428.5L857.0 429.8L862.0 432.8L867.0 433.7L872.0 436.5L876.9 437.0L881.9 439.4L886.9 439.9L891.8 441.6L896.8 444.9L901.8 444.3L906.8 450.7L911.7 454.3L916.7 456.3L921.7 459.0L926.6 463.7L931.6 465.7L936.6 470.1L941.6 474.7L946.5 476.4L951.5 479.9L956.5 483.0L961.5 487.0M1244.9 771.6L1249.8 775.0L1254.8 778.3L1259.8 781.4L1264.7 784.4L1269.7 787.5L1274.7 790.4L1279.7 793.1L1284.6 796.0L1289.6 798.3L1294.6 800.7L1299.5 803.8L1304.5 806.5L1309.5 808.8L1314.5 811.3L1319.4 813.7L1324.4 815.9L1329.4 817.9L1334.4 820.6L1339.3 823.1L1344.3 825.4L1349.3 827.5L1354.2 829.5L1359.2 831.4L1364.2 833.4L1369.2 835.2L1374.1 837.8L1379.1 839.5L1384.1 841.7L1389.0 843.6L1394.0 845.6L1399.0 847.0L1404.0 848.4M260.4 907.6L265.4 907.7L270.3 907.5L275.3 907.5L280.3 907.5L285.3 907.7L290.2 907.3L295.2 907.5L300.2 907.3L305.1 907.4L310.1 907.4L315.1 907.3L320.1 907.3L325.0 907.2L330.0 906.9L335.0 906.4L340.0 905.4L344.9 904.5L349.9 902.7L354.9 900.7L359.8 898.6L364.8 895.4L369.8 891.9L374.8 888.2L379.7 883.6L384.7 879.4L389.7 874.6L394.6 869.4L399.6 863.7L404.6 858.2L409.6 852.4L414.5 846.4L419.5 840.2L424.5 834.0L429.4 827.5L434.4 821.1L439.4 814.4L444.4 807.7L449.3 801.1L454.3 794.8L459.3 789.1L464.3 783.4L469.2 777.9L474.2 771.1L479.2 764.1L484.1 757.2L489.1 750.2L494.1 743.5L499.1 736.5L504.0 730.5L509.0 723.8L514.0 717.5L518.9 711.9L523.9 706.6L528.9 701.1L533.9 696.4L538.8 690.1L543.8 684.8L548.8 679.8L553.7 674.3L558.7 669.8L563.7 665.2L568.7 661.6L573.6 657.1L578.6 652.5L583.6 648.4L588.6 643.3L593.5 637.5L598.5 632.4L603.5 626.3L608.4 621.5L613.4 616.3L618.4 611.0L623.4 606.7L628.3 602.5L633.3 598.9L638.3 594.9L643.2 590.7L648.2 585.1L653.2 578.8L658.2 573.3L663.1 568.2L668.1 562.0L673.1 554.9L678.0 548.2L683.0 540.9L688.0 531.5L693.0 520.1L697.9 511.7L702.9 502.8L707.9 495.5L712.9 485.4L717.8 478.3L722.8 470.5L727.8 461.5L732.7 459.4L737.7 454.3L742.7 449.3L747.7 444.7L752.6 443.3L757.6 438.9L762.6 436.9L767.5 434.8L772.5 433.2L777.5 433.6L782.5 430.3L787.4 430.9L792.4 427.2L797.4 427.6L802.3 426.8L807.3 429.6L812.3 426.3L817.3 427.1L822.2 429.5L827.2 429.8L832.2 433.0L837.2 433.5L842.1 432.7L847.1 433.3L852.1 431.1L857.0 433.4L862.0 435.6L867.0 437.3L872.0 437.5L876.9 439.9L881.9 441.9L886.9 446.2L891.8 447.6L896.8 448.9L901.8 451.5L906.8 455.0L911.7 456.8L916.7 460.3L921.7 461.8L926.6 467.6L931.6 471.2L936.6 473.7L941.6 477.1L946.5 480.3L951.5 485.2L956.5 486.9L961.5 489.6M1244.9 772.6L1249.8 776.6L1254.8 779.8L1259.8 782.6L1264.7 786.2L1269.7 788.9L1274.7 791.6L1279.7 794.3L1284.6 796.8L1289.6 799.3L1294.6 802.1L1299.5 804.7L1304.5 807.7L1309.5 810.3L1314.5 812.4L1319.4 814.6L1324.4 816.8L1329.4 819.1L1334.4 821.4L1339.3 823.9L1344.3 826.7L1349.3 828.6L1354.2 830.1L1359.2 831.9L1364.2 834.0L1369.2 836.2L1374.1 838.3L1379.1 840.3L1384.1 842.2L1389.0 844.4L1394.0 846.2L1399.0 847.7L1404.0 848.9M260.4 907.7L265.4 907.6L270.3 907.4L275.3 907.5L280.3 907.3L285.3 907.6L290.2 907.5L295.2 907.3L300.2 907.4L305.1 907.5L310.1 907.0L315.1 907.2L320.1 907.4L325.0 907.0L330.0 907.0L335.0 906.2L340.0 905.6L344.9 904.3L349.9 902.7L354.9 900.8L359.8 898.6L364.8 895.6L369.8 892.0L374.8 888.5L379.7 884.2L384.7 879.7L389.7 874.8L394.6 869.8L399.6 864.7L404.6 858.9L409.6 852.9L414.5 846.9L419.5 840.9L424.5 834.5L429.4 828.3L434.4 821.5L439.4 815.0L444.4 808.7L449.3 801.6L454.3 795.7L459.3 789.6L464.3 784.3L469.2 778.6L474.2 772.0L479.2 765.2L484.1 757.9L489.1 751.2L494.1 744.4L499.1 737.9L504.0 731.2L509.0 725.1L514.0 718.4L518.9 713.2L523.9 707.8L528.9 702.6L533.9 697.5L538.8 691.7L543.8 685.5L548.8 681.0L553.7 675.3L558.7 671.5L563.7 666.9L568.7 662.5L573.6 658.9L578.6 654.4L583.6 650.2L588.6 644.5L593.5 640.0L598.5 634.1L603.5 627.6L608.4 621.9L613.4 617.8L618.4 612.7L623.4 608.4L628.3 604.2L633.3 600.0L638.3 596.3L643.2 591.6L648.2 586.0L653.2 580.7L658.2 575.7L663.1 569.7L668.1 562.9L673.1 556.5L678.0 550.0L683.0 543.2L688.0 533.3L693.0 522.4L697.9 512.8L702.9 505.7L707.9 498.9L712.9 488.7L717.8 478.8L722.8 472.4L727.8 465.4L732.7 460.7L737.7 457.5L742.7 452.6L747.7 447.6L752.6 443.3L757.6 441.5L762.6 438.2L767.5 438.5L772.5 435.9L777.5 435.6L782.5 433.1L787.4 432.9L792.4 431.9L797.4 432.7L802.3 433.4L807.3 431.6L812.3 431.0L817.3 434.4L822.2 433.0L827.2 434.1L832.2 435.1L837.2 437.1L842.1 437.3L847.1 437.4L852.1 438.3L857.0 437.6L862.0 439.4L867.0 441.6L872.0 443.6L876.9 445.3L881.9 447.5L886.9 449.2L891.8 450.8L896.8 451.6L901.8 457.0L906.8 459.6L911.7 460.8L916.7 465.4L921.7 468.3L926.6 471.1L931.6 472.2L936.6 476.1L941.6 480.0L946.5 485.6L951.5 486.3L956.5 490.4L961.5 493.8M1244.9 774.3L1249.8 778.0L1254.8 780.9L1259.8 784.3L1264.7 787.2L1269.7 790.0L1274.7 792.9L1279.7 795.9L1284.6 798.0L1289.6 800.7L1294.6 803.2L1299.5 805.7L1304.5 808.4L1309.5 811.2L1314.5 813.4L1319.4 815.6L1324.4 817.6L1329.4 820.2L1334.4 822.0L1339.3 824.9L1344.3 827.3L1349.3 829.2L1354.2 830.8L1359.2 832.7L1364.2 834.8L1369.2 836.9L1374.1 838.7L1379.1 840.8L1384.1 843.1L1389.0 845.1L1394.0 846.6L1399.0 848.2L1404.0 849.4M260.4 907.9L265.4 907.6L270.3 907.5L275.3 907.6L280.3 907.8L285.3 907.6L290.2 907.2L295.2 907.4L300.2 907.3L305.1 907.3L310.1 907.1L315.1 907.2L320.1 907.1L325.0 907.2L330.0 907.0L335.0 906.2L340.0 905.4L344.9 904.5L349.9 903.0L354.9 901.0L359.8 898.7L364.8 895.2L369.8 892.1L374.8 888.4L379.7 884.3L384.7 879.7L389.7 875.2L394.6 870.0L399.6 865.0L404.6 859.1L409.6 853.3L414.5 847.3L419.5 841.3L424.5 835.1L429.4 828.6L434.4 822.1L439.4 815.8L444.4 809.2L449.3 802.6L454.3 796.5L459.3 790.7L464.3 785.0L469.2 779.1L474.2 772.7L479.2 765.9L484.1 759.0L489.1 752.3L494.1 745.4L499.1 738.8L504.0 732.6L509.0 726.3L514.0 719.7L518.9 714.2L523.9 709.3L528.9 703.9L533.9 698.5L538.8 692.4L543.8 687.7L548.8 682.4L553.7 677.5L558.7 672.7L563.7 668.1L568.7 664.4L573.6 660.3L578.6 656.3L583.6 650.7L588.6 646.6L593.5 640.9L598.5 635.5L603.5 628.9L608.4 623.7L613.4 619.2L618.4 614.2L623.4 609.3L628.3 605.6L633.3 602.0L638.3 597.3L643.2 592.8L648.2 588.0L653.2 581.9L658.2 576.6L663.1 570.0L668.1 563.6L673.1 557.5L678.0 551.9L683.0 543.6L688.0 534.7L693.0 524.3L697.9 514.1L702.9 507.5L707.9 499.3L712.9 491.3L717.8 481.1L722.8 472.7L727.8 465.6L732.7 462.8L737.7 458.7L742.7 455.7L747.7 452.7L752.6 447.6L757.6 444.2L762.6 442.7L767.5 442.7L772.5 439.4L777.5 439.8L782.5 437.6L787.4 436.2L792.4 436.6L797.4 434.6L802.3 434.2L807.3 436.1L812.3 435.5L817.3 435.5L822.2 436.1L827.2 437.8L832.2 437.8L837.2 440.1L842.1 440.5L847.1 442.4L852.1 442.9L857.0 443.7L862.0 444.0L867.0 446.0L872.0 446.8L876.9 452.8L881.9 451.0L886.9 453.9L891.8 457.0L896.8 455.9L901.8 459.1L906.8 462.4L911.7 464.6L916.7 467.3L921.7 471.2L926.6 476.4L931.6 478.9L936.6 481.3L941.6 484.5L946.5 485.9L951.5 491.6L956.5 494.8L961.5 497.5M1244.9 775.9L1249.8 779.4L1254.8 782.4L1259.8 785.4L1264.7 788.7L1269.7 791.2L1274.7 794.1L1279.7 796.5L1284.6 799.0L1289.6 801.5L1294.6 804.2L1299.5 806.6L1304.5 809.2L1309.5 811.8L1314.5 814.1L1319.4 816.4L1324.4 818.4L1329.4 820.5L1334.4 823.0L1339.3 825.5L1344.3 828.1L1349.3 829.8L1354.2 831.6L1359.2 833.4L1364.2 835.5L1369.2 837.4L1374.1 839.5L1379.1 841.5L1384.1 843.6L1389.0 845.6L1394.0 847.3L1399.0 848.5L1404.0 849.8M260.4 907.3L265.4 907.7L270.3 907.7L275.3 907.7L280.3 907.5L285.3 907.6L290.2 907.4L295.2 907.3L300.2 907.1L305.1 907.2L310.1 907.2L315.1 907.3L320.1 907.4L325.0 907.1L330.0 907.0L335.0 906.4L340.0 905.5L344.9 904.4L349.9 902.9L354.9 900.8L359.8 898.7L364.8 895.7L369.8 892.3L374.8 888.6L379.7 884.6L384.7 880.0L389.7 875.6L394.6 870.2L399.6 865.0L404.6 859.4L409.6 853.6L414.5 847.5L419.5 841.8L424.5 835.5L429.4 829.3L434.4 822.7L439.4 816.1L444.4 809.6L449.3 803.3L454.3 797.0L459.3 791.1L464.3 785.8L469.2 780.1L474.2 773.5L479.2 766.6L484.1 759.5L489.1 752.8L494.1 746.1L499.1 739.4L504.0 733.5L509.0 726.7L514.0 720.7L518.9 714.7L523.9 710.0L528.9 704.7L533.9 700.3L538.8 693.7L543.8 688.3L548.8 683.7L553.7 679.0L558.7 673.5L563.7 669.8L568.7 666.0L573.6 661.3L578.6 657.5L583.6 652.3L588.6 647.1L593.5 642.1L598.5 636.3L603.5 630.1L608.4 625.6L613.4 619.9L618.4 615.3L623.4 611.4L628.3 607.0L633.3 603.6L638.3 599.1L643.2 594.8L648.2 589.3L653.2 583.6L658.2 577.6L663.1 571.7L668.1 566.3L673.1 558.9L678.0 552.4L683.0 545.3L688.0 536.4L693.0 525.9L697.9 516.7L702.9 507.7L707.9 501.1L712.9 492.8L717.8 484.0L722.8 476.0L727.8 468.3L732.7 465.3L737.7 461.3L742.7 456.3L747.7 453.8L752.6 451.8L757.6 446.8L762.6 445.6L767.5 443.8L772.5 442.4L777.5 441.2L782.5 440.5L787.4 441.1L792.4 439.8L797.4 438.0L802.3 439.8L807.3 438.6L812.3 438.2L817.3 439.8L822.2 438.8L827.2 439.0L832.2 443.4L837.2 440.8L842.1 444.4L847.1 442.6L852.1 445.2L857.0 446.3L862.0 447.5L867.0 447.1L872.0 451.2L876.9 453.1L881.9 454.0L886.9 457.0L891.8 460.3L896.8 460.5L901.8 464.0L906.8 465.2L911.7 469.9L916.7 473.1L921.7 478.2L926.6 479.6L931.6 482.2L936.6 486.3L941.6 486.9L946.5 492.2L951.5 493.7L956.5 497.1L961.5 502.9M1244.9 776.9L1249.8 780.5L1254.8 783.4L1259.8 786.4L1264.7 789.6L1269.7 792.3L1274.7 794.9L1279.7 797.4L1284.6 799.8L1289.6 802.5L1294.6 805.1L1299.5 807.4L1304.5 810.0L1309.5 812.4L1314.5 815.0L1319.4 817.3L1324.4 818.9L1329.4 821.3L1334.4 823.8L1339.3 826.1L1344.3 828.5L1349.3 830.3L1354.2 832.1L1359.2 834.0L1364.2 836.1L1369.2 838.0L1374.1 840.1L1379.1 842.0L1384.1 843.9L1389.0 846.2L1394.0 847.8L1399.0 849.1L1404.0 850.6M260.4 907.7L265.4 907.6L270.3 907.8L275.3 907.2L280.3 907.3L285.3 907.5L290.2 907.4L295.2 907.2L300.2 907.5L305.1 907.3L310.1 907.1L315.1 907.1L320.1 907.3L325.0 907.4L330.0 906.7L335.0 906.4L340.0 905.6L344.9 904.4L349.9 903.0L354.9 900.8L359.8 898.7L364.8 896.0L369.8 892.4L374.8 888.9L379.7 884.8L384.7 880.3L389.7 875.8L394.6 870.5L399.6 865.1L404.6 859.8L409.6 853.9L414.5 848.0L419.5 842.2L424.5 836.1L429.4 829.4L434.4 822.9L439.4 816.6L444.4 810.1L449.3 803.5L454.3 797.4L459.3 791.8L464.3 786.2L469.2 781.0L474.2 774.2L479.2 767.2L484.1 760.3L489.1 753.9L494.1 747.1L499.1 740.2L504.0 734.0L509.0 727.6L514.0 721.2L518.9 715.9L523.9 710.8L528.9 705.7L533.9 700.3L538.8 695.1L543.8 689.1L548.8 684.6L553.7 679.8L558.7 675.3L563.7 670.2L568.7 667.3L573.6 662.3L578.6 658.2L583.6 653.8L588.6 648.4L593.5 643.2L598.5 636.9L603.5 631.6L608.4 626.1L613.4 621.4L618.4 616.6L623.4 612.3L628.3 608.3L633.3 604.1L638.3 600.1L643.2 596.5L648.2 590.1L653.2 585.1L658.2 578.8L663.1 573.4L668.1 566.5L673.1 560.6L678.0 554.0L683.0 546.6L688.0 537.6L693.0 526.7L697.9 517.6L702.9 509.8L707.9 503.0L712.9 494.5L717.8 485.1L722.8 477.5L727.8 471.6L732.7 466.5L737.7 464.4L742.7 460.1L747.7 456.9L752.6 452.2L757.6 449.4L762.6 448.6L767.5 445.4L772.5 446.3L777.5 445.1L782.5 443.4L787.4 442.8L792.4 440.9L797.4 442.1L802.3 440.6L807.3 440.6L812.3 443.8L817.3 441.9L822.2 440.9L827.2 445.4L832.2 444.6L837.2 442.5L842.1 447.3L847.1 449.1L852.1 449.3L857.0 452.1L862.0 451.6L867.0 454.0L872.0 453.8L876.9 457.0L881.9 460.4L886.9 461.2L891.8 462.9L896.8 462.5L901.8 466.8L906.8 468.5L911.7 473.7L916.7 474.9L921.7 479.2L926.6 480.8L931.6 486.9L936.6 486.8L941.6 491.3L946.5 496.8L951.5 497.5L956.5 499.9L961.5 505.4M1244.9 777.5L1249.8 781.2L1254.8 784.1L1259.8 787.2L1264.7 790.5L1269.7 793.2L1274.7 795.5L1279.7 798.0L1284.6 800.6L1289.6 802.9L1294.6 805.7L1299.5 808.1L1304.5 811.0L1309.5 813.1L1314.5 815.7L1319.4 817.5L1324.4 819.8L1329.4 821.7L1334.4 824.3L1339.3 826.7L1344.3 828.9L1349.3 830.9L1354.2 832.8L1359.2 834.6L1364.2 836.6L1369.2 838.5L1374.1 840.1L1379.1 842.4L1384.1 844.2L1389.0 846.3L1394.0 848.2L1399.0 849.4L1404.0 850.6M260.4 907.6L265.4 907.5L270.3 907.7L275.3 907.5L280.3 907.5L285.3 907.6L290.2 907.3L295.2 907.4L300.2 907.2L305.1 907.3L310.1 907.4L315.1 907.4L320.1 907.2L325.0 907.0L330.0 906.8L335.0 906.2L340.0 905.6L344.9 904.8L349.9 902.7L354.9 900.8L359.8 899.0L364.8 895.7L369.8 892.5L374.8 888.7L379.7 884.9L384.7 880.4L389.7 875.8L394.6 870.9L399.6 865.4L404.6 859.9L409.6 854.4L414.5 848.4L419.5 842.2L424.5 836.1L429.4 829.7L434.4 823.3L439.4 816.8L444.4 810.2L449.3 804.0L454.3 797.6L459.3 792.0L464.3 786.5L469.2 780.9L474.2 774.1L479.2 767.6L484.1 760.5L489.1 753.8L494.1 747.3L499.1 741.0L504.0 734.5L509.0 728.1L514.0 721.8L518.9 716.0L523.9 711.4L528.9 706.2L533.9 701.0L538.8 696.2L543.8 689.7L548.8 685.2L553.7 680.9L558.7 676.3L563.7 672.1L568.7 667.3L573.6 663.4L578.6 659.5L583.6 654.4L588.6 650.0L593.5 644.4L598.5 638.6L603.5 632.8L608.4 626.9L613.4 622.2L618.4 617.4L623.4 613.2L628.3 609.0L633.3 605.3L638.3 600.8L643.2 596.3L648.2 591.6L653.2 585.7L658.2 579.4L663.1 573.7L668.1 567.3L673.1 562.2L678.0 554.2L683.0 548.5L688.0 538.2L693.0 528.4L697.9 518.7L702.9 511.1L707.9 504.5L712.9 496.6L717.8 487.4L722.8 478.8L727.8 474.9L732.7 470.0L737.7 465.4L742.7 461.5L747.7 458.6L752.6 455.1L757.6 453.1L762.6 449.2L767.5 449.2L772.5 447.7L777.5 448.8L782.5 448.3L787.4 445.3L792.4 445.3L797.4 446.1L802.3 444.4L807.3 443.9L812.3 446.4L817.3 446.2L822.2 446.1L827.2 449.0L832.2 448.8L837.2 447.7L842.1 450.9L847.1 451.2L852.1 454.3L857.0 453.4L862.0 454.7L867.0 457.0L872.0 458.5L876.9 458.3L881.9 461.9L886.9 463.3L891.8 467.3L896.8 470.5L901.8 468.9L906.8 471.8L911.7 474.7L916.7 477.8L921.7 480.8L926.6 484.6L931.6 488.8L936.6 489.3L941.6 492.1L946.5 494.8L951.5 500.9L956.5 504.5L961.5 505.7M1244.9 778.5L1249.8 782.0L1254.8 785.0L1259.8 788.1L1264.7 791.1L1269.7 793.7L1274.7 796.3L1279.7 798.5L1284.6 801.4L1289.6 803.6L1294.6 806.3L1299.5 808.7L1304.5 811.3L1309.5 813.6L1314.5 815.9L1319.4 817.8L1324.4 820.0L1329.4 822.1L1334.4 824.7L1339.3 827.3L1344.3 829.2L1349.3 831.2L1354.2 833.1L1359.2 835.0L1364.2 836.8L1369.2 838.8L1374.1 840.8L1379.1 842.8L1384.1 845.0L1389.0 846.8L1394.0 848.2L1399.0 849.8L1404.0 851.0"/></g><path d="M260.4 909.4L265.4 909.5L270.3 909.5L275.3 909.4L280.3 909.7L285.3 909.5L290.2 909.4L295.2 909.5L300.2 909.7L305.1 910.1L310.1 909.8L315.1 910.1L320.1 909.9L325.0 909.4L330.0 909.8L335.0 908.9L340.0 906.4L344.9 901.9L349.9 897.4L354.9 890.9L359.8 885.3L364.8 878.8L369.8 870.6L374.8 861.3L379.7 852.7L384.7 842.8L389.7 832.4L394.6 821.9L399.6 810.2L404.6 798.6L409.6 788.1L414.5 775.5L419.5 765.1L424.5 754.1L429.4 742.1L434.4 731.6L439.4 720.3L444.4 710.4L449.3 699.4L454.3 689.8L459.3 679.8L464.3 669.9L469.2 661.1L474.2 653.0L479.2 644.4L484.1 635.1L489.1 628.2L494.1 619.6L499.1 612.4L504.0 603.6L509.0 598.2L514.0 592.9L518.9 586.0L523.9 578.9L528.9 574.8L533.9 569.7L538.8 564.8L543.8 559.3L548.8 555.0L553.7 550.1L558.7 546.8L563.7 542.9L568.7 540.6L573.6 538.4L578.6 534.4L583.6 532.3L588.6 528.2L593.5 525.6L598.5 522.8L603.5 520.9L608.4 516.4L613.4 514.9L618.4 509.9L623.4 508.3L628.3 507.0L633.3 504.8L638.3 500.9L643.2 497.1L648.2 494.8L653.2 489.3L658.2 486.8L663.1 481.8L668.1 475.6L673.1 468.8L678.0 459.7L683.0 449.3L688.0 435.7L693.0 424.0L697.9 410.2L702.9 397.6L707.9 386.7L712.9 371.8L717.8 361.5L722.8 350.2L727.8 339.2L732.7 332.1L737.7 321.2L742.7 314.7L747.7 307.5L752.6 298.0L757.6 291.5L762.6 286.2L767.5 282.7L772.5 277.9L777.5 272.6L782.5 267.3L787.4 260.4L792.4 258.5L797.4 254.4L802.3 252.4L807.3 249.1L812.3 246.4L817.3 241.7L822.2 239.0L827.2 235.3L832.2 234.3L837.2 231.3L842.1 231.7L847.1 228.3L852.1 227.9L857.0 226.3L862.0 225.6L867.0 225.6L872.0 223.9L876.9 224.5L881.9 224.4L886.9 228.2L891.8 228.0L896.8 231.3L901.8 234.1L906.8 231.8L911.7 235.3L916.7 238.3L921.7 242.0L926.6 243.7L931.6 247.9L936.6 250.6L941.6 255.9L946.5 258.7L951.5 265.1L956.5 266.7L961.5 273.1L966.4 281.8L971.4 285.6L976.4 289.7L981.3 297.5L986.3 302.4L991.3 309.2L996.3 314.8L1001.2 322.6L1006.2 329.5" stroke="#ff0000" stroke-width="4.6"/><path d="M996.3 315.4L1001.2 323.2L1006.2 330.1L1011.2 335.2L1016.1 344.1L1021.1 350.4L1026.1 358.6L1031.1 365.6L1036.0 371.0L1041.0 378.2L1046.0 386.2L1050.9 394.7L1055.9 402.3L1060.9 411.1L1065.9 420.8L1070.8 430.4L1075.8 440.8L1080.8 450.0L1085.8 459.1L1090.7 468.4L1095.7 480.1L1100.7 488.4L1105.6 497.3L1110.6 506.3L1115.6 514.3L1120.6 524.2L1125.5 531.3L1130.5 540.9L1135.5 548.1L1140.4 557.7L1145.4 564.5L1150.4 572.1L1155.4 580.4L1160.3 588.7L1165.3 595.2L1170.3 603.0L1175.2 610.1L1180.2 618.6L1185.2 623.4L1190.2 628.5L1195.1 636.8L1200.1 644.4L1205.1 648.5L1210.1 657.4L1215.0 661.1L1220.0 667.7L1225.0 672.3L1229.9 678.0L1234.9 682.8L1239.9 688.2L1244.9 692.7L1249.8 699.9L1254.8 703.7L1259.8 709.9L1264.7 715.2L1269.7 719.8L1274.7 725.3L1279.7 730.3L1284.6 734.8L1289.6 739.3L1294.6 743.4L1299.5 747.1L1304.5 751.7L1309.5 756.7L1314.5 761.7L1319.4 766.0L1324.4 769.6L1329.4 772.5L1334.4 776.3L1339.3 779.4L1344.3 783.4L1349.3 786.3L1354.2 789.9L1359.2 792.9L1364.2 796.1L1369.2 800.1L1374.1 801.5L1379.1 805.1L1384.1 807.9L1389.0 811.6L1394.0 814.9L1399.0 816.6L1404.0 817.7" stroke="#ff0000" stroke-width="3.4"/><g stroke="#000" stroke-width="1.8"><path d="M717.8 359.7L722.8 347.1L727.8 335.1L732.7 328.2L737.7 319.1L742.7 313.5L747.7 303.9L752.6 297.0L757.6 290.0L762.6 281.9L767.5 279.6L772.5 273.0L777.5 270.7L782.5 266.0L787.4 259.4L792.4 253.6L797.4 252.1L802.3 248.6L807.3 245.8L812.3 241.2L817.3 236.8L822.2 235.2L827.2 232.3L832.2 233.3L837.2 228.8L842.1 227.3L847.1 226.5L852.1 223.8L857.0 223.7L862.0 223.0L867.0 221.7L872.0 221.3L876.9 222.9L881.9 223.0L886.9 222.6L891.8 225.3L896.8 228.4L901.8 228.6L906.8 231.3L911.7 233.4L916.7 236.3L921.7 238.0L926.6 241.2L931.6 243.8L936.6 248.9L941.6 251.6L946.5 259.0L951.5 261.6L956.5 266.4L961.5 273.0L966.4 277.4L971.4 282.8L976.4 287.7L981.3 292.1L986.3 297.7L991.3 304.8L996.3 313.7L1001.2 318.8L1006.2 326.2L1011.2 333.3L1016.1 341.8L1021.1 350.4L1026.1 354.3L1031.1 363.2L1036.0 369.9L1041.0 376.7L1046.0 385.2L1050.9 391.6L1055.9 402.6L1060.9 410.7L1065.9 418.6L1070.8 431.5L1075.8 440.7L1080.8 451.2L1085.8 458.4L1090.7 469.9L1095.7 479.5L1100.7 490.2L1105.6 499.9"/></g><path d="M260.4 907.7L265.4 907.7L270.3 907.2L275.3 907.5L280.3 907.5L285.3 907.0L290.2 907.5L295.2 907.5L300.2 907.4L305.1 907.1L310.1 907.1L315.1 907.1L320.1 907.3L325.0 906.9L330.0 907.2L335.0 906.4L340.0 905.1L344.9 905.1L349.9 903.1L354.9 900.9L359.8 898.9L364.8 895.3L369.8 892.5L374.8 888.0L379.7 884.5L384.7 880.9L389.7 876.4L394.6 870.7L399.6 865.0L404.6 860.3L409.6 854.2L414.5 848.5L419.5 842.7L424.5 835.7L429.4 830.3L434.4 822.3L439.4 817.7L444.4 809.6L449.3 803.6L454.3 797.4L459.3 792.5L464.3 787.1L469.2 781.2L474.2 774.7L479.2 767.7L484.1 760.5L489.1 752.7L494.1 746.0L499.1 739.5L504.0 734.5L509.0 728.1L514.0 722.0L518.9 716.8L523.9 711.5L528.9 705.9L533.9 700.4L538.8 694.7L543.8 691.3L548.8 686.1L553.7 680.1L558.7 676.3L563.7 672.5L568.7 669.3L573.6 663.8L578.6 660.0L583.6 655.8L588.6 648.9L593.5 644.3L598.5 639.0L603.5 632.7L608.4 629.0L613.4 623.3L618.4 618.3L623.4 613.1L628.3 610.3L633.3 606.3L638.3 601.6L643.2 597.1L648.2 591.0L653.2 586.2L658.2 581.0L663.1 575.1L668.1 568.8L673.1 562.6L678.0 555.1L683.0 548.1L688.0 540.2L693.0 529.3L697.9 519.1L702.9 512.5L707.9 505.5L712.9 497.6L717.8 488.7L722.8 480.1L727.8 474.9L732.7 471.5L737.7 466.7L742.7 462.6L747.7 460.1L752.6 455.7L757.6 453.9L762.6 451.6L767.5 451.8L772.5 450.4L777.5 450.3L782.5 450.3L787.4 447.2L792.4 446.0L797.4 447.0L802.3 446.7L807.3 447.1L812.3 446.9L817.3 448.3L822.2 448.6L827.2 447.8L832.2 450.7L837.2 452.3L842.1 453.9L847.1 453.1L852.1 453.8L857.0 456.7L862.0 456.7L867.0 458.8L872.0 460.8L876.9 462.7L881.9 463.8L886.9 464.8L891.8 468.5L896.8 469.3L901.8 471.6L906.8 476.3L911.7 478.2L916.7 479.4L921.7 482.8L926.6 486.0L931.6 488.6L936.6 490.6L941.6 495.8L946.5 498.8L951.5 501.4L956.5 504.2L961.5 508.7L966.4 513.2L971.4 515.9L976.4 520.4L981.3 524.0L986.3 529.2L991.3 533.8L996.3 537.9L1001.2 543.4L1006.2 549.6L1011.2 551.8L1016.1 557.4L1021.1 561.8L1026.1 568.2L1031.1 572.2L1036.0 576.9L1041.0 581.6L1046.0 587.7L1050.9 593.8L1055.9 598.8L1060.9 602.5L1065.9 610.7L1070.8 615.9L1075.8 621.7L1080.8 628.4L1085.8 633.5L1090.7 638.8L1095.7 643.8L1100.7 649.2L1105.6 653.9L1110.6 658.2L1115.6 665.2L1120.6 670.3L1125.5 677.5L1130.5 683.1L1135.5 688.9L1140.4 693.4L1145.4 698.6L1150.4 702.1L1155.4 706.5L1160.3 712.4L1165.3 715.2L1170.3 720.7L1175.2 724.6L1180.2 727.8L1185.2 732.6L1190.2 736.2L1195.1 739.8L1200.1 743.5L1205.1 748.3L1210.1 751.2L1215.0 755.4L1220.0 760.3L1225.0 764.2L1229.9 769.0L1234.9 771.6L1239.9 774.3L1244.9 779.2L1249.8 783.0L1254.8 785.4L1259.8 789.3L1264.7 792.3L1269.7 793.7L1274.7 796.3L1279.7 798.3L1284.6 801.8L1289.6 804.4L1294.6 806.8L1299.5 808.3L1304.5 811.1L1309.5 813.2L1314.5 815.4L1319.4 817.6L1324.4 819.5L1329.4 822.3L1334.4 825.1L1339.3 827.6L1344.3 829.6L1349.3 831.2L1354.2 833.3L1359.2 835.3L1364.2 836.8L1369.2 839.0L1374.1 840.8L1379.1 842.7L1384.1 844.9L1389.0 846.4L1394.0 849.0L1399.0 849.3L1404.0 851.3" stroke="#ff00ff" stroke-width="5.5"/></g><g stroke="#000" fill="none"><path d="M260 67V922" stroke-width="4"/><path d="M258 920H1404" stroke-width="4"/><path d="M260 69H1404" stroke-width="2"/><path d="M1403 68V922" stroke-width="2"/><path d="M260 699.2H279" stroke-width="4"/><path d="M260 488.9H279" stroke-width="4"/><path d="M260 278.6H279" stroke-width="4"/><path d="M260 69H279" stroke-width="4"/><path d="M260 804.3H271" stroke-width="4"/><path d="M260 594.0H271" stroke-width="4"/><path d="M260 383.7H271" stroke-width="4"/><path d="M260 173.5H271" stroke-width="4"/><path d="M509.0 920V901.5" stroke-width="3.5"/><path d="M757.6 920V901.5" stroke-width="3.5"/><path d="M1006.2 920V901.5" stroke-width="3.5"/><path d="M1254.8 920V901.5" stroke-width="3.5"/><path d="M384.7 920V909.5" stroke-width="3.5"/><path d="M633.3 920V909.5" stroke-width="3.5"/><path d="M881.9 920V909.5" stroke-width="3.5"/><path d="M1130.5 920V909.5" stroke-width="3.5"/><path d="M1379.1 920V909.5" stroke-width="3.5"/><path d="M1195.5 281V570" stroke-width="3"/></g><path d="M1190 567H1200L1196 583H1194.6Z" fill="#000"/><text transform="translate(224.9 717.5) scale(1.0 1.065)" font-family="Liberation Sans, sans-serif" font-size="49" font-weight="normal" text-anchor="end">1x10</text><text transform="translate(225.3 691.3) scale(1.0 1.065)" font-family="Liberation Sans, sans-serif" font-size="30.5" font-weight="normal" text-anchor="start">5</text><text transform="translate(224.9 507.2) scale(1.0 1.065)" font-family="Liberation Sans, sans-serif" font-size="49" font-weight="normal" text-anchor="end">2x10</text><text transform="translate(225.3 481.0) scale(1.0 1.065)" font-family="Liberation Sans, sans-serif" font-size="30.5" font-weight="normal" text-anchor="start">5</text><text transform="translate(224.9 297.2) scale(1.0 1.065)" font-family="Liberation Sans, sans-serif" font-size="49" font-weight="normal" text-anchor="end">3x10</text><text transform="translate(225.3 271.0) scale(1.0 1.065)" font-family="Liberation Sans, sans-serif" font-size="30.5" font-weight="normal" text-anchor="start">5</text><text transform="translate(224.9 87.4) scale(1.0 1.065)" font-family="Liberation Sans, sans-serif" font-size="49" font-weight="normal" text-anchor="end">4x10</text><text transform="translate(225.3 61.2) scale(1.0 1.065)" font-family="Liberation Sans, sans-serif" font-size="30.5" font-weight="normal" text-anchor="start">5</text><text transform="translate(240.7 918.3) scale(1.0 1.065)" font-family="Liberation Sans, sans-serif" font-size="49" font-weight="normal" text-anchor="end">0</text><text transform="translate(259.9 977.5) scale(1.0 1.065)" font-family="Liberation Sans, sans-serif" font-size="49" font-weight="normal" text-anchor="middle">300</text><text transform="translate(508.5 977.5) scale(1.0 1.065)" font-family="Liberation Sans, sans-serif" font-size="49" font-weight="normal" text-anchor="middle">350</text><text transform="translate(757.1 977.5) scale(1.0 1.065)" font-family="Liberation Sans, sans-serif" font-size="49" font-weight="normal" text-anchor="middle">400</text><text transform="translate(1005.7 977.5) scale(1.0 1.065)" font-family="Liberation Sans, sans-serif" font-size="49" font-weight="normal" text-anchor="middle">450</text><text transform="translate(1254.3 977.5) scale(1.0 1.065)" font-family="Liberation Sans, sans-serif" font-size="49" font-weight="normal" text-anchor="middle">500</text><text transform="translate(293.0 123.4) scale(1.0 1.03)" font-family="Liberation Sans, sans-serif" font-size="48.3" font-weight="bold" text-anchor="start">e</text><text transform="translate(571.5 129.9) scale(1.0 1.03)" font-family="Liberation Sans, sans-serif" font-size="48.08" font-weight="bold" text-anchor="start">Melatonine tablet + 1ml NaOH 1.5M</text><text transform="translate(829.5 209.5) scale(1.0 1.065)" font-family="Liberation Sans, sans-serif" font-size="49" font-weight="normal" text-anchor="start">423</text><text transform="translate(541.5 503.5) scale(1.0 1.065)" font-family="Liberation Sans, sans-serif" font-size="49" font-weight="normal" text-anchor="start">368</text><text transform="translate(1211.2 302.3) scale(1.0 1.065)" font-family="Liberation Sans, sans-serif" font-size="49" font-weight="normal" text-anchor="start">0 min.</text><text transform="translate(1212.0 607.3) scale(1.0 1.065)" font-family="Liberation Sans, sans-serif" font-size="49" font-weight="normal" text-anchor="start">131 min.</text><path d="M1072.4 165.2C1072.2 161 1074 158.4 1076.6 158.4C1079.6 158.4 1081.2 160.6 1081.7 164.5L1084.6 182.5C1085.4 187.5 1087.4 190.9 1090.3 190.9C1092.6 190.9 1094 188.4 1094.4 184.2" fill="none" stroke="#000" stroke-width="2.3"/><path d="M1070.6 191.4L1074.8 191.4L1083.9 172.2L1082.6 167.2Z" fill="#000"/><text transform="translate(1094.5 209.6) scale(1.0 1.065)" font-family="Liberation Sans, sans-serif" font-size="30.5" font-weight="normal" text-anchor="start">exc</text><text transform="translate(1153.5 191.1) scale(1.0 1.065)" font-family="Liberation Sans, sans-serif" font-size="49" font-weight="normal" text-anchor="start">= 275 nm</text><text transform="translate(624.5 1060.8) scale(1.0 1.03)" font-family="Liberation Sans, sans-serif" font-size="48.3" font-weight="bold" text-anchor="start">Wavelenghts (nm)</text><text x="0" y="0" font-family="Liberation Sans, sans-serif" font-size="48.3" font-weight="bold" text-anchor="start" transform="translate(84.9 799) rotate(-90)">PL Intesity (counts/sec)</text><text x="677.7" y="1228.7" font-family="Liberation Serif, serif" font-size="87">(<tspan font-weight="bold">e</tspan>)</text></svg></body></html>
